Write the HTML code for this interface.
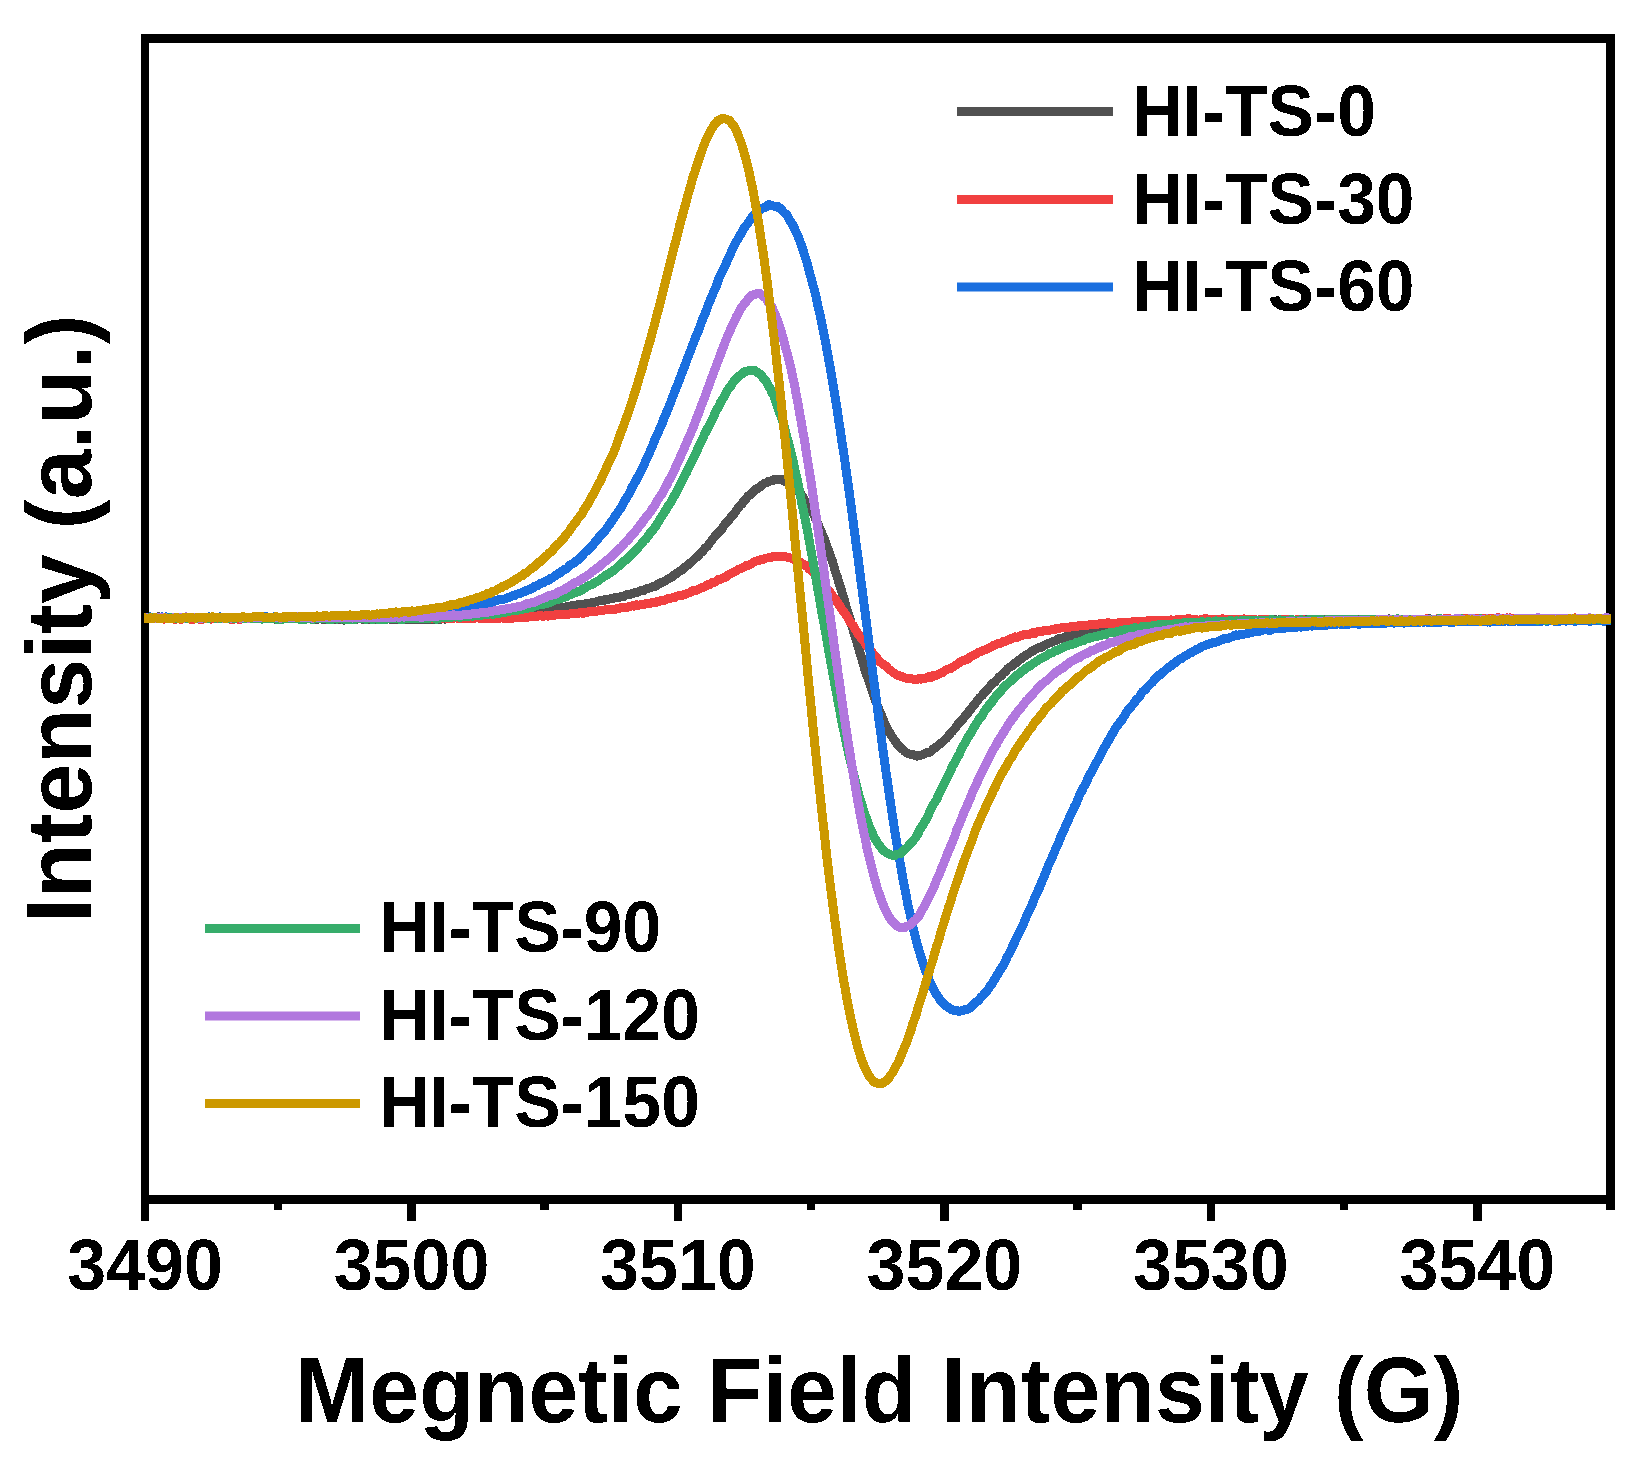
<!DOCTYPE html>
<html><head><meta charset="utf-8"><title>EPR spectra</title>
<style>
html,body{margin:0;padding:0;background:#fff;}
body{width:1647px;height:1469px;overflow:hidden;}
svg{display:block;}
text{filter:url(#bw);font-family:"Liberation Sans",Arial,Helvetica,sans-serif;font-weight:bold;fill:#000;}
.tick{font-size:70px;text-anchor:middle;}
.leg{font-size:69.6px;}
.title{font-size:89.5px;text-anchor:middle;}
.ytitle{font-size:89.8px;text-anchor:middle;}
</style></head><body>
<svg width="1647" height="1469" viewBox="0 0 1647 1469">
<rect width="1647" height="1469" fill="#fff"/>
<defs><clipPath id="clip"><rect x="144" y="38.5" width="1467" height="1161.0"/></clipPath>
<filter id="bw" x="-5%" y="-5%" width="110%" height="110%" color-interpolation-filters="sRGB"><feComponentTransfer><feFuncA type="discrete" tableValues="0 1"/></feComponentTransfer></filter></defs>
<g fill="#000"><rect x="141" y="34" width="8" height="1170"/><rect x="1606" y="34" width="9" height="1176"/><rect x="141" y="34" width="1474" height="9"/><rect x="141" y="1195" width="1474" height="9"/><rect x="141" y="1200" width="8" height="21"/><rect x="274" y="1200" width="8" height="10"/><rect x="407" y="1200" width="9" height="21"/><rect x="540" y="1200" width="9" height="10"/><rect x="674" y="1200" width="8" height="21"/><rect x="807" y="1200" width="8" height="10"/><rect x="940" y="1200" width="9" height="21"/><rect x="1073" y="1200" width="9" height="10"/><rect x="1207" y="1200" width="8" height="21"/><rect x="1340" y="1200" width="8" height="10"/><rect x="1473" y="1200" width="9" height="21"/></g>
<text class="tick" transform="translate(145.0,1290) scale(1,1.045)">3490</text>
<text class="tick" transform="translate(411.5,1290) scale(1,1.045)">3500</text>
<text class="tick" transform="translate(677.9,1290) scale(1,1.045)">3510</text>
<text class="tick" transform="translate(944.4,1290) scale(1,1.045)">3520</text>
<text class="tick" transform="translate(1210.8,1290) scale(1,1.045)">3530</text>
<text class="tick" transform="translate(1477.3,1290) scale(1,1.045)">3540</text>
<text class="title" transform="translate(879,1422) scale(1,1.035)">Megnetic Field Intensity (G)</text>
<text class="ytitle" transform="translate(91,619) rotate(-90) scale(1,1.035)">Intensity (a.u.)</text>
<g clip-path="url(#clip)" fill="none" stroke-linejoin="round" stroke-linecap="butt" shape-rendering="crispEdges">
<path d="M140.0,617.6 L141.0,617.6 L142.0,617.4 L143.0,617.3 L144.0,617.2 L145.0,617.3 L146.0,617.7 L147.0,617.9 L148.0,617.6 L149.0,617.5 L150.0,617.7 L151.0,617.8 L152.0,617.6 L153.0,617.4 L154.0,617.6 L155.0,617.7 L156.0,617.3 L157.0,617.1 L158.0,616.9 L159.0,616.8 L160.0,617.0 L161.0,617.2 L162.0,617.4 L163.0,617.6 L164.0,617.8 L165.0,617.3 L166.0,616.9 L167.0,617.2 L168.0,617.7 L169.0,617.6 L170.0,617.3 L171.0,617.3 L172.0,617.3 L173.0,617.6 L174.0,617.8 L175.0,617.7 L176.0,617.8 L177.0,618.0 L178.0,617.7 L179.0,617.7 L180.0,617.8 L181.0,617.7 L182.0,617.5 L183.0,617.9 L184.0,618.0 L185.0,617.7 L186.0,617.9 L187.0,617.9 L188.0,618.0 L189.0,618.4 L190.0,618.2 L191.0,617.7 L192.0,617.8 L193.0,618.0 L194.0,618.0 L195.0,618.1 L196.0,618.1 L197.0,618.3 L198.0,618.3 L199.0,618.0 L200.0,617.8 L201.0,617.9 L202.0,617.8 L203.0,617.6 L204.0,617.6 L205.0,618.0 L206.0,618.4 L207.0,618.3 L208.0,617.7 L209.0,617.7 L210.0,617.8 L211.0,617.5 L212.0,617.6 L213.0,618.1 L214.0,618.5 L215.0,618.4 L216.0,618.0 L217.0,617.9 L218.0,618.2 L219.0,618.4 L220.0,618.1 L221.0,618.0 L222.0,618.1 L223.0,618.1 L224.0,617.9 L225.0,617.8 L226.0,617.9 L227.0,618.2 L228.0,618.5 L229.0,618.5 L230.0,618.3 L231.0,618.3 L232.0,618.3 L233.0,618.4 L234.0,618.4 L235.0,618.2 L236.0,618.0 L237.0,617.9 L238.0,617.5 L239.0,617.4 L240.0,617.8 L241.0,618.0 L242.0,618.5 L243.0,618.8 L244.0,618.3 L245.0,618.0 L246.0,618.3 L247.0,618.4 L248.0,618.3 L249.0,618.3 L250.0,618.6 L251.0,618.4 L252.0,618.1 L253.0,618.2 L254.0,618.2 L255.0,618.1 L256.0,618.2 L257.0,618.3 L258.0,618.6 L259.0,618.6 L260.0,618.4 L261.0,618.3 L262.0,618.1 L263.0,617.7 L264.0,617.9 L265.0,618.1 L266.0,618.1 L267.0,618.2 L268.0,618.2 L269.0,618.4 L270.0,618.5 L271.0,618.6 L272.0,618.5 L273.0,618.3 L274.0,618.9 L275.0,619.1 L276.0,618.7 L277.0,618.5 L278.0,618.4 L279.0,618.5 L280.0,618.7 L281.0,618.6 L282.0,618.4 L283.0,618.3 L284.0,618.2 L285.0,618.4 L286.0,618.8 L287.0,618.9 L288.0,618.9 L289.0,618.7 L290.0,618.5 L291.0,618.5 L292.0,618.5 L293.0,618.6 L294.0,618.6 L295.0,618.4 L296.0,618.2 L297.0,618.6 L298.0,619.0 L299.0,618.7 L300.0,618.5 L301.0,619.0 L302.0,619.1 L303.0,618.6 L304.0,618.5 L305.0,618.4 L306.0,618.4 L307.0,618.8 L308.0,619.0 L309.0,618.8 L310.0,618.8 L311.0,618.9 L312.0,618.8 L313.0,618.7 L314.0,618.5 L315.0,618.7 L316.0,619.1 L317.0,619.1 L318.0,619.0 L319.0,619.0 L320.0,618.8 L321.0,618.9 L322.0,619.1 L323.0,619.0 L324.0,619.0 L325.0,619.2 L326.0,619.5 L327.0,619.5 L328.0,619.2 L329.0,618.8 L330.0,618.8 L331.0,619.3 L332.0,619.5 L333.0,619.3 L334.0,619.4 L335.0,619.6 L336.0,619.6 L337.0,619.5 L338.0,619.4 L339.0,619.4 L340.0,619.2 L341.0,619.4 L342.0,619.6 L343.0,619.8 L344.0,620.1 L345.0,619.8 L346.0,618.9 L347.0,618.8 L348.0,619.1 L349.0,619.1 L350.0,619.3 L351.0,619.3 L352.0,618.7 L353.0,618.6 L354.0,619.1 L355.0,619.4 L356.0,619.3 L357.0,619.2 L358.0,618.9 L359.0,618.8 L360.0,619.0 L361.0,618.9 L362.0,618.9 L363.0,619.3 L364.0,619.5 L365.0,619.4 L366.0,619.1 L367.0,619.0 L368.0,618.9 L369.0,619.1 L370.0,619.3 L371.0,619.3 L372.0,619.5 L373.0,619.9 L374.0,619.9 L375.0,619.5 L376.0,619.5 L377.0,619.6 L378.0,619.2 L379.0,619.0 L380.0,619.2 L381.0,619.6 L382.0,619.6 L383.0,619.4 L384.0,619.6 L385.0,619.8 L386.0,619.3 L387.0,618.8 L388.0,618.7 L389.0,618.4 L390.0,618.2 L391.0,619.1 L392.0,619.8 L393.0,619.5 L394.0,619.0 L395.0,619.2 L396.0,619.7 L397.0,619.7 L398.0,619.5 L399.0,619.4 L400.0,619.6 L401.0,619.7 L402.0,619.7 L403.0,619.4 L404.0,619.2 L405.0,619.3 L406.0,619.4 L407.0,619.4 L408.0,619.2 L409.0,619.2 L410.0,619.2 L411.0,619.2 L412.0,619.8 L413.0,619.9 L414.0,619.5 L415.0,619.5 L416.0,619.2 L417.0,618.7 L418.0,619.0 L419.0,619.3 L420.0,619.1 L421.0,618.9 L422.0,619.0 L423.0,619.3 L424.0,619.5 L425.0,619.4 L426.0,619.4 L427.0,619.5 L428.0,619.1 L429.0,618.7 L430.0,618.7 L431.0,619.4 L432.0,619.6 L433.0,619.5 L434.0,619.3 L435.0,619.1 L436.0,619.0 L437.0,618.8 L438.0,618.8 L439.0,619.0 L440.0,619.3 L441.0,619.1 L442.0,618.7 L443.0,618.5 L444.0,618.6 L445.0,619.1 L446.0,619.0 L447.0,618.6 L448.0,618.3 L449.0,618.1 L450.0,618.4 L451.0,618.6 L452.0,618.4 L453.0,618.2 L454.0,618.2 L455.0,618.0 L456.0,617.8 L457.0,617.8 L458.0,618.0 L459.0,618.1 L460.0,618.0 L461.0,618.3 L462.0,618.4 L463.0,617.9 L464.0,617.7 L465.0,617.8 L466.0,617.6 L467.0,617.5 L468.0,617.9 L469.0,618.2 L470.0,617.7 L471.0,617.2 L472.0,617.1 L473.0,617.1 L474.0,616.8 L475.0,616.9 L476.0,617.2 L477.0,617.2 L478.0,617.4 L479.0,617.6 L480.0,617.2 L481.0,617.3 L482.0,617.3 L483.0,616.8 L484.0,616.2 L485.0,616.1 L486.0,616.5 L487.0,616.9 L488.0,616.6 L489.0,616.0 L490.0,615.7 L491.0,615.8 L492.0,616.0 L493.0,615.9 L494.0,615.9 L495.0,615.8 L496.0,615.6 L497.0,615.5 L498.0,615.5 L499.0,615.4 L500.0,615.7 L501.0,615.9 L502.0,615.5 L503.0,614.9 L504.0,614.5 L505.0,614.4 L506.0,614.0 L507.0,614.1 L508.0,614.7 L509.0,614.7 L510.0,614.1 L511.0,613.7 L512.0,613.7 L513.0,613.8 L514.0,614.3 L515.0,614.5 L516.0,613.9 L517.0,613.2 L518.0,613.0 L519.0,613.1 L520.0,613.0 L521.0,612.8 L522.0,612.7 L523.0,612.7 L524.0,613.1 L525.0,613.2 L526.0,612.9 L527.0,612.5 L528.0,612.3 L529.0,612.1 L530.0,611.9 L531.0,611.6 L532.0,611.2 L533.0,611.2 L534.0,611.5 L535.0,611.5 L536.0,611.4 L537.0,611.2 L538.0,610.5 L539.0,610.4 L540.0,610.7 L541.0,610.7 L542.0,610.5 L543.0,610.6 L544.0,610.2 L545.0,609.6 L546.0,609.6 L547.0,609.9 L548.0,609.6 L549.0,609.2 L550.0,609.5 L551.0,609.7 L552.0,609.4 L553.0,608.9 L554.0,608.5 L555.0,608.6 L556.0,609.0 L557.0,608.8 L558.0,608.5 L559.0,608.1 L560.0,607.6 L561.0,607.2 L562.0,607.3 L563.0,607.4 L564.0,607.2 L565.0,607.3 L566.0,607.0 L567.0,606.5 L568.0,606.3 L569.0,606.2 L570.0,606.1 L571.0,605.9 L572.0,605.6 L573.0,605.5 L574.0,605.1 L575.0,605.0 L576.0,605.2 L577.0,605.2 L578.0,604.7 L579.0,604.5 L580.0,604.3 L581.0,604.2 L582.0,604.3 L583.0,604.3 L584.0,604.2 L585.0,603.8 L586.0,603.6 L587.0,603.3 L588.0,603.1 L589.0,603.1 L590.0,603.1 L591.0,602.9 L592.0,602.5 L593.0,602.1 L594.0,602.0 L595.0,602.2 L596.0,602.0 L597.0,601.5 L598.0,601.1 L599.0,600.9 L600.0,600.9 L601.0,600.5 L602.0,600.1 L603.0,600.4 L604.0,600.4 L605.0,599.7 L606.0,599.3 L607.0,599.2 L608.0,599.2 L609.0,599.2 L610.0,598.9 L611.0,598.7 L612.0,598.7 L613.0,598.4 L614.0,598.2 L615.0,597.7 L616.0,597.1 L617.0,597.2 L618.0,597.6 L619.0,597.4 L620.0,597.0 L621.0,596.7 L622.0,596.5 L623.0,596.5 L624.0,596.4 L625.0,595.5 L626.0,594.8 L627.0,594.5 L628.0,594.6 L629.0,594.8 L630.0,594.6 L631.0,593.8 L632.0,593.3 L633.0,593.5 L634.0,593.3 L635.0,592.5 L636.0,592.3 L637.0,592.3 L638.0,592.1 L639.0,591.6 L640.0,591.0 L641.0,590.6 L642.0,590.5 L643.0,590.8 L644.0,590.5 L645.0,589.7 L646.0,588.9 L647.0,588.4 L648.0,588.3 L649.0,588.2 L650.0,587.9 L651.0,587.3 L652.0,586.8 L653.0,586.5 L654.0,586.4 L655.0,586.4 L656.0,586.1 L657.0,585.0 L658.0,584.2 L659.0,583.8 L660.0,583.2 L661.0,582.7 L662.0,582.3 L663.0,581.8 L664.0,581.5 L665.0,581.0 L666.0,580.4 L667.0,579.7 L668.0,578.9 L669.0,578.3 L670.0,577.8 L671.0,577.3 L672.0,576.8 L673.0,576.1 L674.0,575.2 L675.0,574.5 L676.0,573.8 L677.0,573.1 L678.0,572.4 L679.0,571.5 L680.0,571.2 L681.0,570.7 L682.0,569.8 L683.0,568.9 L684.0,568.0 L685.0,567.2 L686.0,566.4 L687.0,565.7 L688.0,564.8 L689.0,563.9 L690.0,563.2 L691.0,562.5 L692.0,561.4 L693.0,560.5 L694.0,559.5 L695.0,558.4 L696.0,557.7 L697.0,556.9 L698.0,555.9 L699.0,554.8 L700.0,553.6 L701.0,552.6 L702.0,551.8 L703.0,550.8 L704.0,549.4 L705.0,548.1 L706.0,547.4 L707.0,546.7 L708.0,545.5 L709.0,543.9 L710.0,542.5 L711.0,541.6 L712.0,540.2 L713.0,538.6 L714.0,537.6 L715.0,536.3 L716.0,535.0 L717.0,534.3 L718.0,533.4 L719.0,532.1 L720.0,531.0 L721.0,530.3 L722.0,529.0 L723.0,527.2 L724.0,525.5 L725.0,524.1 L726.0,523.0 L727.0,522.1 L728.0,520.9 L729.0,519.7 L730.0,518.4 L731.0,516.9 L732.0,515.7 L733.0,514.8 L734.0,513.7 L735.0,512.5 L736.0,511.0 L737.0,509.6 L738.0,508.3 L739.0,506.7 L740.0,505.5 L741.0,504.7 L742.0,503.7 L743.0,502.3 L744.0,500.9 L745.0,499.8 L746.0,498.8 L747.0,497.4 L748.0,496.2 L749.0,495.7 L750.0,495.2 L751.0,494.1 L752.0,492.9 L753.0,492.1 L754.0,490.9 L755.0,489.6 L756.0,489.0 L757.0,488.8 L758.0,488.2 L759.0,487.7 L760.0,486.8 L761.0,485.8 L762.0,485.1 L763.0,484.4 L764.0,483.6 L765.0,483.1 L766.0,483.0 L767.0,482.7 L768.0,481.8 L769.0,481.2 L770.0,481.1 L771.0,480.9 L772.0,480.6 L773.0,480.3 L774.0,479.7 L775.0,479.5 L776.0,479.6 L777.0,479.9 L778.0,479.7 L779.0,479.2 L780.0,479.3 L781.0,479.7 L782.0,479.7 L783.0,479.9 L784.0,480.8 L785.0,481.3 L786.0,481.5 L787.0,481.9 L788.0,482.5 L789.0,483.2 L790.0,483.7 L791.0,484.0 L792.0,484.6 L793.0,485.6 L794.0,486.5 L795.0,487.6 L796.0,488.5 L797.0,489.3 L798.0,490.4 L799.0,491.7 L800.0,493.0 L801.0,494.0 L802.0,495.4 L803.0,497.4 L804.0,499.3 L805.0,500.6 L806.0,501.6 L807.0,503.1 L808.0,504.9 L809.0,506.2 L810.0,507.7 L811.0,509.7 L812.0,511.7 L813.0,513.2 L814.0,514.8 L815.0,517.1 L816.0,519.6 L817.0,521.8 L818.0,524.0 L819.0,526.5 L820.0,528.9 L821.0,531.2 L822.0,533.5 L823.0,535.8 L824.0,538.2 L825.0,541.0 L826.0,544.0 L827.0,546.5 L828.0,549.0 L829.0,551.8 L830.0,554.9 L831.0,557.7 L832.0,560.2 L833.0,563.1 L834.0,566.8 L835.0,570.5 L836.0,573.4 L837.0,576.1 L838.0,579.5 L839.0,582.9 L840.0,585.7 L841.0,588.8 L842.0,592.4 L843.0,595.7 L844.0,598.9 L845.0,602.2 L846.0,606.1 L847.0,609.6 L848.0,612.7 L849.0,615.6 L850.0,618.6 L851.0,622.3 L852.0,626.0 L853.0,629.5 L854.0,632.9 L855.0,635.9 L856.0,639.1 L857.0,642.7 L858.0,646.1 L859.0,649.4 L860.0,652.8 L861.0,655.9 L862.0,659.2 L863.0,663.0 L864.0,666.6 L865.0,670.1 L866.0,673.3 L867.0,675.8 L868.0,678.3 L869.0,681.3 L870.0,684.4 L871.0,687.6 L872.0,690.5 L873.0,693.2 L874.0,696.1 L875.0,698.9 L876.0,701.8 L877.0,704.6 L878.0,707.1 L879.0,709.6 L880.0,711.9 L881.0,714.1 L882.0,716.4 L883.0,719.2 L884.0,722.1 L885.0,724.5 L886.0,726.3 L887.0,727.8 L888.0,729.6 L889.0,731.6 L890.0,733.3 L891.0,734.8 L892.0,736.4 L893.0,738.0 L894.0,739.4 L895.0,740.7 L896.0,742.0 L897.0,743.7 L898.0,745.4 L899.0,746.2 L900.0,747.1 L901.0,748.3 L902.0,749.1 L903.0,749.7 L904.0,750.6 L905.0,751.7 L906.0,752.4 L907.0,753.1 L908.0,753.7 L909.0,753.9 L910.0,754.1 L911.0,754.7 L912.0,755.0 L913.0,754.8 L914.0,754.9 L915.0,755.4 L916.0,755.8 L917.0,756.1 L918.0,755.9 L919.0,755.4 L920.0,755.4 L921.0,755.2 L922.0,754.9 L923.0,754.7 L924.0,754.0 L925.0,753.3 L926.0,753.1 L927.0,752.7 L928.0,752.4 L929.0,752.3 L930.0,752.0 L931.0,751.5 L932.0,750.4 L933.0,749.2 L934.0,748.5 L935.0,747.8 L936.0,747.1 L937.0,746.6 L938.0,745.5 L939.0,744.5 L940.0,744.0 L941.0,743.3 L942.0,742.4 L943.0,741.5 L944.0,740.5 L945.0,739.6 L946.0,738.7 L947.0,737.6 L948.0,736.4 L949.0,735.1 L950.0,733.7 L951.0,732.6 L952.0,731.7 L953.0,730.5 L954.0,729.4 L955.0,728.6 L956.0,727.2 L957.0,725.4 L958.0,724.1 L959.0,723.3 L960.0,722.2 L961.0,721.0 L962.0,719.8 L963.0,718.7 L964.0,717.5 L965.0,716.2 L966.0,715.1 L967.0,714.5 L968.0,713.3 L969.0,711.4 L970.0,709.8 L971.0,708.7 L972.0,707.6 L973.0,706.2 L974.0,705.0 L975.0,703.8 L976.0,702.4 L977.0,701.2 L978.0,699.9 L979.0,698.4 L980.0,697.3 L981.0,696.6 L982.0,695.7 L983.0,694.3 L984.0,692.8 L985.0,692.0 L986.0,691.3 L987.0,690.2 L988.0,688.8 L989.0,687.6 L990.0,686.6 L991.0,685.3 L992.0,684.0 L993.0,683.2 L994.0,682.7 L995.0,681.7 L996.0,680.6 L997.0,679.4 L998.0,678.4 L999.0,677.2 L1000.0,676.5 L1001.0,676.1 L1002.0,674.8 L1003.0,673.4 L1004.0,672.4 L1005.0,671.8 L1006.0,671.0 L1007.0,669.5 L1008.0,668.3 L1009.0,667.7 L1010.0,667.1 L1011.0,666.5 L1012.0,665.9 L1013.0,665.0 L1014.0,664.0 L1015.0,663.0 L1016.0,662.7 L1017.0,662.3 L1018.0,661.3 L1019.0,660.2 L1020.0,659.6 L1021.0,659.0 L1022.0,657.8 L1023.0,657.1 L1024.0,656.7 L1025.0,656.0 L1026.0,655.2 L1027.0,654.5 L1028.0,653.9 L1029.0,653.3 L1030.0,652.5 L1031.0,651.7 L1032.0,651.4 L1033.0,651.0 L1034.0,650.2 L1035.0,649.7 L1036.0,649.2 L1037.0,648.5 L1038.0,647.9 L1039.0,647.5 L1040.0,647.6 L1041.0,647.7 L1042.0,647.0 L1043.0,646.0 L1044.0,645.4 L1045.0,644.9 L1046.0,644.6 L1047.0,644.1 L1048.0,643.4 L1049.0,643.1 L1050.0,642.9 L1051.0,642.6 L1052.0,642.0 L1053.0,641.3 L1054.0,641.1 L1055.0,640.9 L1056.0,640.5 L1057.0,640.0 L1058.0,639.2 L1059.0,638.7 L1060.0,638.9 L1061.0,638.9 L1062.0,638.4 L1063.0,638.1 L1064.0,637.8 L1065.0,637.2 L1066.0,636.7 L1067.0,636.7 L1068.0,636.5 L1069.0,636.0 L1070.0,635.9 L1071.0,635.4 L1072.0,635.1 L1073.0,635.2 L1074.0,634.7 L1075.0,634.1 L1076.0,634.1 L1077.0,634.4 L1078.0,634.2 L1079.0,633.6 L1080.0,633.5 L1081.0,633.2 L1082.0,632.8 L1083.0,632.6 L1084.0,632.4 L1085.0,632.0 L1086.0,631.8 L1087.0,631.8 L1088.0,631.5 L1089.0,631.2 L1090.0,631.2 L1091.0,631.3 L1092.0,631.2 L1093.0,631.1 L1094.0,631.0 L1095.0,631.0 L1096.0,630.7 L1097.0,630.2 L1098.0,629.9 L1099.0,629.9 L1100.0,630.2 L1101.0,629.8 L1102.0,628.7 L1103.0,628.6 L1104.0,629.0 L1105.0,629.1 L1106.0,628.9 L1107.0,628.6 L1108.0,628.5 L1109.0,628.4 L1110.0,628.2 L1111.0,627.9 L1112.0,627.4 L1113.0,627.4 L1114.0,627.5 L1115.0,627.5 L1116.0,627.2 L1117.0,626.9 L1118.0,626.9 L1119.0,626.6 L1120.0,626.2 L1121.0,626.1 L1122.0,626.4 L1123.0,626.8 L1124.0,626.7 L1125.0,626.5 L1126.0,626.5 L1127.0,626.2 L1128.0,626.0 L1129.0,626.2 L1130.0,626.1 L1131.0,625.7 L1132.0,625.5 L1133.0,625.4 L1134.0,625.3 L1135.0,625.2 L1136.0,625.4 L1137.0,625.3 L1138.0,625.0 L1139.0,624.9 L1140.0,625.0 L1141.0,624.9 L1142.0,625.0 L1143.0,625.2 L1144.0,625.2 L1145.0,625.2 L1146.0,624.9 L1147.0,624.3 L1148.0,624.2 L1149.0,624.3 L1150.0,624.3 L1151.0,624.1 L1152.0,623.7 L1153.0,623.4 L1154.0,623.3 L1155.0,623.2 L1156.0,623.5 L1157.0,623.5 L1158.0,623.3 L1159.0,623.5 L1160.0,623.4 L1161.0,622.9 L1162.0,622.6 L1163.0,622.5 L1164.0,622.5 L1165.0,622.9 L1166.0,623.4 L1167.0,623.2 L1168.0,622.9 L1169.0,622.8 L1170.0,622.8 L1171.0,622.9 L1172.0,622.9 L1173.0,623.2 L1174.0,623.4 L1175.0,623.1 L1176.0,622.6 L1177.0,622.5 L1178.0,622.6 L1179.0,622.7 L1180.0,622.7 L1181.0,622.8 L1182.0,622.6 L1183.0,622.0 L1184.0,622.1 L1185.0,622.5 L1186.0,622.2 L1187.0,621.9 L1188.0,621.8 L1189.0,621.8 L1190.0,622.3 L1191.0,622.9 L1192.0,622.5 L1193.0,621.7 L1194.0,621.5 L1195.0,621.8 L1196.0,622.0 L1197.0,621.7 L1198.0,621.7 L1199.0,622.1 L1200.0,622.1 L1201.0,621.6 L1202.0,621.1 L1203.0,621.0 L1204.0,620.9 L1205.0,621.0 L1206.0,621.4 L1207.0,621.6 L1208.0,621.8 L1209.0,622.2 L1210.0,621.9 L1211.0,621.4 L1212.0,621.7 L1213.0,621.7 L1214.0,621.2 L1215.0,621.0 L1216.0,620.9 L1217.0,621.0 L1218.0,621.1 L1219.0,620.6 L1220.0,620.6 L1221.0,620.9 L1222.0,621.1 L1223.0,621.2 L1224.0,621.2 L1225.0,621.2 L1226.0,621.1 L1227.0,620.6 L1228.0,620.7 L1229.0,620.8 L1230.0,621.0 L1231.0,620.9 L1232.0,620.7 L1233.0,620.8 L1234.0,621.1 L1235.0,621.0 L1236.0,621.0 L1237.0,621.7 L1238.0,621.6 L1239.0,620.8 L1240.0,621.0 L1241.0,621.6 L1242.0,621.4 L1243.0,620.9 L1244.0,620.6 L1245.0,620.5 L1246.0,620.5 L1247.0,620.6 L1248.0,620.7 L1249.0,620.6 L1250.0,620.3 L1251.0,620.2 L1252.0,620.3 L1253.0,620.3 L1254.0,620.6 L1255.0,620.9 L1256.0,620.9 L1257.0,620.8 L1258.0,620.7 L1259.0,620.6 L1260.0,620.4 L1261.0,620.5 L1262.0,620.5 L1263.0,620.4 L1264.0,620.7 L1265.0,620.5 L1266.0,620.1 L1267.0,620.1 L1268.0,620.2 L1269.0,620.2 L1270.0,620.3 L1271.0,620.5 L1272.0,620.0 L1273.0,619.5 L1274.0,619.5 L1275.0,619.6 L1276.0,620.2 L1277.0,620.7 L1278.0,620.4 L1279.0,619.9 L1280.0,620.1 L1281.0,620.7 L1282.0,620.6 L1283.0,620.4 L1284.0,620.8 L1285.0,621.2 L1286.0,620.9 L1287.0,620.4 L1288.0,620.4 L1289.0,620.3 L1290.0,619.9 L1291.0,619.8 L1292.0,619.9 L1293.0,619.9 L1294.0,620.0 L1295.0,620.4 L1296.0,620.6 L1297.0,620.2 L1298.0,619.9 L1299.0,620.1 L1300.0,620.3 L1301.0,620.3 L1302.0,619.9 L1303.0,619.5 L1304.0,619.3 L1305.0,619.6 L1306.0,620.0 L1307.0,620.0 L1308.0,619.7 L1309.0,619.8 L1310.0,620.0 L1311.0,620.0 L1312.0,619.8 L1313.0,619.6 L1314.0,619.3 L1315.0,619.6 L1316.0,619.9 L1317.0,619.5 L1318.0,619.6 L1319.0,619.9 L1320.0,619.7 L1321.0,619.6 L1322.0,619.8 L1323.0,619.9 L1324.0,619.6 L1325.0,619.3 L1326.0,619.5 L1327.0,619.5 L1328.0,619.6 L1329.0,619.9 L1330.0,620.2 L1331.0,620.1 L1332.0,619.9 L1333.0,620.2 L1334.0,620.4 L1335.0,620.5 L1336.0,620.3 L1337.0,619.9 L1338.0,619.8 L1339.0,619.8 L1340.0,619.6 L1341.0,619.6 L1342.0,619.6 L1343.0,619.4 L1344.0,619.1 L1345.0,619.3 L1346.0,619.8 L1347.0,620.1 L1348.0,620.1 L1349.0,619.8 L1350.0,619.6 L1351.0,619.5 L1352.0,619.7 L1353.0,619.8 L1354.0,620.1 L1355.0,620.3 L1356.0,619.7 L1357.0,619.2 L1358.0,619.1 L1359.0,619.0 L1360.0,619.3 L1361.0,619.9 L1362.0,619.7 L1363.0,619.4 L1364.0,619.8 L1365.0,620.1 L1366.0,619.6 L1367.0,619.4 L1368.0,619.5 L1369.0,619.8 L1370.0,620.0 L1371.0,620.2 L1372.0,620.3 L1373.0,620.3 L1374.0,620.3 L1375.0,619.8 L1376.0,619.3 L1377.0,619.4 L1378.0,619.6 L1379.0,619.7 L1380.0,619.8 L1381.0,619.5 L1382.0,619.5 L1383.0,620.0 L1384.0,620.0 L1385.0,619.9 L1386.0,620.0 L1387.0,620.1 L1388.0,619.5 L1389.0,618.9 L1390.0,619.0 L1391.0,619.2 L1392.0,619.3 L1393.0,619.7 L1394.0,619.9 L1395.0,619.4 L1396.0,619.5 L1397.0,619.9 L1398.0,619.5 L1399.0,619.2 L1400.0,619.5 L1401.0,619.6 L1402.0,619.5 L1403.0,619.6 L1404.0,619.4 L1405.0,619.2 L1406.0,619.6 L1407.0,619.7 L1408.0,619.5 L1409.0,619.5 L1410.0,619.9 L1411.0,620.2 L1412.0,619.9 L1413.0,619.8 L1414.0,619.7 L1415.0,619.6 L1416.0,619.8 L1417.0,620.0 L1418.0,620.0 L1419.0,619.7 L1420.0,619.3 L1421.0,619.3 L1422.0,619.6 L1423.0,619.9 L1424.0,620.0 L1425.0,619.9 L1426.0,620.0 L1427.0,620.1 L1428.0,619.5 L1429.0,618.9 L1430.0,618.8 L1431.0,619.1 L1432.0,619.6 L1433.0,619.6 L1434.0,619.8 L1435.0,620.0 L1436.0,620.2 L1437.0,620.0 L1438.0,619.5 L1439.0,619.4 L1440.0,619.5 L1441.0,619.4 L1442.0,619.3 L1443.0,619.6 L1444.0,619.7 L1445.0,619.2 L1446.0,619.2 L1447.0,619.3 L1448.0,619.5 L1449.0,619.7 L1450.0,619.7 L1451.0,619.4 L1452.0,619.3 L1453.0,619.4 L1454.0,619.5 L1455.0,619.6 L1456.0,619.2 L1457.0,618.6 L1458.0,618.9 L1459.0,619.6 L1460.0,619.9 L1461.0,619.8 L1462.0,619.3 L1463.0,619.3 L1464.0,619.9 L1465.0,620.1 L1466.0,619.7 L1467.0,619.1 L1468.0,619.1 L1469.0,619.8 L1470.0,620.4 L1471.0,620.2 L1472.0,619.9 L1473.0,619.6 L1474.0,619.4 L1475.0,619.5 L1476.0,619.2 L1477.0,619.2 L1478.0,619.6 L1479.0,619.7 L1480.0,619.7 L1481.0,619.5 L1482.0,619.1 L1483.0,619.0 L1484.0,619.1 L1485.0,619.0 L1486.0,618.8 L1487.0,618.8 L1488.0,618.8 L1489.0,618.6 L1490.0,618.6 L1491.0,618.8 L1492.0,619.3 L1493.0,619.8 L1494.0,619.8 L1495.0,619.2 L1496.0,619.1 L1497.0,619.5 L1498.0,619.4 L1499.0,619.5 L1500.0,619.8 L1501.0,619.4 L1502.0,618.8 L1503.0,618.9 L1504.0,619.3 L1505.0,619.3 L1506.0,618.9 L1507.0,619.0 L1508.0,619.5 L1509.0,619.5 L1510.0,619.4 L1511.0,619.5 L1512.0,619.4 L1513.0,618.9 L1514.0,619.1 L1515.0,619.4 L1516.0,619.0 L1517.0,618.7 L1518.0,619.1 L1519.0,619.8 L1520.0,619.6 L1521.0,619.4 L1522.0,619.6 L1523.0,619.6 L1524.0,619.7 L1525.0,620.0 L1526.0,619.8 L1527.0,619.4 L1528.0,619.2 L1529.0,619.3 L1530.0,618.9 L1531.0,619.0 L1532.0,619.9 L1533.0,620.2 L1534.0,619.9 L1535.0,619.6 L1536.0,619.9 L1537.0,620.2 L1538.0,620.0 L1539.0,619.4 L1540.0,619.0 L1541.0,618.9 L1542.0,618.5 L1543.0,618.6 L1544.0,619.0 L1545.0,619.1 L1546.0,619.2 L1547.0,619.6 L1548.0,620.1 L1549.0,620.0 L1550.0,619.7 L1551.0,619.6 L1552.0,619.3 L1553.0,619.3 L1554.0,619.4 L1555.0,619.1 L1556.0,618.9 L1557.0,619.0 L1558.0,619.5 L1559.0,619.7 L1560.0,619.4 L1561.0,619.2 L1562.0,619.0 L1563.0,618.8 L1564.0,619.1 L1565.0,619.9 L1566.0,620.3 L1567.0,619.7 L1568.0,619.3 L1569.0,619.4 L1570.0,619.5 L1571.0,619.6 L1572.0,619.6 L1573.0,619.6 L1574.0,619.5 L1575.0,619.2 L1576.0,619.0 L1577.0,618.8 L1578.0,618.8 L1579.0,618.9 L1580.0,619.0 L1581.0,619.1 L1582.0,619.3 L1583.0,619.3 L1584.0,618.9 L1585.0,618.8 L1586.0,619.1 L1587.0,619.7 L1588.0,620.1 L1589.0,619.8 L1590.0,619.6 L1591.0,619.5 L1592.0,619.4 L1593.0,619.5 L1594.0,619.0 L1595.0,618.9 L1596.0,619.9 L1597.0,620.0 L1598.0,619.3 L1599.0,619.3 L1600.0,619.4 L1601.0,619.2 L1602.0,618.9 L1603.0,619.1 L1604.0,619.5 L1605.0,619.7 L1606.0,619.8 L1607.0,619.9 L1608.0,619.9 L1609.0,619.6 L1610.0,619.1 L1611.0,618.7 L1612.0,619.0 L1613.0,619.5 L1614.0,619.4 L1615.0,619.4" stroke="#515151" stroke-width="9"/>
<path d="M140.0,618.7 L141.0,619.1 L142.0,619.3 L143.0,619.0 L144.0,618.8 L145.0,618.5 L146.0,618.3 L147.0,618.2 L148.0,618.5 L149.0,618.8 L150.0,618.9 L151.0,618.7 L152.0,618.4 L153.0,618.2 L154.0,618.2 L155.0,618.5 L156.0,618.8 L157.0,618.8 L158.0,618.6 L159.0,618.5 L160.0,618.5 L161.0,618.8 L162.0,618.6 L163.0,618.9 L164.0,619.1 L165.0,618.2 L166.0,618.0 L167.0,618.5 L168.0,618.5 L169.0,618.3 L170.0,618.5 L171.0,618.8 L172.0,618.6 L173.0,618.3 L174.0,618.9 L175.0,619.4 L176.0,619.1 L177.0,618.6 L178.0,618.2 L179.0,618.1 L180.0,618.8 L181.0,619.4 L182.0,618.8 L183.0,618.1 L184.0,618.3 L185.0,618.7 L186.0,618.9 L187.0,618.8 L188.0,618.4 L189.0,618.5 L190.0,619.1 L191.0,619.2 L192.0,619.2 L193.0,619.3 L194.0,619.0 L195.0,618.8 L196.0,619.0 L197.0,618.7 L198.0,618.4 L199.0,619.0 L200.0,619.6 L201.0,619.5 L202.0,619.3 L203.0,618.7 L204.0,618.3 L205.0,618.7 L206.0,618.6 L207.0,618.0 L208.0,618.2 L209.0,618.7 L210.0,619.0 L211.0,619.1 L212.0,619.0 L213.0,618.7 L214.0,618.2 L215.0,618.1 L216.0,618.5 L217.0,618.7 L218.0,618.7 L219.0,618.7 L220.0,618.7 L221.0,618.9 L222.0,618.8 L223.0,618.4 L224.0,617.8 L225.0,617.6 L226.0,618.0 L227.0,618.6 L228.0,618.9 L229.0,618.8 L230.0,619.0 L231.0,619.5 L232.0,619.6 L233.0,619.3 L234.0,619.2 L235.0,618.8 L236.0,618.1 L237.0,617.9 L238.0,618.6 L239.0,619.3 L240.0,619.4 L241.0,618.9 L242.0,618.7 L243.0,618.3 L244.0,618.0 L245.0,618.3 L246.0,618.4 L247.0,618.4 L248.0,618.8 L249.0,618.7 L250.0,618.6 L251.0,618.4 L252.0,618.3 L253.0,618.5 L254.0,618.6 L255.0,618.2 L256.0,618.2 L257.0,618.8 L258.0,618.7 L259.0,618.2 L260.0,618.1 L261.0,618.0 L262.0,618.3 L263.0,618.4 L264.0,618.1 L265.0,618.5 L266.0,618.7 L267.0,618.4 L268.0,618.3 L269.0,618.2 L270.0,617.9 L271.0,618.0 L272.0,618.4 L273.0,618.4 L274.0,618.2 L275.0,618.3 L276.0,618.4 L277.0,618.3 L278.0,618.1 L279.0,618.2 L280.0,618.1 L281.0,618.1 L282.0,618.6 L283.0,618.6 L284.0,618.1 L285.0,617.8 L286.0,617.7 L287.0,617.6 L288.0,617.8 L289.0,617.9 L290.0,617.6 L291.0,617.5 L292.0,617.9 L293.0,618.1 L294.0,618.2 L295.0,617.9 L296.0,617.7 L297.0,617.4 L298.0,617.3 L299.0,617.9 L300.0,618.4 L301.0,618.3 L302.0,618.1 L303.0,618.1 L304.0,618.0 L305.0,617.8 L306.0,617.7 L307.0,617.6 L308.0,617.7 L309.0,617.8 L310.0,617.6 L311.0,617.5 L312.0,617.7 L313.0,617.6 L314.0,617.2 L315.0,617.2 L316.0,617.6 L317.0,617.9 L318.0,618.1 L319.0,618.0 L320.0,617.7 L321.0,617.3 L322.0,617.3 L323.0,617.5 L324.0,617.7 L325.0,617.9 L326.0,618.3 L327.0,618.3 L328.0,617.8 L329.0,617.5 L330.0,617.5 L331.0,617.6 L332.0,617.5 L333.0,617.3 L334.0,617.6 L335.0,618.0 L336.0,618.1 L337.0,618.0 L338.0,617.8 L339.0,617.6 L340.0,617.3 L341.0,617.5 L342.0,617.7 L343.0,617.3 L344.0,617.5 L345.0,618.1 L346.0,618.2 L347.0,617.9 L348.0,617.9 L349.0,617.9 L350.0,617.7 L351.0,617.3 L352.0,617.2 L353.0,617.4 L354.0,617.5 L355.0,617.2 L356.0,616.8 L357.0,616.9 L358.0,617.2 L359.0,617.3 L360.0,617.9 L361.0,618.2 L362.0,617.9 L363.0,617.6 L364.0,617.4 L365.0,617.2 L366.0,617.2 L367.0,617.3 L368.0,617.2 L369.0,617.1 L370.0,617.1 L371.0,617.0 L372.0,617.1 L373.0,617.5 L374.0,617.8 L375.0,617.8 L376.0,617.9 L377.0,617.8 L378.0,617.7 L379.0,617.6 L380.0,617.6 L381.0,617.8 L382.0,617.7 L383.0,617.8 L384.0,617.9 L385.0,617.4 L386.0,617.2 L387.0,617.4 L388.0,617.6 L389.0,617.7 L390.0,617.8 L391.0,617.9 L392.0,617.6 L393.0,617.5 L394.0,617.9 L395.0,617.8 L396.0,617.6 L397.0,617.9 L398.0,617.7 L399.0,617.3 L400.0,617.3 L401.0,617.5 L402.0,617.4 L403.0,617.3 L404.0,617.5 L405.0,617.6 L406.0,617.7 L407.0,618.1 L408.0,618.5 L409.0,618.3 L410.0,617.8 L411.0,617.4 L412.0,617.3 L413.0,617.4 L414.0,617.5 L415.0,617.7 L416.0,617.9 L417.0,618.0 L418.0,618.0 L419.0,618.1 L420.0,617.8 L421.0,617.2 L422.0,617.3 L423.0,617.9 L424.0,618.0 L425.0,617.9 L426.0,617.9 L427.0,618.0 L428.0,617.9 L429.0,617.8 L430.0,617.9 L431.0,618.2 L432.0,618.3 L433.0,618.2 L434.0,617.9 L435.0,617.7 L436.0,617.8 L437.0,617.6 L438.0,617.3 L439.0,617.3 L440.0,617.5 L441.0,618.1 L442.0,618.4 L443.0,617.7 L444.0,617.3 L445.0,617.8 L446.0,618.2 L447.0,618.5 L448.0,618.3 L449.0,617.8 L450.0,617.8 L451.0,618.1 L452.0,618.1 L453.0,618.1 L454.0,618.2 L455.0,618.0 L456.0,617.6 L457.0,617.9 L458.0,618.6 L459.0,618.8 L460.0,618.6 L461.0,618.6 L462.0,618.8 L463.0,618.8 L464.0,618.4 L465.0,618.3 L466.0,618.5 L467.0,618.3 L468.0,618.1 L469.0,618.3 L470.0,618.3 L471.0,618.2 L472.0,618.4 L473.0,618.5 L474.0,618.5 L475.0,618.2 L476.0,617.7 L477.0,617.5 L478.0,617.7 L479.0,618.1 L480.0,618.4 L481.0,618.2 L482.0,618.3 L483.0,618.8 L484.0,618.6 L485.0,618.3 L486.0,618.4 L487.0,618.6 L488.0,618.7 L489.0,618.5 L490.0,618.2 L491.0,618.3 L492.0,618.3 L493.0,618.7 L494.0,618.3 L495.0,618.0 L496.0,618.4 L497.0,617.9 L498.0,617.7 L499.0,618.2 L500.0,618.1 L501.0,617.9 L502.0,618.0 L503.0,618.1 L504.0,617.9 L505.0,617.9 L506.0,618.5 L507.0,618.5 L508.0,618.1 L509.0,618.0 L510.0,618.0 L511.0,618.1 L512.0,618.1 L513.0,618.1 L514.0,617.9 L515.0,617.7 L516.0,617.6 L517.0,617.5 L518.0,617.4 L519.0,616.9 L520.0,616.9 L521.0,617.1 L522.0,617.0 L523.0,617.2 L524.0,617.1 L525.0,616.6 L526.0,617.0 L527.0,617.3 L528.0,617.2 L529.0,617.0 L530.0,616.4 L531.0,615.8 L532.0,616.0 L533.0,616.3 L534.0,616.6 L535.0,616.4 L536.0,616.0 L537.0,616.2 L538.0,616.2 L539.0,615.6 L540.0,615.4 L541.0,615.7 L542.0,616.0 L543.0,616.3 L544.0,616.2 L545.0,615.8 L546.0,615.6 L547.0,615.8 L548.0,616.2 L549.0,615.7 L550.0,615.2 L551.0,615.5 L552.0,615.7 L553.0,615.7 L554.0,615.3 L555.0,614.8 L556.0,614.9 L557.0,614.8 L558.0,614.6 L559.0,614.7 L560.0,614.7 L561.0,614.8 L562.0,614.8 L563.0,614.6 L564.0,614.6 L565.0,614.7 L566.0,614.4 L567.0,614.2 L568.0,614.3 L569.0,614.1 L570.0,613.8 L571.0,613.8 L572.0,614.0 L573.0,613.9 L574.0,613.7 L575.0,613.5 L576.0,613.4 L577.0,613.3 L578.0,613.3 L579.0,613.0 L580.0,612.8 L581.0,612.7 L582.0,612.9 L583.0,613.3 L584.0,613.0 L585.0,612.5 L586.0,612.3 L587.0,612.3 L588.0,612.0 L589.0,611.7 L590.0,611.6 L591.0,611.5 L592.0,611.3 L593.0,611.2 L594.0,611.1 L595.0,611.0 L596.0,611.3 L597.0,611.3 L598.0,610.8 L599.0,610.7 L600.0,610.8 L601.0,610.5 L602.0,610.3 L603.0,610.3 L604.0,610.0 L605.0,609.9 L606.0,610.0 L607.0,609.9 L608.0,609.5 L609.0,609.3 L610.0,609.2 L611.0,609.4 L612.0,609.6 L613.0,609.4 L614.0,609.2 L615.0,609.2 L616.0,609.1 L617.0,608.7 L618.0,608.1 L619.0,608.2 L620.0,608.1 L621.0,607.7 L622.0,607.9 L623.0,607.9 L624.0,607.6 L625.0,607.6 L626.0,607.6 L627.0,607.4 L628.0,606.9 L629.0,606.4 L630.0,606.4 L631.0,606.2 L632.0,605.8 L633.0,606.0 L634.0,606.1 L635.0,605.5 L636.0,604.8 L637.0,604.8 L638.0,605.1 L639.0,605.1 L640.0,605.0 L641.0,604.6 L642.0,604.5 L643.0,604.7 L644.0,604.6 L645.0,604.1 L646.0,603.5 L647.0,603.3 L648.0,603.4 L649.0,603.6 L650.0,603.5 L651.0,603.1 L652.0,602.7 L653.0,602.5 L654.0,602.8 L655.0,603.0 L656.0,602.2 L657.0,601.6 L658.0,601.7 L659.0,601.3 L660.0,600.9 L661.0,600.9 L662.0,600.7 L663.0,600.6 L664.0,600.4 L665.0,599.9 L666.0,599.7 L667.0,599.2 L668.0,598.7 L669.0,598.7 L670.0,598.5 L671.0,598.1 L672.0,597.9 L673.0,597.7 L674.0,597.7 L675.0,597.4 L676.0,596.6 L677.0,596.1 L678.0,595.9 L679.0,595.5 L680.0,595.2 L681.0,595.3 L682.0,595.4 L683.0,595.1 L684.0,594.7 L685.0,594.4 L686.0,594.0 L687.0,593.5 L688.0,593.1 L689.0,593.0 L690.0,592.8 L691.0,592.0 L692.0,591.0 L693.0,590.5 L694.0,590.4 L695.0,590.4 L696.0,590.3 L697.0,589.8 L698.0,589.3 L699.0,588.9 L700.0,588.3 L701.0,587.8 L702.0,587.7 L703.0,587.5 L704.0,587.1 L705.0,586.7 L706.0,586.2 L707.0,585.2 L708.0,584.7 L709.0,584.7 L710.0,584.3 L711.0,583.4 L712.0,582.7 L713.0,582.6 L714.0,582.4 L715.0,582.0 L716.0,581.3 L717.0,580.6 L718.0,579.7 L719.0,579.3 L720.0,579.5 L721.0,579.0 L722.0,578.6 L723.0,578.1 L724.0,577.5 L725.0,577.3 L726.0,576.8 L727.0,575.9 L728.0,575.0 L729.0,574.4 L730.0,574.1 L731.0,573.7 L732.0,573.0 L733.0,572.3 L734.0,571.8 L735.0,571.5 L736.0,571.2 L737.0,570.5 L738.0,569.7 L739.0,569.2 L740.0,569.0 L741.0,568.5 L742.0,568.0 L743.0,567.6 L744.0,566.9 L745.0,566.6 L746.0,566.0 L747.0,565.2 L748.0,565.2 L749.0,565.2 L750.0,564.6 L751.0,564.0 L752.0,563.4 L753.0,562.6 L754.0,562.0 L755.0,561.5 L756.0,561.2 L757.0,561.0 L758.0,560.7 L759.0,560.3 L760.0,559.9 L761.0,559.7 L762.0,559.6 L763.0,559.4 L764.0,559.1 L765.0,558.7 L766.0,558.2 L767.0,558.0 L768.0,557.9 L769.0,557.9 L770.0,557.8 L771.0,557.4 L772.0,556.9 L773.0,556.4 L774.0,556.2 L775.0,556.5 L776.0,556.9 L777.0,556.6 L778.0,556.3 L779.0,556.6 L780.0,556.8 L781.0,556.6 L782.0,556.4 L783.0,556.4 L784.0,556.7 L785.0,556.9 L786.0,556.9 L787.0,557.2 L788.0,557.5 L789.0,557.5 L790.0,557.8 L791.0,558.2 L792.0,558.3 L793.0,558.7 L794.0,559.6 L795.0,559.7 L796.0,559.7 L797.0,560.2 L798.0,560.9 L799.0,561.5 L800.0,562.2 L801.0,563.1 L802.0,564.0 L803.0,564.4 L804.0,564.4 L805.0,565.0 L806.0,565.8 L807.0,566.2 L808.0,567.5 L809.0,569.0 L810.0,569.6 L811.0,570.4 L812.0,571.1 L813.0,571.6 L814.0,572.8 L815.0,574.4 L816.0,575.9 L817.0,576.8 L818.0,577.4 L819.0,578.4 L820.0,579.4 L821.0,580.3 L822.0,581.4 L823.0,583.2 L824.0,584.9 L825.0,586.0 L826.0,587.0 L827.0,588.4 L828.0,589.5 L829.0,590.6 L830.0,592.1 L831.0,593.7 L832.0,595.4 L833.0,596.8 L834.0,597.8 L835.0,598.8 L836.0,599.8 L837.0,601.6 L838.0,603.4 L839.0,604.8 L840.0,606.2 L841.0,608.0 L842.0,609.5 L843.0,610.8 L844.0,612.1 L845.0,613.5 L846.0,615.3 L847.0,616.6 L848.0,617.8 L849.0,619.7 L850.0,621.7 L851.0,623.3 L852.0,624.4 L853.0,625.3 L854.0,627.0 L855.0,629.0 L856.0,630.4 L857.0,631.7 L858.0,633.6 L859.0,635.4 L860.0,636.6 L861.0,637.8 L862.0,639.1 L863.0,640.2 L864.0,641.5 L865.0,643.0 L866.0,644.6 L867.0,646.4 L868.0,647.5 L869.0,648.0 L870.0,649.1 L871.0,650.7 L872.0,652.2 L873.0,653.5 L874.0,654.9 L875.0,656.1 L876.0,657.0 L877.0,658.2 L878.0,659.6 L879.0,660.8 L880.0,661.8 L881.0,662.5 L882.0,663.3 L883.0,664.3 L884.0,664.9 L885.0,665.3 L886.0,666.0 L887.0,667.2 L888.0,668.5 L889.0,669.4 L890.0,670.0 L891.0,670.5 L892.0,671.5 L893.0,672.6 L894.0,673.2 L895.0,673.6 L896.0,674.4 L897.0,675.1 L898.0,675.2 L899.0,675.6 L900.0,676.1 L901.0,676.3 L902.0,676.5 L903.0,676.9 L904.0,677.5 L905.0,678.0 L906.0,678.1 L907.0,678.4 L908.0,678.7 L909.0,678.6 L910.0,678.2 L911.0,678.4 L912.0,678.8 L913.0,679.1 L914.0,679.5 L915.0,679.6 L916.0,679.6 L917.0,679.3 L918.0,678.9 L919.0,678.6 L920.0,678.9 L921.0,679.2 L922.0,678.8 L923.0,678.6 L924.0,678.8 L925.0,678.4 L926.0,677.8 L927.0,677.5 L928.0,677.0 L929.0,676.7 L930.0,677.2 L931.0,677.5 L932.0,676.8 L933.0,675.7 L934.0,675.3 L935.0,675.5 L936.0,675.3 L937.0,674.9 L938.0,674.4 L939.0,674.0 L940.0,673.7 L941.0,673.1 L942.0,672.8 L943.0,672.2 L944.0,671.4 L945.0,670.7 L946.0,669.8 L947.0,669.4 L948.0,669.2 L949.0,668.8 L950.0,668.6 L951.0,668.4 L952.0,667.6 L953.0,666.8 L954.0,666.3 L955.0,665.7 L956.0,665.0 L957.0,664.4 L958.0,663.7 L959.0,662.7 L960.0,661.9 L961.0,661.5 L962.0,661.2 L963.0,660.7 L964.0,660.5 L965.0,660.1 L966.0,659.5 L967.0,659.3 L968.0,658.8 L969.0,657.8 L970.0,657.1 L971.0,656.6 L972.0,656.2 L973.0,655.6 L974.0,655.0 L975.0,654.5 L976.0,654.0 L977.0,653.3 L978.0,652.6 L979.0,652.2 L980.0,651.9 L981.0,651.6 L982.0,651.0 L983.0,650.3 L984.0,650.0 L985.0,650.0 L986.0,649.5 L987.0,648.9 L988.0,648.4 L989.0,647.8 L990.0,647.4 L991.0,647.2 L992.0,646.6 L993.0,645.7 L994.0,645.2 L995.0,645.2 L996.0,644.7 L997.0,643.8 L998.0,643.7 L999.0,643.8 L1000.0,643.4 L1001.0,643.1 L1002.0,642.4 L1003.0,641.5 L1004.0,641.2 L1005.0,641.3 L1006.0,641.2 L1007.0,640.7 L1008.0,640.0 L1009.0,639.7 L1010.0,639.8 L1011.0,639.0 L1012.0,638.2 L1013.0,638.1 L1014.0,637.5 L1015.0,636.8 L1016.0,637.0 L1017.0,637.4 L1018.0,637.1 L1019.0,636.6 L1020.0,636.0 L1021.0,635.5 L1022.0,635.5 L1023.0,635.2 L1024.0,634.6 L1025.0,634.7 L1026.0,634.4 L1027.0,634.0 L1028.0,634.4 L1029.0,634.6 L1030.0,634.2 L1031.0,633.8 L1032.0,633.1 L1033.0,632.7 L1034.0,633.1 L1035.0,633.4 L1036.0,632.7 L1037.0,631.8 L1038.0,631.7 L1039.0,631.7 L1040.0,631.4 L1041.0,631.2 L1042.0,631.2 L1043.0,631.1 L1044.0,630.7 L1045.0,630.2 L1046.0,630.1 L1047.0,630.1 L1048.0,630.1 L1049.0,630.3 L1050.0,630.2 L1051.0,629.8 L1052.0,629.5 L1053.0,629.2 L1054.0,629.2 L1055.0,629.5 L1056.0,629.0 L1057.0,628.2 L1058.0,628.3 L1059.0,628.5 L1060.0,628.2 L1061.0,627.9 L1062.0,627.6 L1063.0,627.4 L1064.0,627.5 L1065.0,627.8 L1066.0,627.8 L1067.0,627.6 L1068.0,627.5 L1069.0,627.3 L1070.0,627.0 L1071.0,626.8 L1072.0,626.8 L1073.0,626.6 L1074.0,626.5 L1075.0,626.6 L1076.0,626.7 L1077.0,626.5 L1078.0,626.1 L1079.0,625.7 L1080.0,625.4 L1081.0,625.4 L1082.0,625.6 L1083.0,625.8 L1084.0,625.7 L1085.0,625.3 L1086.0,625.2 L1087.0,625.4 L1088.0,625.2 L1089.0,624.8 L1090.0,624.8 L1091.0,624.9 L1092.0,624.7 L1093.0,624.5 L1094.0,624.4 L1095.0,624.3 L1096.0,624.0 L1097.0,624.2 L1098.0,624.2 L1099.0,624.0 L1100.0,623.8 L1101.0,623.3 L1102.0,623.1 L1103.0,623.3 L1104.0,623.4 L1105.0,623.5 L1106.0,623.6 L1107.0,623.1 L1108.0,622.5 L1109.0,622.8 L1110.0,623.3 L1111.0,623.3 L1112.0,623.1 L1113.0,623.0 L1114.0,623.0 L1115.0,623.2 L1116.0,623.4 L1117.0,623.3 L1118.0,622.9 L1119.0,622.5 L1120.0,622.3 L1121.0,622.4 L1122.0,622.4 L1123.0,622.3 L1124.0,622.0 L1125.0,622.0 L1126.0,622.2 L1127.0,622.3 L1128.0,622.0 L1129.0,622.2 L1130.0,622.5 L1131.0,622.3 L1132.0,621.8 L1133.0,621.6 L1134.0,621.8 L1135.0,621.6 L1136.0,621.5 L1137.0,621.7 L1138.0,621.7 L1139.0,621.5 L1140.0,621.5 L1141.0,621.6 L1142.0,621.4 L1143.0,621.1 L1144.0,621.0 L1145.0,621.1 L1146.0,621.2 L1147.0,621.0 L1148.0,620.8 L1149.0,620.8 L1150.0,620.4 L1151.0,620.3 L1152.0,620.7 L1153.0,620.4 L1154.0,620.1 L1155.0,620.2 L1156.0,620.4 L1157.0,620.7 L1158.0,620.7 L1159.0,620.7 L1160.0,620.6 L1161.0,620.7 L1162.0,620.8 L1163.0,620.6 L1164.0,620.0 L1165.0,620.0 L1166.0,620.3 L1167.0,620.0 L1168.0,620.1 L1169.0,620.7 L1170.0,620.3 L1171.0,619.9 L1172.0,620.1 L1173.0,620.3 L1174.0,620.0 L1175.0,620.0 L1176.0,620.0 L1177.0,619.7 L1178.0,619.8 L1179.0,619.8 L1180.0,619.5 L1181.0,619.4 L1182.0,619.6 L1183.0,619.9 L1184.0,619.8 L1185.0,619.4 L1186.0,619.4 L1187.0,619.3 L1188.0,618.7 L1189.0,618.6 L1190.0,619.1 L1191.0,619.3 L1192.0,619.6 L1193.0,619.8 L1194.0,619.8 L1195.0,619.7 L1196.0,619.8 L1197.0,619.9 L1198.0,620.2 L1199.0,620.2 L1200.0,619.8 L1201.0,619.6 L1202.0,619.7 L1203.0,619.6 L1204.0,619.0 L1205.0,618.6 L1206.0,618.6 L1207.0,618.9 L1208.0,619.2 L1209.0,619.4 L1210.0,619.3 L1211.0,619.5 L1212.0,619.8 L1213.0,620.0 L1214.0,619.6 L1215.0,619.1 L1216.0,619.2 L1217.0,619.5 L1218.0,619.6 L1219.0,619.6 L1220.0,619.5 L1221.0,619.2 L1222.0,618.8 L1223.0,618.8 L1224.0,619.3 L1225.0,619.9 L1226.0,619.9 L1227.0,619.8 L1228.0,619.9 L1229.0,619.8 L1230.0,619.3 L1231.0,619.1 L1232.0,619.3 L1233.0,619.5 L1234.0,619.4 L1235.0,619.3 L1236.0,619.3 L1237.0,619.3 L1238.0,619.7 L1239.0,620.1 L1240.0,619.9 L1241.0,619.8 L1242.0,620.0 L1243.0,619.7 L1244.0,618.8 L1245.0,619.0 L1246.0,620.1 L1247.0,620.4 L1248.0,619.8 L1249.0,619.6 L1250.0,619.5 L1251.0,619.1 L1252.0,619.1 L1253.0,619.4 L1254.0,619.6 L1255.0,619.7 L1256.0,620.0 L1257.0,620.2 L1258.0,620.4 L1259.0,620.3 L1260.0,619.7 L1261.0,619.5 L1262.0,619.4 L1263.0,619.5 L1264.0,620.2 L1265.0,620.2 L1266.0,619.8 L1267.0,619.8 L1268.0,619.7 L1269.0,619.8 L1270.0,619.7 L1271.0,619.3 L1272.0,619.5 L1273.0,620.0 L1274.0,620.1 L1275.0,620.0 L1276.0,620.4 L1277.0,620.7 L1278.0,620.3 L1279.0,620.0 L1280.0,620.1 L1281.0,620.2 L1282.0,619.7 L1283.0,619.2 L1284.0,619.6 L1285.0,619.9 L1286.0,619.9 L1287.0,620.3 L1288.0,620.3 L1289.0,619.7 L1290.0,619.7 L1291.0,620.2 L1292.0,620.2 L1293.0,620.3 L1294.0,621.0 L1295.0,620.9 L1296.0,620.1 L1297.0,619.7 L1298.0,619.7 L1299.0,619.9 L1300.0,620.2 L1301.0,620.3 L1302.0,620.3 L1303.0,620.1 L1304.0,619.9 L1305.0,620.0 L1306.0,620.2 L1307.0,620.6 L1308.0,620.8 L1309.0,620.4 L1310.0,619.8 L1311.0,619.9 L1312.0,620.2 L1313.0,620.1 L1314.0,620.3 L1315.0,620.9 L1316.0,621.0 L1317.0,620.1 L1318.0,619.9 L1319.0,620.3 L1320.0,620.1 L1321.0,620.0 L1322.0,620.5 L1323.0,620.6 L1324.0,620.1 L1325.0,620.0 L1326.0,620.3 L1327.0,620.2 L1328.0,620.2 L1329.0,620.4 L1330.0,620.0 L1331.0,620.0 L1332.0,620.0 L1333.0,620.0 L1334.0,620.3 L1335.0,620.3 L1336.0,620.2 L1337.0,620.6 L1338.0,620.8 L1339.0,620.7 L1340.0,620.4 L1341.0,620.2 L1342.0,620.4 L1343.0,620.6 L1344.0,620.8 L1345.0,620.7 L1346.0,620.4 L1347.0,620.4 L1348.0,620.4 L1349.0,620.4 L1350.0,620.3 L1351.0,620.0 L1352.0,620.1 L1353.0,620.6 L1354.0,620.4 L1355.0,620.2 L1356.0,620.2 L1357.0,620.3 L1358.0,620.2 L1359.0,620.0 L1360.0,620.1 L1361.0,620.2 L1362.0,620.2 L1363.0,620.4 L1364.0,620.6 L1365.0,620.5 L1366.0,620.1 L1367.0,619.9 L1368.0,619.9 L1369.0,619.8 L1370.0,620.2 L1371.0,620.4 L1372.0,620.1 L1373.0,619.8 L1374.0,619.7 L1375.0,619.5 L1376.0,619.3 L1377.0,619.6 L1378.0,620.1 L1379.0,620.0 L1380.0,619.9 L1381.0,620.5 L1382.0,620.8 L1383.0,620.5 L1384.0,620.1 L1385.0,619.7 L1386.0,619.7 L1387.0,619.7 L1388.0,619.7 L1389.0,619.9 L1390.0,620.0 L1391.0,619.8 L1392.0,620.1 L1393.0,620.1 L1394.0,619.7 L1395.0,619.9 L1396.0,619.9 L1397.0,619.8 L1398.0,619.9 L1399.0,619.7 L1400.0,619.7 L1401.0,619.8 L1402.0,619.8 L1403.0,619.8 L1404.0,619.6 L1405.0,619.7 L1406.0,619.6 L1407.0,619.4 L1408.0,619.5 L1409.0,619.6 L1410.0,619.5 L1411.0,619.5 L1412.0,619.6 L1413.0,619.8 L1414.0,619.6 L1415.0,619.4 L1416.0,619.3 L1417.0,619.4 L1418.0,619.6 L1419.0,619.6 L1420.0,619.3 L1421.0,619.0 L1422.0,619.1 L1423.0,619.3 L1424.0,619.5 L1425.0,619.2 L1426.0,618.9 L1427.0,618.8 L1428.0,619.2 L1429.0,619.8 L1430.0,619.8 L1431.0,619.5 L1432.0,619.4 L1433.0,619.3 L1434.0,619.5 L1435.0,619.4 L1436.0,619.1 L1437.0,618.8 L1438.0,618.7 L1439.0,619.3 L1440.0,619.8 L1441.0,619.4 L1442.0,619.1 L1443.0,619.5 L1444.0,619.3 L1445.0,618.6 L1446.0,618.4 L1447.0,618.2 L1448.0,618.2 L1449.0,618.9 L1450.0,619.7 L1451.0,619.9 L1452.0,619.6 L1453.0,619.2 L1454.0,619.3 L1455.0,619.0 L1456.0,618.3 L1457.0,618.2 L1458.0,618.6 L1459.0,618.5 L1460.0,618.2 L1461.0,618.6 L1462.0,619.0 L1463.0,619.1 L1464.0,619.0 L1465.0,618.8 L1466.0,618.8 L1467.0,618.5 L1468.0,618.5 L1469.0,618.8 L1470.0,618.6 L1471.0,618.2 L1472.0,618.5 L1473.0,619.1 L1474.0,619.1 L1475.0,618.9 L1476.0,618.9 L1477.0,618.8 L1478.0,618.6 L1479.0,618.4 L1480.0,618.5 L1481.0,618.4 L1482.0,618.5 L1483.0,618.7 L1484.0,618.7 L1485.0,619.1 L1486.0,619.2 L1487.0,618.6 L1488.0,618.6 L1489.0,619.0 L1490.0,618.8 L1491.0,618.8 L1492.0,618.9 L1493.0,618.7 L1494.0,618.4 L1495.0,618.1 L1496.0,618.2 L1497.0,618.1 L1498.0,617.7 L1499.0,617.8 L1500.0,618.3 L1501.0,618.5 L1502.0,618.7 L1503.0,619.0 L1504.0,619.1 L1505.0,618.7 L1506.0,618.2 L1507.0,617.8 L1508.0,618.0 L1509.0,618.1 L1510.0,617.9 L1511.0,618.2 L1512.0,618.5 L1513.0,618.4 L1514.0,618.4 L1515.0,618.5 L1516.0,618.2 L1517.0,618.1 L1518.0,618.5 L1519.0,618.7 L1520.0,618.8 L1521.0,618.8 L1522.0,618.6 L1523.0,618.3 L1524.0,618.2 L1525.0,618.3 L1526.0,618.3 L1527.0,618.2 L1528.0,618.5 L1529.0,618.3 L1530.0,618.2 L1531.0,618.4 L1532.0,618.8 L1533.0,619.3 L1534.0,619.3 L1535.0,618.9 L1536.0,618.8 L1537.0,618.6 L1538.0,618.7 L1539.0,619.0 L1540.0,619.0 L1541.0,618.8 L1542.0,618.6 L1543.0,618.4 L1544.0,618.3 L1545.0,618.0 L1546.0,618.0 L1547.0,618.5 L1548.0,618.7 L1549.0,618.6 L1550.0,618.7 L1551.0,618.8 L1552.0,618.9 L1553.0,618.7 L1554.0,618.5 L1555.0,618.6 L1556.0,618.4 L1557.0,618.4 L1558.0,618.9 L1559.0,619.0 L1560.0,618.5 L1561.0,618.5 L1562.0,618.7 L1563.0,618.5 L1564.0,618.2 L1565.0,618.0 L1566.0,618.0 L1567.0,618.1 L1568.0,618.4 L1569.0,618.5 L1570.0,618.0 L1571.0,618.1 L1572.0,618.4 L1573.0,618.4 L1574.0,618.1 L1575.0,617.9 L1576.0,618.6 L1577.0,619.4 L1578.0,619.4 L1579.0,619.2 L1580.0,619.0 L1581.0,618.7 L1582.0,618.7 L1583.0,618.9 L1584.0,618.9 L1585.0,618.7 L1586.0,618.7 L1587.0,618.6 L1588.0,618.6 L1589.0,618.8 L1590.0,618.8 L1591.0,618.6 L1592.0,618.9 L1593.0,619.3 L1594.0,619.3 L1595.0,619.0 L1596.0,619.0 L1597.0,619.3 L1598.0,619.7 L1599.0,619.6 L1600.0,619.1 L1601.0,618.7 L1602.0,618.7 L1603.0,619.1 L1604.0,619.3 L1605.0,619.0 L1606.0,618.2 L1607.0,618.1 L1608.0,618.9 L1609.0,619.4 L1610.0,619.4 L1611.0,619.2 L1612.0,619.0 L1613.0,619.0 L1614.0,619.0 L1615.0,618.7" stroke="#F14040" stroke-width="9"/>
<path d="M140.0,617.3 L141.0,617.2 L142.0,617.3 L143.0,617.1 L144.0,617.0 L145.0,617.3 L146.0,617.4 L147.0,617.7 L148.0,617.9 L149.0,617.4 L150.0,616.9 L151.0,617.1 L152.0,617.2 L153.0,617.0 L154.0,617.2 L155.0,617.2 L156.0,617.0 L157.0,617.2 L158.0,617.3 L159.0,617.1 L160.0,617.1 L161.0,617.2 L162.0,616.9 L163.0,617.0 L164.0,617.4 L165.0,617.2 L166.0,616.9 L167.0,617.3 L168.0,617.6 L169.0,617.2 L170.0,617.4 L171.0,617.6 L172.0,617.4 L173.0,617.3 L174.0,617.4 L175.0,617.8 L176.0,617.8 L177.0,617.2 L178.0,617.1 L179.0,617.2 L180.0,617.2 L181.0,617.2 L182.0,617.1 L183.0,617.3 L184.0,617.3 L185.0,617.3 L186.0,617.5 L187.0,617.5 L188.0,617.3 L189.0,617.5 L190.0,617.6 L191.0,617.6 L192.0,617.6 L193.0,617.2 L194.0,617.1 L195.0,617.2 L196.0,617.4 L197.0,617.6 L198.0,617.8 L199.0,617.7 L200.0,617.1 L201.0,617.1 L202.0,617.4 L203.0,617.3 L204.0,617.3 L205.0,617.3 L206.0,617.4 L207.0,617.7 L208.0,617.3 L209.0,616.9 L210.0,617.2 L211.0,617.6 L212.0,617.6 L213.0,617.5 L214.0,617.5 L215.0,617.4 L216.0,617.2 L217.0,617.1 L218.0,617.4 L219.0,617.2 L220.0,616.8 L221.0,617.2 L222.0,617.9 L223.0,617.8 L224.0,617.2 L225.0,617.2 L226.0,617.6 L227.0,617.5 L228.0,617.3 L229.0,617.3 L230.0,617.3 L231.0,617.2 L232.0,617.2 L233.0,617.3 L234.0,617.3 L235.0,617.4 L236.0,617.5 L237.0,617.8 L238.0,617.9 L239.0,617.4 L240.0,617.1 L241.0,617.1 L242.0,616.9 L243.0,616.8 L244.0,617.1 L245.0,617.3 L246.0,617.5 L247.0,617.6 L248.0,617.7 L249.0,617.6 L250.0,617.3 L251.0,617.1 L252.0,617.1 L253.0,617.3 L254.0,617.4 L255.0,617.3 L256.0,617.0 L257.0,617.3 L258.0,617.6 L259.0,617.4 L260.0,617.1 L261.0,617.1 L262.0,617.2 L263.0,617.1 L264.0,616.8 L265.0,616.5 L266.0,616.6 L267.0,617.3 L268.0,617.3 L269.0,617.0 L270.0,617.2 L271.0,617.8 L272.0,618.1 L273.0,617.4 L274.0,616.9 L275.0,617.1 L276.0,617.6 L277.0,617.7 L278.0,617.6 L279.0,618.0 L280.0,618.1 L281.0,617.6 L282.0,617.4 L283.0,617.3 L284.0,617.1 L285.0,617.1 L286.0,617.0 L287.0,616.9 L288.0,617.2 L289.0,617.4 L290.0,617.1 L291.0,616.9 L292.0,617.1 L293.0,617.3 L294.0,617.5 L295.0,617.5 L296.0,617.2 L297.0,617.0 L298.0,617.2 L299.0,617.5 L300.0,617.7 L301.0,617.3 L302.0,616.4 L303.0,616.4 L304.0,616.9 L305.0,616.8 L306.0,616.5 L307.0,617.0 L308.0,617.7 L309.0,617.5 L310.0,617.2 L311.0,617.4 L312.0,617.6 L313.0,617.6 L314.0,617.6 L315.0,617.6 L316.0,618.0 L317.0,618.0 L318.0,617.6 L319.0,617.4 L320.0,617.1 L321.0,617.1 L322.0,617.5 L323.0,617.8 L324.0,617.6 L325.0,617.4 L326.0,617.1 L327.0,616.9 L328.0,616.7 L329.0,616.7 L330.0,617.0 L331.0,617.1 L332.0,617.2 L333.0,617.3 L334.0,617.6 L335.0,617.9 L336.0,617.9 L337.0,617.6 L338.0,617.1 L339.0,616.8 L340.0,616.9 L341.0,617.3 L342.0,617.4 L343.0,617.3 L344.0,617.4 L345.0,617.0 L346.0,616.6 L347.0,617.0 L348.0,617.2 L349.0,616.8 L350.0,616.8 L351.0,617.1 L352.0,616.9 L353.0,617.0 L354.0,617.0 L355.0,616.7 L356.0,616.6 L357.0,616.3 L358.0,616.3 L359.0,616.5 L360.0,616.4 L361.0,616.5 L362.0,617.2 L363.0,617.5 L364.0,617.3 L365.0,616.9 L366.0,616.6 L367.0,616.4 L368.0,615.9 L369.0,615.6 L370.0,616.1 L371.0,616.6 L372.0,616.5 L373.0,616.3 L374.0,616.4 L375.0,616.1 L376.0,615.8 L377.0,616.1 L378.0,616.4 L379.0,616.3 L380.0,616.1 L381.0,615.9 L382.0,616.1 L383.0,616.2 L384.0,615.9 L385.0,615.7 L386.0,615.6 L387.0,615.5 L388.0,615.4 L389.0,615.6 L390.0,615.5 L391.0,615.3 L392.0,615.4 L393.0,615.3 L394.0,615.2 L395.0,615.2 L396.0,615.3 L397.0,615.4 L398.0,615.6 L399.0,615.6 L400.0,615.1 L401.0,614.5 L402.0,614.1 L403.0,614.7 L404.0,615.1 L405.0,614.9 L406.0,615.1 L407.0,615.1 L408.0,614.6 L409.0,614.5 L410.0,614.7 L411.0,614.4 L412.0,614.1 L413.0,614.0 L414.0,614.0 L415.0,614.2 L416.0,614.3 L417.0,614.3 L418.0,614.1 L419.0,614.2 L420.0,614.3 L421.0,613.8 L422.0,613.3 L423.0,612.9 L424.0,612.6 L425.0,612.7 L426.0,612.9 L427.0,612.8 L428.0,612.7 L429.0,612.2 L430.0,612.0 L431.0,612.4 L432.0,612.4 L433.0,612.2 L434.0,612.5 L435.0,612.7 L436.0,612.1 L437.0,611.7 L438.0,611.9 L439.0,611.7 L440.0,611.5 L441.0,611.4 L442.0,611.3 L443.0,611.4 L444.0,611.2 L445.0,611.2 L446.0,611.3 L447.0,611.2 L448.0,610.9 L449.0,610.6 L450.0,610.1 L451.0,609.8 L452.0,609.8 L453.0,609.8 L454.0,609.7 L455.0,609.7 L456.0,609.3 L457.0,608.7 L458.0,608.8 L459.0,609.0 L460.0,608.7 L461.0,608.3 L462.0,608.0 L463.0,608.1 L464.0,608.3 L465.0,608.1 L466.0,607.7 L467.0,607.0 L468.0,606.5 L469.0,606.6 L470.0,607.0 L471.0,607.0 L472.0,606.7 L473.0,606.3 L474.0,606.0 L475.0,605.6 L476.0,605.4 L477.0,605.2 L478.0,605.1 L479.0,605.3 L480.0,605.1 L481.0,604.6 L482.0,604.4 L483.0,604.6 L484.0,604.3 L485.0,603.7 L486.0,603.4 L487.0,603.3 L488.0,603.3 L489.0,603.0 L490.0,602.7 L491.0,602.2 L492.0,602.0 L493.0,602.0 L494.0,601.4 L495.0,600.5 L496.0,600.5 L497.0,600.6 L498.0,600.1 L499.0,599.6 L500.0,599.5 L501.0,599.4 L502.0,599.0 L503.0,599.1 L504.0,599.2 L505.0,598.9 L506.0,598.4 L507.0,597.9 L508.0,597.6 L509.0,597.3 L510.0,596.8 L511.0,596.4 L512.0,596.1 L513.0,595.7 L514.0,595.4 L515.0,595.3 L516.0,594.7 L517.0,594.1 L518.0,593.9 L519.0,594.0 L520.0,593.7 L521.0,593.0 L522.0,592.3 L523.0,591.9 L524.0,591.8 L525.0,591.4 L526.0,590.6 L527.0,590.2 L528.0,590.2 L529.0,589.9 L530.0,589.1 L531.0,588.6 L532.0,588.5 L533.0,588.0 L534.0,587.1 L535.0,586.2 L536.0,585.8 L537.0,585.8 L538.0,585.3 L539.0,584.5 L540.0,583.6 L541.0,583.2 L542.0,583.1 L543.0,582.9 L544.0,582.2 L545.0,581.3 L546.0,580.8 L547.0,580.7 L548.0,580.5 L549.0,579.9 L550.0,578.9 L551.0,578.1 L552.0,577.9 L553.0,577.4 L554.0,576.6 L555.0,575.8 L556.0,575.2 L557.0,574.6 L558.0,573.8 L559.0,573.2 L560.0,573.0 L561.0,572.4 L562.0,571.3 L563.0,570.3 L564.0,569.7 L565.0,569.3 L566.0,568.9 L567.0,568.3 L568.0,567.5 L569.0,566.2 L570.0,565.1 L571.0,564.4 L572.0,563.8 L573.0,563.5 L574.0,562.9 L575.0,561.7 L576.0,561.0 L577.0,560.7 L578.0,560.0 L579.0,558.8 L580.0,557.8 L581.0,557.0 L582.0,555.8 L583.0,554.7 L584.0,553.6 L585.0,552.4 L586.0,551.6 L587.0,551.2 L588.0,550.4 L589.0,548.9 L590.0,547.6 L591.0,546.9 L592.0,546.0 L593.0,545.0 L594.0,543.6 L595.0,542.1 L596.0,541.0 L597.0,540.1 L598.0,539.0 L599.0,537.3 L600.0,536.1 L601.0,535.0 L602.0,533.6 L603.0,532.9 L604.0,532.0 L605.0,530.8 L606.0,529.4 L607.0,528.0 L608.0,526.6 L609.0,525.1 L610.0,523.7 L611.0,522.3 L612.0,521.0 L613.0,519.5 L614.0,517.8 L615.0,516.3 L616.0,514.8 L617.0,513.4 L618.0,511.9 L619.0,510.4 L620.0,509.3 L621.0,507.9 L622.0,505.9 L623.0,503.9 L624.0,502.0 L625.0,500.3 L626.0,498.8 L627.0,497.2 L628.0,495.5 L629.0,493.8 L630.0,491.9 L631.0,489.7 L632.0,487.5 L633.0,485.5 L634.0,483.8 L635.0,482.4 L636.0,480.7 L637.0,478.5 L638.0,476.6 L639.0,474.8 L640.0,473.2 L641.0,471.4 L642.0,469.1 L643.0,466.7 L644.0,464.6 L645.0,462.6 L646.0,460.0 L647.0,457.7 L648.0,455.9 L649.0,453.9 L650.0,451.5 L651.0,449.4 L652.0,447.2 L653.0,444.5 L654.0,441.8 L655.0,439.3 L656.0,437.2 L657.0,435.4 L658.0,433.2 L659.0,430.5 L660.0,427.9 L661.0,425.9 L662.0,423.9 L663.0,420.8 L664.0,418.2 L665.0,416.1 L666.0,413.7 L667.0,411.3 L668.0,408.8 L669.0,406.6 L670.0,404.2 L671.0,401.3 L672.0,398.5 L673.0,396.0 L674.0,393.7 L675.0,391.0 L676.0,388.3 L677.0,386.0 L678.0,383.6 L679.0,380.8 L680.0,378.3 L681.0,375.8 L682.0,372.9 L683.0,370.1 L684.0,367.7 L685.0,365.3 L686.0,362.5 L687.0,359.7 L688.0,356.9 L689.0,354.4 L690.0,352.2 L691.0,349.8 L692.0,346.7 L693.0,344.0 L694.0,341.6 L695.0,338.8 L696.0,336.2 L697.0,334.1 L698.0,332.0 L699.0,329.3 L700.0,326.3 L701.0,323.6 L702.0,320.9 L703.0,318.0 L704.0,315.7 L705.0,313.7 L706.0,311.2 L707.0,308.4 L708.0,305.7 L709.0,303.1 L710.0,300.6 L711.0,298.5 L712.0,296.2 L713.0,293.3 L714.0,290.6 L715.0,288.7 L716.0,286.8 L717.0,284.3 L718.0,281.2 L719.0,278.2 L720.0,276.0 L721.0,274.3 L722.0,272.5 L723.0,269.9 L724.0,267.6 L725.0,265.8 L726.0,263.7 L727.0,261.4 L728.0,259.2 L729.0,257.3 L730.0,255.0 L731.0,252.5 L732.0,250.4 L733.0,248.1 L734.0,246.0 L735.0,244.2 L736.0,242.3 L737.0,240.5 L738.0,238.8 L739.0,236.9 L740.0,235.4 L741.0,233.8 L742.0,231.9 L743.0,230.1 L744.0,228.4 L745.0,226.8 L746.0,225.6 L747.0,224.7 L748.0,223.2 L749.0,221.6 L750.0,220.0 L751.0,218.4 L752.0,217.2 L753.0,216.0 L754.0,214.9 L755.0,214.3 L756.0,213.7 L757.0,212.7 L758.0,211.9 L759.0,210.8 L760.0,209.6 L761.0,209.1 L762.0,208.5 L763.0,208.1 L764.0,207.6 L765.0,207.3 L766.0,207.2 L767.0,206.4 L768.0,205.2 L769.0,204.7 L770.0,205.0 L771.0,205.6 L772.0,205.8 L773.0,205.9 L774.0,206.2 L775.0,206.3 L776.0,206.0 L777.0,206.1 L778.0,207.0 L779.0,207.9 L780.0,208.1 L781.0,208.5 L782.0,209.9 L783.0,211.4 L784.0,212.4 L785.0,213.3 L786.0,214.1 L787.0,215.3 L788.0,217.3 L789.0,219.3 L790.0,220.7 L791.0,222.3 L792.0,223.7 L793.0,225.4 L794.0,227.5 L795.0,229.5 L796.0,231.6 L797.0,234.3 L798.0,236.4 L799.0,238.6 L800.0,241.6 L801.0,244.3 L802.0,246.8 L803.0,250.0 L804.0,253.4 L805.0,256.5 L806.0,259.5 L807.0,262.6 L808.0,266.3 L809.0,270.3 L810.0,274.1 L811.0,277.6 L812.0,281.3 L813.0,285.1 L814.0,288.6 L815.0,292.3 L816.0,296.8 L817.0,301.4 L818.0,306.0 L819.0,310.4 L820.0,314.8 L821.0,319.6 L822.0,324.4 L823.0,329.2 L824.0,334.1 L825.0,339.2 L826.0,344.7 L827.0,350.3 L828.0,355.6 L829.0,361.2 L830.0,366.8 L831.0,372.3 L832.0,378.1 L833.0,384.2 L834.0,390.3 L835.0,396.3 L836.0,402.3 L837.0,408.7 L838.0,415.7 L839.0,422.1 L840.0,428.2 L841.0,435.1 L842.0,442.2 L843.0,448.5 L844.0,454.9 L845.0,461.9 L846.0,469.1 L847.0,476.4 L848.0,483.3 L849.0,490.2 L850.0,497.8 L851.0,505.6 L852.0,513.1 L853.0,520.5 L854.0,528.2 L855.0,535.7 L856.0,543.1 L857.0,550.3 L858.0,557.4 L859.0,565.6 L860.0,573.6 L861.0,581.1 L862.0,588.7 L863.0,596.2 L864.0,603.9 L865.0,611.7 L866.0,619.3 L867.0,627.0 L868.0,634.8 L869.0,643.1 L870.0,651.6 L871.0,659.5 L872.0,667.0 L873.0,674.8 L874.0,682.2 L875.0,689.3 L876.0,697.0 L877.0,704.9 L878.0,712.7 L879.0,720.3 L880.0,727.5 L881.0,735.1 L882.0,742.8 L883.0,750.2 L884.0,757.3 L885.0,764.6 L886.0,771.9 L887.0,778.8 L888.0,785.7 L889.0,792.7 L890.0,799.4 L891.0,806.1 L892.0,812.8 L893.0,819.5 L894.0,826.0 L895.0,832.3 L896.0,838.5 L897.0,844.5 L898.0,850.6 L899.0,856.4 L900.0,861.9 L901.0,867.5 L902.0,873.7 L903.0,879.4 L904.0,884.4 L905.0,889.6 L906.0,894.7 L907.0,899.9 L908.0,905.0 L909.0,909.6 L910.0,913.8 L911.0,918.0 L912.0,922.7 L913.0,927.4 L914.0,931.6 L915.0,935.4 L916.0,939.2 L917.0,943.3 L918.0,947.0 L919.0,950.3 L920.0,953.8 L921.0,957.0 L922.0,959.9 L923.0,962.7 L924.0,965.9 L925.0,969.2 L926.0,971.7 L927.0,974.1 L928.0,977.0 L929.0,979.9 L930.0,982.3 L931.0,984.4 L932.0,986.5 L933.0,988.4 L934.0,989.8 L935.0,991.6 L936.0,993.7 L937.0,995.3 L938.0,996.6 L939.0,998.1 L940.0,999.7 L941.0,1001.1 L942.0,1002.0 L943.0,1003.0 L944.0,1004.2 L945.0,1005.2 L946.0,1005.9 L947.0,1006.6 L948.0,1007.2 L949.0,1007.8 L950.0,1008.5 L951.0,1009.2 L952.0,1009.8 L953.0,1010.2 L954.0,1010.1 L955.0,1010.2 L956.0,1010.8 L957.0,1010.8 L958.0,1010.9 L959.0,1011.3 L960.0,1011.2 L961.0,1010.8 L962.0,1010.6 L963.0,1010.5 L964.0,1010.2 L965.0,1009.7 L966.0,1009.3 L967.0,1009.3 L968.0,1009.1 L969.0,1008.5 L970.0,1007.8 L971.0,1007.0 L972.0,1006.2 L973.0,1005.3 L974.0,1004.1 L975.0,1002.8 L976.0,1002.0 L977.0,1001.7 L978.0,1001.0 L979.0,999.8 L980.0,998.6 L981.0,997.3 L982.0,996.4 L983.0,995.4 L984.0,994.2 L985.0,993.2 L986.0,992.2 L987.0,991.2 L988.0,989.6 L989.0,987.8 L990.0,986.3 L991.0,985.0 L992.0,983.8 L993.0,982.2 L994.0,980.4 L995.0,978.7 L996.0,977.1 L997.0,975.2 L998.0,973.7 L999.0,972.2 L1000.0,970.2 L1001.0,968.8 L1002.0,967.4 L1003.0,965.6 L1004.0,964.0 L1005.0,962.2 L1006.0,959.8 L1007.0,957.3 L1008.0,955.5 L1009.0,953.9 L1010.0,952.1 L1011.0,950.0 L1012.0,947.6 L1013.0,945.5 L1014.0,943.6 L1015.0,941.5 L1016.0,939.0 L1017.0,937.3 L1018.0,935.5 L1019.0,933.2 L1020.0,931.0 L1021.0,928.9 L1022.0,926.9 L1023.0,924.7 L1024.0,922.7 L1025.0,920.1 L1026.0,917.4 L1027.0,915.4 L1028.0,913.5 L1029.0,911.4 L1030.0,909.0 L1031.0,906.7 L1032.0,904.7 L1033.0,902.3 L1034.0,899.3 L1035.0,897.2 L1036.0,895.4 L1037.0,892.9 L1038.0,890.4 L1039.0,888.7 L1040.0,886.5 L1041.0,883.7 L1042.0,881.2 L1043.0,878.8 L1044.0,876.6 L1045.0,874.3 L1046.0,871.7 L1047.0,869.2 L1048.0,866.6 L1049.0,864.2 L1050.0,862.3 L1051.0,860.2 L1052.0,857.7 L1053.0,855.4 L1054.0,853.0 L1055.0,850.4 L1056.0,847.9 L1057.0,845.9 L1058.0,844.0 L1059.0,841.6 L1060.0,838.8 L1061.0,836.3 L1062.0,834.4 L1063.0,832.5 L1064.0,830.1 L1065.0,827.4 L1066.0,824.7 L1067.0,822.6 L1068.0,820.9 L1069.0,818.5 L1070.0,816.2 L1071.0,814.3 L1072.0,812.1 L1073.0,809.9 L1074.0,807.6 L1075.0,805.5 L1076.0,803.8 L1077.0,801.6 L1078.0,799.0 L1079.0,796.5 L1080.0,794.0 L1081.0,792.3 L1082.0,790.6 L1083.0,788.3 L1084.0,786.4 L1085.0,784.9 L1086.0,782.9 L1087.0,780.6 L1088.0,778.4 L1089.0,776.3 L1090.0,774.4 L1091.0,772.6 L1092.0,770.9 L1093.0,768.8 L1094.0,766.7 L1095.0,765.1 L1096.0,763.4 L1097.0,761.5 L1098.0,759.7 L1099.0,757.6 L1100.0,755.7 L1101.0,754.1 L1102.0,752.3 L1103.0,750.1 L1104.0,748.2 L1105.0,746.6 L1106.0,744.9 L1107.0,742.9 L1108.0,741.1 L1109.0,739.7 L1110.0,737.8 L1111.0,735.8 L1112.0,734.3 L1113.0,733.0 L1114.0,731.1 L1115.0,729.0 L1116.0,727.4 L1117.0,726.0 L1118.0,724.8 L1119.0,723.5 L1120.0,722.3 L1121.0,721.2 L1122.0,719.9 L1123.0,718.4 L1124.0,716.5 L1125.0,714.7 L1126.0,713.2 L1127.0,711.6 L1128.0,710.3 L1129.0,709.3 L1130.0,708.1 L1131.0,706.8 L1132.0,705.5 L1133.0,704.5 L1134.0,703.2 L1135.0,701.7 L1136.0,700.1 L1137.0,699.0 L1138.0,698.4 L1139.0,697.5 L1140.0,695.8 L1141.0,694.2 L1142.0,692.6 L1143.0,691.3 L1144.0,690.7 L1145.0,690.0 L1146.0,688.8 L1147.0,687.4 L1148.0,686.4 L1149.0,685.6 L1150.0,684.4 L1151.0,683.6 L1152.0,682.7 L1153.0,681.4 L1154.0,680.2 L1155.0,679.1 L1156.0,678.0 L1157.0,677.1 L1158.0,676.2 L1159.0,675.2 L1160.0,674.6 L1161.0,674.4 L1162.0,673.6 L1163.0,672.2 L1164.0,671.3 L1165.0,670.6 L1166.0,669.5 L1167.0,668.7 L1168.0,668.1 L1169.0,667.3 L1170.0,666.3 L1171.0,665.8 L1172.0,665.1 L1173.0,664.1 L1174.0,663.4 L1175.0,662.8 L1176.0,661.7 L1177.0,661.0 L1178.0,660.5 L1179.0,659.7 L1180.0,659.1 L1181.0,658.9 L1182.0,658.3 L1183.0,657.4 L1184.0,656.6 L1185.0,656.2 L1186.0,655.5 L1187.0,654.8 L1188.0,654.4 L1189.0,653.7 L1190.0,653.0 L1191.0,652.8 L1192.0,652.3 L1193.0,651.5 L1194.0,651.0 L1195.0,650.3 L1196.0,649.6 L1197.0,649.3 L1198.0,649.1 L1199.0,648.7 L1200.0,648.0 L1201.0,647.2 L1202.0,646.6 L1203.0,646.1 L1204.0,645.8 L1205.0,645.6 L1206.0,645.0 L1207.0,644.6 L1208.0,644.4 L1209.0,644.0 L1210.0,643.8 L1211.0,643.6 L1212.0,643.1 L1213.0,642.4 L1214.0,642.2 L1215.0,642.3 L1216.0,642.2 L1217.0,641.8 L1218.0,641.4 L1219.0,641.0 L1220.0,640.6 L1221.0,640.0 L1222.0,639.7 L1223.0,639.3 L1224.0,638.5 L1225.0,638.0 L1226.0,638.4 L1227.0,638.8 L1228.0,638.5 L1229.0,637.8 L1230.0,637.4 L1231.0,637.1 L1232.0,637.0 L1233.0,636.7 L1234.0,635.9 L1235.0,635.2 L1236.0,634.9 L1237.0,635.1 L1238.0,635.4 L1239.0,634.9 L1240.0,634.3 L1241.0,634.1 L1242.0,634.2 L1243.0,634.4 L1244.0,634.2 L1245.0,634.0 L1246.0,633.9 L1247.0,633.7 L1248.0,633.3 L1249.0,632.7 L1250.0,632.3 L1251.0,632.6 L1252.0,632.7 L1253.0,632.1 L1254.0,631.9 L1255.0,631.8 L1256.0,631.3 L1257.0,631.3 L1258.0,631.7 L1259.0,631.3 L1260.0,630.9 L1261.0,630.9 L1262.0,630.6 L1263.0,629.9 L1264.0,629.7 L1265.0,629.8 L1266.0,629.8 L1267.0,629.7 L1268.0,629.8 L1269.0,630.3 L1270.0,630.3 L1271.0,630.0 L1272.0,629.4 L1273.0,629.0 L1274.0,628.9 L1275.0,629.0 L1276.0,628.9 L1277.0,628.5 L1278.0,628.2 L1279.0,628.2 L1280.0,628.4 L1281.0,628.3 L1282.0,627.8 L1283.0,627.7 L1284.0,628.1 L1285.0,628.2 L1286.0,627.9 L1287.0,627.7 L1288.0,627.5 L1289.0,627.4 L1290.0,627.3 L1291.0,627.1 L1292.0,627.0 L1293.0,627.2 L1294.0,627.4 L1295.0,627.4 L1296.0,627.3 L1297.0,627.0 L1298.0,626.6 L1299.0,626.4 L1300.0,626.7 L1301.0,627.1 L1302.0,626.9 L1303.0,626.6 L1304.0,626.8 L1305.0,626.7 L1306.0,626.4 L1307.0,626.4 L1308.0,626.0 L1309.0,625.7 L1310.0,625.7 L1311.0,626.0 L1312.0,626.2 L1313.0,625.6 L1314.0,625.2 L1315.0,625.7 L1316.0,625.8 L1317.0,625.3 L1318.0,625.3 L1319.0,625.9 L1320.0,625.6 L1321.0,625.0 L1322.0,625.0 L1323.0,625.1 L1324.0,625.1 L1325.0,625.2 L1326.0,625.1 L1327.0,625.1 L1328.0,625.0 L1329.0,624.8 L1330.0,624.9 L1331.0,625.0 L1332.0,624.9 L1333.0,624.9 L1334.0,624.8 L1335.0,624.6 L1336.0,624.3 L1337.0,624.0 L1338.0,623.8 L1339.0,623.8 L1340.0,624.1 L1341.0,624.4 L1342.0,624.3 L1343.0,624.1 L1344.0,623.7 L1345.0,623.6 L1346.0,624.3 L1347.0,624.6 L1348.0,624.2 L1349.0,624.1 L1350.0,623.7 L1351.0,623.3 L1352.0,623.4 L1353.0,623.6 L1354.0,623.9 L1355.0,624.0 L1356.0,623.7 L1357.0,623.7 L1358.0,624.1 L1359.0,624.3 L1360.0,623.9 L1361.0,623.4 L1362.0,623.2 L1363.0,623.1 L1364.0,623.3 L1365.0,623.6 L1366.0,623.6 L1367.0,623.5 L1368.0,623.4 L1369.0,623.5 L1370.0,623.7 L1371.0,623.7 L1372.0,623.4 L1373.0,623.4 L1374.0,623.7 L1375.0,623.4 L1376.0,623.3 L1377.0,623.1 L1378.0,623.0 L1379.0,623.4 L1380.0,623.7 L1381.0,623.4 L1382.0,622.7 L1383.0,622.7 L1384.0,623.1 L1385.0,623.3 L1386.0,623.2 L1387.0,622.8 L1388.0,622.2 L1389.0,622.3 L1390.0,622.6 L1391.0,622.4 L1392.0,622.4 L1393.0,622.9 L1394.0,623.1 L1395.0,622.7 L1396.0,622.5 L1397.0,622.7 L1398.0,622.9 L1399.0,622.7 L1400.0,622.5 L1401.0,622.4 L1402.0,622.4 L1403.0,623.0 L1404.0,623.1 L1405.0,622.8 L1406.0,622.6 L1407.0,622.6 L1408.0,622.4 L1409.0,622.4 L1410.0,622.6 L1411.0,622.8 L1412.0,622.6 L1413.0,622.3 L1414.0,622.1 L1415.0,622.3 L1416.0,622.4 L1417.0,622.1 L1418.0,622.3 L1419.0,622.4 L1420.0,622.0 L1421.0,621.8 L1422.0,621.9 L1423.0,622.2 L1424.0,622.1 L1425.0,621.8 L1426.0,621.9 L1427.0,622.2 L1428.0,622.3 L1429.0,622.4 L1430.0,622.3 L1431.0,622.1 L1432.0,622.3 L1433.0,622.5 L1434.0,622.4 L1435.0,622.3 L1436.0,622.1 L1437.0,621.9 L1438.0,622.0 L1439.0,622.3 L1440.0,622.6 L1441.0,622.1 L1442.0,621.7 L1443.0,621.9 L1444.0,621.9 L1445.0,621.9 L1446.0,622.0 L1447.0,621.9 L1448.0,621.7 L1449.0,622.2 L1450.0,622.7 L1451.0,622.5 L1452.0,622.1 L1453.0,622.0 L1454.0,622.0 L1455.0,622.0 L1456.0,621.9 L1457.0,621.8 L1458.0,621.8 L1459.0,621.5 L1460.0,621.2 L1461.0,621.4 L1462.0,621.5 L1463.0,621.6 L1464.0,621.6 L1465.0,621.3 L1466.0,621.3 L1467.0,621.6 L1468.0,621.8 L1469.0,621.9 L1470.0,621.6 L1471.0,621.3 L1472.0,621.5 L1473.0,621.6 L1474.0,621.7 L1475.0,621.9 L1476.0,621.7 L1477.0,621.3 L1478.0,621.0 L1479.0,621.3 L1480.0,621.7 L1481.0,621.6 L1482.0,621.0 L1483.0,620.9 L1484.0,621.2 L1485.0,621.4 L1486.0,621.5 L1487.0,622.0 L1488.0,622.0 L1489.0,621.7 L1490.0,622.1 L1491.0,621.9 L1492.0,620.9 L1493.0,620.6 L1494.0,621.1 L1495.0,621.2 L1496.0,621.1 L1497.0,621.3 L1498.0,621.4 L1499.0,620.9 L1500.0,620.5 L1501.0,621.0 L1502.0,621.6 L1503.0,621.9 L1504.0,621.4 L1505.0,620.5 L1506.0,620.5 L1507.0,620.9 L1508.0,621.0 L1509.0,621.3 L1510.0,621.5 L1511.0,621.7 L1512.0,621.6 L1513.0,621.5 L1514.0,621.4 L1515.0,620.9 L1516.0,620.5 L1517.0,620.6 L1518.0,620.9 L1519.0,621.4 L1520.0,621.5 L1521.0,621.1 L1522.0,621.3 L1523.0,621.6 L1524.0,621.1 L1525.0,620.7 L1526.0,621.1 L1527.0,621.2 L1528.0,620.7 L1529.0,620.9 L1530.0,621.4 L1531.0,621.5 L1532.0,621.6 L1533.0,621.4 L1534.0,620.7 L1535.0,620.7 L1536.0,621.1 L1537.0,621.2 L1538.0,621.3 L1539.0,621.2 L1540.0,621.0 L1541.0,621.2 L1542.0,621.2 L1543.0,620.8 L1544.0,620.7 L1545.0,620.8 L1546.0,621.1 L1547.0,621.3 L1548.0,621.2 L1549.0,620.8 L1550.0,620.5 L1551.0,620.7 L1552.0,620.8 L1553.0,620.6 L1554.0,620.7 L1555.0,621.4 L1556.0,621.3 L1557.0,620.8 L1558.0,621.0 L1559.0,621.3 L1560.0,621.2 L1561.0,621.0 L1562.0,620.9 L1563.0,620.7 L1564.0,620.7 L1565.0,620.9 L1566.0,621.1 L1567.0,620.7 L1568.0,620.4 L1569.0,620.7 L1570.0,620.8 L1571.0,620.4 L1572.0,620.1 L1573.0,620.5 L1574.0,621.1 L1575.0,621.3 L1576.0,620.9 L1577.0,620.6 L1578.0,620.6 L1579.0,620.6 L1580.0,620.7 L1581.0,620.4 L1582.0,620.2 L1583.0,620.6 L1584.0,620.8 L1585.0,620.6 L1586.0,620.3 L1587.0,620.4 L1588.0,620.8 L1589.0,621.0 L1590.0,621.3 L1591.0,621.1 L1592.0,620.5 L1593.0,620.0 L1594.0,619.7 L1595.0,620.1 L1596.0,620.4 L1597.0,620.5 L1598.0,620.4 L1599.0,620.3 L1600.0,620.2 L1601.0,620.4 L1602.0,620.9 L1603.0,621.2 L1604.0,621.3 L1605.0,621.0 L1606.0,620.5 L1607.0,620.6 L1608.0,620.7 L1609.0,620.2 L1610.0,620.3 L1611.0,620.2 L1612.0,620.1 L1613.0,620.5 L1614.0,620.6 L1615.0,620.5" stroke="#1A6FDF" stroke-width="9"/>
<path d="M140.0,617.7 L141.0,617.9 L142.0,617.9 L143.0,617.7 L144.0,617.3 L145.0,617.2 L146.0,617.5 L147.0,617.6 L148.0,617.8 L149.0,617.9 L150.0,617.8 L151.0,617.6 L152.0,617.3 L153.0,617.4 L154.0,617.9 L155.0,618.3 L156.0,617.8 L157.0,617.4 L158.0,617.7 L159.0,618.0 L160.0,617.8 L161.0,617.5 L162.0,617.7 L163.0,618.1 L164.0,617.8 L165.0,617.3 L166.0,617.5 L167.0,618.2 L168.0,618.6 L169.0,618.3 L170.0,617.8 L171.0,617.9 L172.0,617.9 L173.0,617.7 L174.0,617.8 L175.0,618.2 L176.0,618.3 L177.0,618.0 L178.0,618.0 L179.0,618.2 L180.0,618.3 L181.0,618.2 L182.0,618.1 L183.0,618.3 L184.0,618.2 L185.0,618.0 L186.0,618.2 L187.0,618.4 L188.0,618.1 L189.0,617.6 L190.0,617.6 L191.0,617.7 L192.0,617.5 L193.0,617.3 L194.0,617.6 L195.0,617.7 L196.0,617.5 L197.0,617.7 L198.0,618.1 L199.0,618.2 L200.0,618.6 L201.0,618.8 L202.0,618.3 L203.0,617.8 L204.0,617.3 L205.0,617.2 L206.0,617.6 L207.0,617.9 L208.0,618.3 L209.0,618.4 L210.0,618.2 L211.0,618.0 L212.0,617.9 L213.0,617.8 L214.0,617.7 L215.0,618.1 L216.0,618.1 L217.0,617.5 L218.0,617.6 L219.0,618.2 L220.0,618.3 L221.0,618.1 L222.0,618.1 L223.0,618.4 L224.0,618.5 L225.0,618.4 L226.0,618.5 L227.0,618.6 L228.0,618.4 L229.0,618.2 L230.0,617.9 L231.0,617.8 L232.0,618.4 L233.0,618.6 L234.0,618.1 L235.0,618.1 L236.0,618.1 L237.0,617.9 L238.0,617.7 L239.0,617.8 L240.0,618.2 L241.0,618.4 L242.0,618.6 L243.0,618.8 L244.0,618.5 L245.0,618.2 L246.0,618.5 L247.0,618.5 L248.0,618.2 L249.0,618.1 L250.0,618.1 L251.0,618.1 L252.0,617.9 L253.0,618.2 L254.0,618.7 L255.0,618.7 L256.0,618.2 L257.0,618.1 L258.0,618.2 L259.0,618.0 L260.0,618.1 L261.0,618.7 L262.0,619.1 L263.0,618.8 L264.0,618.6 L265.0,618.5 L266.0,618.5 L267.0,618.4 L268.0,618.5 L269.0,618.6 L270.0,618.6 L271.0,618.7 L272.0,618.9 L273.0,618.9 L274.0,618.6 L275.0,618.7 L276.0,619.2 L277.0,619.4 L278.0,619.3 L279.0,618.8 L280.0,618.4 L281.0,618.8 L282.0,619.3 L283.0,618.7 L284.0,618.3 L285.0,618.2 L286.0,618.0 L287.0,618.4 L288.0,618.6 L289.0,618.6 L290.0,618.8 L291.0,618.6 L292.0,618.4 L293.0,618.3 L294.0,618.5 L295.0,618.6 L296.0,618.5 L297.0,618.8 L298.0,618.8 L299.0,619.0 L300.0,619.3 L301.0,619.0 L302.0,618.8 L303.0,619.4 L304.0,619.7 L305.0,619.3 L306.0,618.7 L307.0,618.4 L308.0,618.6 L309.0,618.9 L310.0,619.0 L311.0,619.0 L312.0,619.2 L313.0,619.3 L314.0,618.9 L315.0,618.3 L316.0,617.9 L317.0,618.4 L318.0,618.6 L319.0,618.1 L320.0,618.2 L321.0,618.4 L322.0,618.6 L323.0,618.9 L324.0,618.6 L325.0,618.3 L326.0,618.5 L327.0,618.9 L328.0,619.3 L329.0,619.3 L330.0,619.1 L331.0,619.2 L332.0,619.2 L333.0,619.2 L334.0,619.0 L335.0,618.8 L336.0,619.0 L337.0,619.1 L338.0,619.0 L339.0,618.9 L340.0,618.8 L341.0,619.0 L342.0,619.0 L343.0,618.7 L344.0,618.8 L345.0,619.3 L346.0,619.5 L347.0,619.0 L348.0,618.9 L349.0,619.1 L350.0,618.9 L351.0,618.9 L352.0,619.3 L353.0,619.6 L354.0,619.5 L355.0,619.3 L356.0,619.2 L357.0,619.0 L358.0,618.8 L359.0,618.6 L360.0,618.8 L361.0,619.0 L362.0,618.8 L363.0,618.9 L364.0,619.0 L365.0,619.1 L366.0,619.3 L367.0,619.1 L368.0,618.9 L369.0,618.8 L370.0,618.9 L371.0,619.2 L372.0,619.5 L373.0,619.5 L374.0,619.0 L375.0,618.9 L376.0,619.0 L377.0,619.0 L378.0,619.5 L379.0,619.5 L380.0,619.0 L381.0,619.3 L382.0,619.3 L383.0,619.1 L384.0,619.2 L385.0,619.4 L386.0,619.2 L387.0,619.1 L388.0,619.0 L389.0,618.8 L390.0,618.7 L391.0,618.7 L392.0,618.9 L393.0,618.8 L394.0,618.6 L395.0,618.5 L396.0,618.5 L397.0,618.6 L398.0,618.6 L399.0,618.8 L400.0,619.3 L401.0,619.5 L402.0,619.5 L403.0,619.3 L404.0,618.8 L405.0,618.8 L406.0,618.9 L407.0,618.9 L408.0,618.8 L409.0,618.4 L410.0,618.1 L411.0,618.2 L412.0,618.4 L413.0,618.5 L414.0,618.5 L415.0,618.2 L416.0,618.1 L417.0,618.2 L418.0,618.4 L419.0,618.3 L420.0,618.1 L421.0,618.2 L422.0,618.3 L423.0,618.4 L424.0,618.6 L425.0,618.7 L426.0,618.5 L427.0,618.4 L428.0,618.2 L429.0,618.3 L430.0,618.2 L431.0,617.9 L432.0,617.9 L433.0,617.7 L434.0,617.6 L435.0,618.4 L436.0,619.2 L437.0,619.3 L438.0,618.8 L439.0,618.3 L440.0,618.1 L441.0,617.8 L442.0,617.4 L443.0,617.3 L444.0,617.8 L445.0,617.7 L446.0,617.2 L447.0,617.1 L448.0,617.3 L449.0,617.2 L450.0,617.3 L451.0,617.5 L452.0,617.2 L453.0,616.8 L454.0,616.8 L455.0,617.0 L456.0,617.0 L457.0,616.9 L458.0,616.8 L459.0,617.0 L460.0,617.3 L461.0,616.9 L462.0,616.7 L463.0,616.7 L464.0,616.6 L465.0,616.8 L466.0,616.9 L467.0,616.5 L468.0,616.2 L469.0,616.1 L470.0,615.9 L471.0,616.0 L472.0,616.2 L473.0,616.1 L474.0,615.7 L475.0,615.5 L476.0,615.4 L477.0,615.4 L478.0,615.5 L479.0,615.7 L480.0,615.7 L481.0,615.3 L482.0,615.0 L483.0,614.9 L484.0,614.8 L485.0,614.5 L486.0,614.3 L487.0,614.5 L488.0,614.5 L489.0,614.2 L490.0,613.8 L491.0,613.7 L492.0,614.1 L493.0,614.5 L494.0,614.0 L495.0,613.5 L496.0,613.0 L497.0,612.6 L498.0,613.1 L499.0,613.5 L500.0,613.2 L501.0,613.0 L502.0,612.7 L503.0,612.2 L504.0,612.1 L505.0,612.3 L506.0,612.2 L507.0,611.8 L508.0,611.6 L509.0,611.4 L510.0,611.0 L511.0,610.7 L512.0,610.6 L513.0,610.5 L514.0,610.4 L515.0,610.7 L516.0,610.8 L517.0,610.6 L518.0,610.1 L519.0,609.3 L520.0,609.3 L521.0,609.6 L522.0,609.4 L523.0,608.8 L524.0,608.6 L525.0,608.8 L526.0,608.6 L527.0,608.5 L528.0,608.2 L529.0,607.7 L530.0,607.6 L531.0,607.6 L532.0,607.6 L533.0,607.1 L534.0,606.2 L535.0,605.8 L536.0,605.6 L537.0,605.4 L538.0,605.0 L539.0,604.6 L540.0,604.6 L541.0,604.7 L542.0,604.7 L543.0,604.6 L544.0,604.0 L545.0,603.5 L546.0,603.4 L547.0,603.3 L548.0,602.8 L549.0,602.3 L550.0,602.3 L551.0,602.2 L552.0,601.6 L553.0,600.7 L554.0,600.2 L555.0,600.1 L556.0,599.9 L557.0,599.6 L558.0,599.5 L559.0,598.9 L560.0,598.4 L561.0,598.4 L562.0,598.1 L563.0,597.5 L564.0,597.3 L565.0,597.2 L566.0,596.8 L567.0,595.8 L568.0,595.0 L569.0,594.6 L570.0,594.4 L571.0,594.5 L572.0,594.2 L573.0,593.5 L574.0,593.2 L575.0,592.8 L576.0,591.9 L577.0,591.6 L578.0,591.5 L579.0,591.3 L580.0,591.0 L581.0,590.4 L582.0,589.9 L583.0,589.2 L584.0,588.6 L585.0,588.2 L586.0,587.5 L587.0,586.7 L588.0,586.2 L589.0,585.6 L590.0,585.1 L591.0,584.9 L592.0,584.6 L593.0,583.8 L594.0,582.8 L595.0,582.3 L596.0,582.0 L597.0,581.7 L598.0,581.2 L599.0,580.5 L600.0,579.5 L601.0,578.6 L602.0,578.1 L603.0,577.6 L604.0,576.5 L605.0,575.5 L606.0,575.3 L607.0,575.0 L608.0,574.2 L609.0,573.6 L610.0,573.0 L611.0,572.2 L612.0,571.7 L613.0,571.1 L614.0,570.2 L615.0,569.4 L616.0,568.6 L617.0,567.6 L618.0,566.7 L619.0,565.9 L620.0,565.0 L621.0,564.1 L622.0,563.1 L623.0,562.1 L624.0,561.2 L625.0,560.6 L626.0,560.0 L627.0,559.0 L628.0,557.9 L629.0,557.2 L630.0,556.4 L631.0,555.2 L632.0,554.0 L633.0,552.7 L634.0,551.6 L635.0,550.9 L636.0,549.9 L637.0,548.9 L638.0,547.8 L639.0,546.4 L640.0,545.4 L641.0,544.6 L642.0,543.3 L643.0,541.7 L644.0,540.4 L645.0,539.7 L646.0,538.9 L647.0,537.6 L648.0,536.2 L649.0,534.7 L650.0,533.3 L651.0,531.9 L652.0,530.9 L653.0,529.8 L654.0,528.5 L655.0,527.3 L656.0,525.8 L657.0,524.3 L658.0,522.5 L659.0,520.7 L660.0,519.2 L661.0,517.5 L662.0,515.8 L663.0,514.6 L664.0,513.1 L665.0,511.3 L666.0,509.6 L667.0,507.8 L668.0,506.1 L669.0,504.8 L670.0,503.6 L671.0,501.7 L672.0,499.8 L673.0,498.2 L674.0,496.5 L675.0,494.6 L676.0,492.9 L677.0,491.3 L678.0,489.2 L679.0,487.1 L680.0,485.0 L681.0,483.1 L682.0,481.3 L683.0,479.4 L684.0,477.3 L685.0,475.2 L686.0,473.5 L687.0,471.5 L688.0,469.1 L689.0,467.1 L690.0,465.0 L691.0,462.8 L692.0,460.9 L693.0,459.2 L694.0,457.2 L695.0,454.9 L696.0,452.6 L697.0,450.6 L698.0,448.4 L699.0,446.2 L700.0,444.2 L701.0,442.0 L702.0,440.0 L703.0,438.1 L704.0,435.4 L705.0,433.3 L706.0,431.6 L707.0,429.4 L708.0,427.6 L709.0,426.1 L710.0,423.8 L711.0,421.8 L712.0,420.1 L713.0,417.9 L714.0,415.6 L715.0,413.4 L716.0,411.0 L717.0,409.2 L718.0,407.7 L719.0,405.7 L720.0,403.6 L721.0,401.5 L722.0,399.7 L723.0,398.5 L724.0,396.9 L725.0,395.1 L726.0,393.3 L727.0,391.2 L728.0,389.4 L729.0,388.2 L730.0,387.2 L731.0,386.1 L732.0,384.4 L733.0,382.4 L734.0,381.0 L735.0,380.1 L736.0,378.8 L737.0,377.6 L738.0,376.8 L739.0,376.1 L740.0,375.3 L741.0,374.5 L742.0,374.0 L743.0,373.3 L744.0,372.3 L745.0,371.4 L746.0,371.3 L747.0,371.3 L748.0,370.8 L749.0,370.4 L750.0,370.2 L751.0,370.2 L752.0,370.7 L753.0,371.0 L754.0,370.9 L755.0,370.6 L756.0,371.3 L757.0,372.4 L758.0,372.9 L759.0,373.3 L760.0,373.8 L761.0,374.9 L762.0,376.3 L763.0,377.8 L764.0,379.2 L765.0,380.3 L766.0,381.3 L767.0,383.0 L768.0,385.0 L769.0,386.7 L770.0,388.4 L771.0,390.4 L772.0,392.6 L773.0,394.5 L774.0,396.3 L775.0,398.9 L776.0,402.2 L777.0,405.3 L778.0,408.2 L779.0,411.3 L780.0,414.0 L781.0,416.5 L782.0,419.2 L783.0,422.7 L784.0,426.1 L785.0,429.5 L786.0,433.4 L787.0,437.3 L788.0,440.9 L789.0,444.4 L790.0,448.2 L791.0,452.1 L792.0,456.2 L793.0,460.7 L794.0,465.7 L795.0,470.4 L796.0,474.3 L797.0,478.6 L798.0,483.3 L799.0,488.5 L800.0,493.7 L801.0,498.9 L802.0,504.3 L803.0,508.9 L804.0,513.5 L805.0,518.5 L806.0,523.6 L807.0,528.6 L808.0,533.8 L809.0,539.3 L810.0,545.0 L811.0,550.5 L812.0,556.0 L813.0,561.6 L814.0,567.0 L815.0,572.5 L816.0,578.3 L817.0,584.5 L818.0,590.4 L819.0,595.7 L820.0,601.2 L821.0,607.2 L822.0,613.2 L823.0,618.6 L824.0,623.8 L825.0,629.2 L826.0,634.6 L827.0,640.5 L828.0,646.7 L829.0,652.5 L830.0,657.9 L831.0,663.3 L832.0,668.8 L833.0,674.1 L834.0,679.7 L835.0,685.3 L836.0,690.5 L837.0,695.9 L838.0,701.4 L839.0,706.6 L840.0,711.8 L841.0,717.2 L842.0,722.4 L843.0,727.1 L844.0,731.4 L845.0,736.0 L846.0,741.0 L847.0,746.1 L848.0,750.9 L849.0,755.1 L850.0,759.3 L851.0,763.5 L852.0,767.6 L853.0,771.7 L854.0,775.7 L855.0,779.9 L856.0,784.0 L857.0,787.9 L858.0,791.7 L859.0,795.4 L860.0,798.9 L861.0,801.9 L862.0,804.9 L863.0,808.3 L864.0,811.7 L865.0,814.8 L866.0,817.1 L867.0,819.5 L868.0,822.6 L869.0,825.6 L870.0,828.1 L871.0,830.3 L872.0,832.4 L873.0,834.5 L874.0,836.7 L875.0,838.7 L876.0,840.4 L877.0,841.8 L878.0,843.5 L879.0,844.8 L880.0,845.9 L881.0,847.4 L882.0,848.7 L883.0,849.9 L884.0,851.0 L885.0,851.7 L886.0,852.3 L887.0,853.0 L888.0,853.6 L889.0,854.1 L890.0,854.5 L891.0,854.9 L892.0,855.2 L893.0,855.2 L894.0,855.4 L895.0,855.3 L896.0,854.7 L897.0,854.2 L898.0,854.0 L899.0,853.9 L900.0,853.8 L901.0,853.3 L902.0,852.1 L903.0,850.8 L904.0,849.7 L905.0,849.0 L906.0,848.3 L907.0,847.5 L908.0,846.5 L909.0,845.1 L910.0,844.1 L911.0,843.2 L912.0,842.2 L913.0,840.9 L914.0,839.4 L915.0,838.5 L916.0,837.3 L917.0,835.5 L918.0,833.6 L919.0,831.5 L920.0,829.4 L921.0,827.8 L922.0,826.3 L923.0,824.6 L924.0,823.0 L925.0,821.4 L926.0,819.8 L927.0,818.3 L928.0,816.1 L929.0,813.4 L930.0,811.4 L931.0,809.5 L932.0,807.2 L933.0,805.2 L934.0,803.6 L935.0,802.0 L936.0,800.6 L937.0,798.8 L938.0,796.4 L939.0,794.2 L940.0,792.0 L941.0,789.8 L942.0,787.6 L943.0,785.8 L944.0,784.3 L945.0,782.5 L946.0,780.3 L947.0,777.9 L948.0,775.8 L949.0,773.8 L950.0,771.6 L951.0,769.6 L952.0,767.3 L953.0,765.3 L954.0,763.8 L955.0,762.2 L956.0,760.4 L957.0,758.4 L958.0,756.4 L959.0,754.7 L960.0,752.6 L961.0,750.1 L962.0,748.0 L963.0,746.2 L964.0,744.6 L965.0,743.0 L966.0,741.0 L967.0,738.9 L968.0,737.2 L969.0,735.7 L970.0,734.2 L971.0,732.7 L972.0,730.9 L973.0,728.8 L974.0,727.2 L975.0,725.8 L976.0,724.2 L977.0,722.5 L978.0,720.8 L979.0,719.3 L980.0,718.3 L981.0,717.3 L982.0,715.7 L983.0,713.6 L984.0,711.6 L985.0,710.4 L986.0,709.3 L987.0,708.1 L988.0,706.7 L989.0,705.2 L990.0,703.9 L991.0,702.8 L992.0,701.8 L993.0,700.4 L994.0,698.7 L995.0,697.4 L996.0,696.3 L997.0,695.1 L998.0,694.2 L999.0,693.4 L1000.0,692.3 L1001.0,690.9 L1002.0,689.5 L1003.0,688.3 L1004.0,687.3 L1005.0,686.2 L1006.0,685.2 L1007.0,684.4 L1008.0,683.6 L1009.0,682.6 L1010.0,681.7 L1011.0,680.7 L1012.0,679.9 L1013.0,679.0 L1014.0,677.8 L1015.0,676.7 L1016.0,675.7 L1017.0,674.9 L1018.0,674.4 L1019.0,673.8 L1020.0,672.8 L1021.0,671.7 L1022.0,671.1 L1023.0,670.6 L1024.0,669.9 L1025.0,669.2 L1026.0,668.5 L1027.0,667.3 L1028.0,666.6 L1029.0,666.4 L1030.0,666.2 L1031.0,665.5 L1032.0,664.3 L1033.0,663.5 L1034.0,663.0 L1035.0,662.3 L1036.0,661.6 L1037.0,661.2 L1038.0,660.5 L1039.0,659.4 L1040.0,658.8 L1041.0,658.3 L1042.0,657.8 L1043.0,657.5 L1044.0,657.1 L1045.0,656.4 L1046.0,656.2 L1047.0,655.6 L1048.0,654.4 L1049.0,653.7 L1050.0,653.4 L1051.0,653.1 L1052.0,653.0 L1053.0,652.6 L1054.0,651.7 L1055.0,650.9 L1056.0,650.6 L1057.0,650.5 L1058.0,650.1 L1059.0,649.7 L1060.0,649.2 L1061.0,648.5 L1062.0,647.9 L1063.0,647.3 L1064.0,646.9 L1065.0,646.7 L1066.0,646.2 L1067.0,645.8 L1068.0,645.5 L1069.0,645.1 L1070.0,644.9 L1071.0,644.9 L1072.0,644.6 L1073.0,644.2 L1074.0,643.9 L1075.0,643.4 L1076.0,642.6 L1077.0,642.3 L1078.0,642.3 L1079.0,641.8 L1080.0,641.4 L1081.0,641.2 L1082.0,640.9 L1083.0,640.9 L1084.0,640.5 L1085.0,639.5 L1086.0,638.9 L1087.0,638.7 L1088.0,638.8 L1089.0,638.4 L1090.0,637.5 L1091.0,637.2 L1092.0,637.3 L1093.0,637.0 L1094.0,636.9 L1095.0,636.8 L1096.0,636.5 L1097.0,636.4 L1098.0,636.1 L1099.0,635.6 L1100.0,635.3 L1101.0,635.3 L1102.0,635.0 L1103.0,634.5 L1104.0,634.4 L1105.0,634.5 L1106.0,634.3 L1107.0,633.7 L1108.0,633.1 L1109.0,633.0 L1110.0,632.8 L1111.0,632.5 L1112.0,632.3 L1113.0,632.1 L1114.0,632.1 L1115.0,632.3 L1116.0,631.9 L1117.0,631.4 L1118.0,631.2 L1119.0,631.1 L1120.0,631.0 L1121.0,630.7 L1122.0,630.7 L1123.0,630.5 L1124.0,629.9 L1125.0,629.7 L1126.0,629.7 L1127.0,629.4 L1128.0,629.1 L1129.0,629.2 L1130.0,629.1 L1131.0,628.8 L1132.0,628.8 L1133.0,628.8 L1134.0,628.1 L1135.0,627.7 L1136.0,628.0 L1137.0,628.2 L1138.0,628.2 L1139.0,628.4 L1140.0,628.2 L1141.0,627.3 L1142.0,626.6 L1143.0,626.7 L1144.0,626.9 L1145.0,626.6 L1146.0,626.4 L1147.0,626.4 L1148.0,626.2 L1149.0,626.2 L1150.0,626.6 L1151.0,626.5 L1152.0,625.9 L1153.0,625.6 L1154.0,625.5 L1155.0,625.3 L1156.0,625.3 L1157.0,625.1 L1158.0,624.8 L1159.0,624.7 L1160.0,624.9 L1161.0,625.1 L1162.0,624.7 L1163.0,624.6 L1164.0,624.6 L1165.0,624.6 L1166.0,624.7 L1167.0,624.6 L1168.0,624.5 L1169.0,624.5 L1170.0,624.6 L1171.0,624.4 L1172.0,624.3 L1173.0,624.2 L1174.0,624.0 L1175.0,623.7 L1176.0,623.5 L1177.0,623.5 L1178.0,623.5 L1179.0,623.6 L1180.0,624.0 L1181.0,624.1 L1182.0,623.4 L1183.0,622.8 L1184.0,622.9 L1185.0,623.0 L1186.0,622.9 L1187.0,622.5 L1188.0,622.6 L1189.0,623.2 L1190.0,623.2 L1191.0,622.7 L1192.0,622.5 L1193.0,622.9 L1194.0,622.9 L1195.0,622.4 L1196.0,622.6 L1197.0,623.0 L1198.0,622.6 L1199.0,622.4 L1200.0,622.3 L1201.0,621.8 L1202.0,621.5 L1203.0,622.0 L1204.0,622.5 L1205.0,622.5 L1206.0,622.2 L1207.0,621.9 L1208.0,621.9 L1209.0,621.9 L1210.0,621.9 L1211.0,622.0 L1212.0,622.4 L1213.0,622.2 L1214.0,621.6 L1215.0,621.2 L1216.0,620.8 L1217.0,621.0 L1218.0,621.5 L1219.0,621.7 L1220.0,621.7 L1221.0,621.7 L1222.0,621.5 L1223.0,621.2 L1224.0,621.0 L1225.0,621.3 L1226.0,621.6 L1227.0,621.8 L1228.0,621.6 L1229.0,620.9 L1230.0,620.7 L1231.0,620.8 L1232.0,620.8 L1233.0,621.1 L1234.0,621.5 L1235.0,621.3 L1236.0,620.8 L1237.0,620.9 L1238.0,621.4 L1239.0,621.4 L1240.0,620.8 L1241.0,620.5 L1242.0,620.6 L1243.0,620.3 L1244.0,620.2 L1245.0,620.4 L1246.0,620.5 L1247.0,620.6 L1248.0,620.4 L1249.0,620.4 L1250.0,621.0 L1251.0,621.1 L1252.0,620.4 L1253.0,620.1 L1254.0,620.2 L1255.0,620.3 L1256.0,620.6 L1257.0,620.7 L1258.0,620.5 L1259.0,620.1 L1260.0,620.0 L1261.0,620.3 L1262.0,620.6 L1263.0,620.4 L1264.0,620.3 L1265.0,620.1 L1266.0,620.0 L1267.0,620.4 L1268.0,620.8 L1269.0,620.8 L1270.0,620.1 L1271.0,619.5 L1272.0,619.7 L1273.0,619.9 L1274.0,620.2 L1275.0,620.5 L1276.0,620.2 L1277.0,620.0 L1278.0,620.2 L1279.0,620.2 L1280.0,619.9 L1281.0,620.3 L1282.0,620.8 L1283.0,620.4 L1284.0,620.1 L1285.0,620.2 L1286.0,620.5 L1287.0,620.4 L1288.0,620.1 L1289.0,620.0 L1290.0,620.0 L1291.0,619.6 L1292.0,619.3 L1293.0,619.8 L1294.0,620.1 L1295.0,620.0 L1296.0,620.0 L1297.0,620.4 L1298.0,620.6 L1299.0,620.2 L1300.0,619.9 L1301.0,619.6 L1302.0,619.8 L1303.0,620.4 L1304.0,620.7 L1305.0,620.5 L1306.0,620.2 L1307.0,620.2 L1308.0,620.1 L1309.0,619.7 L1310.0,619.5 L1311.0,619.5 L1312.0,619.7 L1313.0,619.9 L1314.0,620.0 L1315.0,619.9 L1316.0,619.8 L1317.0,619.8 L1318.0,619.8 L1319.0,619.7 L1320.0,619.8 L1321.0,619.6 L1322.0,619.4 L1323.0,619.8 L1324.0,620.3 L1325.0,620.6 L1326.0,620.3 L1327.0,619.6 L1328.0,619.5 L1329.0,619.9 L1330.0,619.9 L1331.0,619.6 L1332.0,619.6 L1333.0,619.8 L1334.0,619.5 L1335.0,619.2 L1336.0,619.2 L1337.0,619.1 L1338.0,619.2 L1339.0,619.6 L1340.0,619.3 L1341.0,619.2 L1342.0,619.9 L1343.0,620.4 L1344.0,620.2 L1345.0,619.9 L1346.0,619.7 L1347.0,619.4 L1348.0,619.4 L1349.0,619.7 L1350.0,619.8 L1351.0,619.6 L1352.0,619.6 L1353.0,619.5 L1354.0,619.4 L1355.0,619.7 L1356.0,619.8 L1357.0,619.8 L1358.0,620.1 L1359.0,620.4 L1360.0,619.9 L1361.0,619.4 L1362.0,619.6 L1363.0,619.5 L1364.0,619.2 L1365.0,619.3 L1366.0,619.5 L1367.0,619.6 L1368.0,619.4 L1369.0,619.4 L1370.0,619.6 L1371.0,619.5 L1372.0,619.3 L1373.0,619.2 L1374.0,619.5 L1375.0,619.6 L1376.0,619.3 L1377.0,619.1 L1378.0,619.1 L1379.0,619.3 L1380.0,619.3 L1381.0,619.4 L1382.0,619.6 L1383.0,619.8 L1384.0,619.7 L1385.0,619.6 L1386.0,619.9 L1387.0,620.0 L1388.0,619.8 L1389.0,619.7 L1390.0,619.4 L1391.0,619.2 L1392.0,619.5 L1393.0,619.7 L1394.0,619.7 L1395.0,619.4 L1396.0,619.0 L1397.0,618.9 L1398.0,618.9 L1399.0,619.1 L1400.0,619.3 L1401.0,619.7 L1402.0,620.2 L1403.0,619.9 L1404.0,619.3 L1405.0,619.0 L1406.0,619.2 L1407.0,619.3 L1408.0,619.2 L1409.0,619.3 L1410.0,619.4 L1411.0,619.3 L1412.0,619.3 L1413.0,619.5 L1414.0,619.5 L1415.0,619.2 L1416.0,619.1 L1417.0,619.6 L1418.0,619.8 L1419.0,619.7 L1420.0,619.6 L1421.0,619.3 L1422.0,619.3 L1423.0,619.7 L1424.0,619.7 L1425.0,619.7 L1426.0,620.0 L1427.0,619.8 L1428.0,619.3 L1429.0,619.2 L1430.0,619.1 L1431.0,619.0 L1432.0,619.0 L1433.0,619.0 L1434.0,619.2 L1435.0,619.4 L1436.0,619.3 L1437.0,619.1 L1438.0,619.0 L1439.0,618.8 L1440.0,618.7 L1441.0,619.0 L1442.0,619.4 L1443.0,619.8 L1444.0,619.7 L1445.0,619.2 L1446.0,619.0 L1447.0,619.1 L1448.0,619.5 L1449.0,619.6 L1450.0,619.3 L1451.0,619.2 L1452.0,619.6 L1453.0,619.6 L1454.0,619.3 L1455.0,619.4 L1456.0,619.4 L1457.0,619.5 L1458.0,619.8 L1459.0,619.4 L1460.0,619.1 L1461.0,619.1 L1462.0,618.9 L1463.0,619.1 L1464.0,619.3 L1465.0,619.2 L1466.0,619.2 L1467.0,619.1 L1468.0,619.1 L1469.0,619.2 L1470.0,619.1 L1471.0,619.3 L1472.0,619.3 L1473.0,619.0 L1474.0,619.2 L1475.0,619.2 L1476.0,619.0 L1477.0,619.3 L1478.0,619.6 L1479.0,619.4 L1480.0,618.9 L1481.0,618.8 L1482.0,619.1 L1483.0,619.4 L1484.0,619.2 L1485.0,619.0 L1486.0,619.3 L1487.0,619.4 L1488.0,619.4 L1489.0,619.5 L1490.0,619.7 L1491.0,619.9 L1492.0,619.6 L1493.0,619.4 L1494.0,619.3 L1495.0,619.3 L1496.0,619.5 L1497.0,619.3 L1498.0,618.8 L1499.0,618.9 L1500.0,619.6 L1501.0,620.0 L1502.0,619.8 L1503.0,619.6 L1504.0,619.2 L1505.0,619.1 L1506.0,619.5 L1507.0,619.7 L1508.0,619.6 L1509.0,619.3 L1510.0,618.9 L1511.0,619.0 L1512.0,619.5 L1513.0,619.6 L1514.0,619.4 L1515.0,619.5 L1516.0,619.6 L1517.0,619.6 L1518.0,619.4 L1519.0,619.3 L1520.0,619.7 L1521.0,619.8 L1522.0,619.1 L1523.0,618.7 L1524.0,619.1 L1525.0,619.3 L1526.0,619.2 L1527.0,619.4 L1528.0,619.6 L1529.0,619.4 L1530.0,619.2 L1531.0,619.3 L1532.0,619.4 L1533.0,619.2 L1534.0,619.2 L1535.0,619.4 L1536.0,619.6 L1537.0,620.1 L1538.0,620.1 L1539.0,619.2 L1540.0,618.7 L1541.0,619.0 L1542.0,619.4 L1543.0,619.4 L1544.0,619.3 L1545.0,619.8 L1546.0,620.3 L1547.0,620.0 L1548.0,619.5 L1549.0,618.8 L1550.0,618.7 L1551.0,619.3 L1552.0,619.7 L1553.0,619.9 L1554.0,619.5 L1555.0,618.9 L1556.0,618.7 L1557.0,618.6 L1558.0,619.0 L1559.0,619.4 L1560.0,619.5 L1561.0,619.7 L1562.0,619.4 L1563.0,619.3 L1564.0,619.6 L1565.0,619.6 L1566.0,619.2 L1567.0,619.0 L1568.0,619.4 L1569.0,619.4 L1570.0,619.2 L1571.0,619.5 L1572.0,619.7 L1573.0,619.7 L1574.0,619.7 L1575.0,619.4 L1576.0,618.9 L1577.0,618.9 L1578.0,619.3 L1579.0,619.2 L1580.0,619.3 L1581.0,619.5 L1582.0,619.7 L1583.0,619.7 L1584.0,619.8 L1585.0,619.7 L1586.0,619.5 L1587.0,619.7 L1588.0,619.6 L1589.0,619.0 L1590.0,619.0 L1591.0,619.7 L1592.0,619.8 L1593.0,619.2 L1594.0,618.9 L1595.0,618.7 L1596.0,618.6 L1597.0,618.9 L1598.0,619.2 L1599.0,619.4 L1600.0,619.5 L1601.0,619.4 L1602.0,619.4 L1603.0,619.4 L1604.0,619.6 L1605.0,619.6 L1606.0,619.5 L1607.0,619.8 L1608.0,620.0 L1609.0,619.8 L1610.0,619.3 L1611.0,619.1 L1612.0,619.4 L1613.0,619.8 L1614.0,619.6 L1615.0,619.4" stroke="#37AD6B" stroke-width="9"/>
<path d="M140.0,617.9 L141.0,618.5 L142.0,618.7 L143.0,618.1 L144.0,617.6 L145.0,617.7 L146.0,617.7 L147.0,617.9 L148.0,618.4 L149.0,618.5 L150.0,618.3 L151.0,618.4 L152.0,618.3 L153.0,618.0 L154.0,617.9 L155.0,618.1 L156.0,617.9 L157.0,617.8 L158.0,618.0 L159.0,617.7 L160.0,617.7 L161.0,618.3 L162.0,618.2 L163.0,617.8 L164.0,617.5 L165.0,617.6 L166.0,618.1 L167.0,618.3 L168.0,618.4 L169.0,618.3 L170.0,618.1 L171.0,618.2 L172.0,618.3 L173.0,617.9 L174.0,617.6 L175.0,617.8 L176.0,617.8 L177.0,617.7 L178.0,617.7 L179.0,617.7 L180.0,617.6 L181.0,617.5 L182.0,617.6 L183.0,618.0 L184.0,618.1 L185.0,617.3 L186.0,616.9 L187.0,617.6 L188.0,618.0 L189.0,617.5 L190.0,617.0 L191.0,617.1 L192.0,617.2 L193.0,617.3 L194.0,617.8 L195.0,617.8 L196.0,617.6 L197.0,617.7 L198.0,617.9 L199.0,618.2 L200.0,618.4 L201.0,618.4 L202.0,618.2 L203.0,617.9 L204.0,617.7 L205.0,617.8 L206.0,618.0 L207.0,617.9 L208.0,617.9 L209.0,617.9 L210.0,617.7 L211.0,617.6 L212.0,617.7 L213.0,617.8 L214.0,617.8 L215.0,617.8 L216.0,617.8 L217.0,617.5 L218.0,617.3 L219.0,617.7 L220.0,617.8 L221.0,617.7 L222.0,618.0 L223.0,618.2 L224.0,618.3 L225.0,618.2 L226.0,618.2 L227.0,618.2 L228.0,617.7 L229.0,617.4 L230.0,617.8 L231.0,618.2 L232.0,618.0 L233.0,617.7 L234.0,617.3 L235.0,617.3 L236.0,617.4 L237.0,617.4 L238.0,617.6 L239.0,617.9 L240.0,618.2 L241.0,618.2 L242.0,618.0 L243.0,617.4 L244.0,617.0 L245.0,617.1 L246.0,617.2 L247.0,617.6 L248.0,618.2 L249.0,618.1 L250.0,617.6 L251.0,617.2 L252.0,617.1 L253.0,617.4 L254.0,617.7 L255.0,617.7 L256.0,617.6 L257.0,617.3 L258.0,617.4 L259.0,617.5 L260.0,617.6 L261.0,617.8 L262.0,617.8 L263.0,617.6 L264.0,617.7 L265.0,617.8 L266.0,617.9 L267.0,618.0 L268.0,617.8 L269.0,617.4 L270.0,617.3 L271.0,617.7 L272.0,617.9 L273.0,617.6 L274.0,617.5 L275.0,617.6 L276.0,617.5 L277.0,617.1 L278.0,617.3 L279.0,617.9 L280.0,618.2 L281.0,618.1 L282.0,617.8 L283.0,617.6 L284.0,617.5 L285.0,617.5 L286.0,617.6 L287.0,617.6 L288.0,617.6 L289.0,617.5 L290.0,617.2 L291.0,617.3 L292.0,617.4 L293.0,617.1 L294.0,617.2 L295.0,617.5 L296.0,617.3 L297.0,616.8 L298.0,616.5 L299.0,616.9 L300.0,617.1 L301.0,617.1 L302.0,617.0 L303.0,617.3 L304.0,617.9 L305.0,617.9 L306.0,617.8 L307.0,617.8 L308.0,617.5 L309.0,617.2 L310.0,617.4 L311.0,617.7 L312.0,618.1 L313.0,618.1 L314.0,617.3 L315.0,616.8 L316.0,617.3 L317.0,617.3 L318.0,617.0 L319.0,617.0 L320.0,617.6 L321.0,617.8 L322.0,617.9 L323.0,618.0 L324.0,617.7 L325.0,617.4 L326.0,617.5 L327.0,617.5 L328.0,617.8 L329.0,618.0 L330.0,617.5 L331.0,616.7 L332.0,616.7 L333.0,617.5 L334.0,617.8 L335.0,617.6 L336.0,617.5 L337.0,617.4 L338.0,617.2 L339.0,616.9 L340.0,617.2 L341.0,617.4 L342.0,617.3 L343.0,617.3 L344.0,617.3 L345.0,617.1 L346.0,616.9 L347.0,617.1 L348.0,617.3 L349.0,617.1 L350.0,617.2 L351.0,617.5 L352.0,618.0 L353.0,618.0 L354.0,617.9 L355.0,618.0 L356.0,617.8 L357.0,617.7 L358.0,617.5 L359.0,617.4 L360.0,617.5 L361.0,617.5 L362.0,616.9 L363.0,617.0 L364.0,617.5 L365.0,617.4 L366.0,617.4 L367.0,617.5 L368.0,616.9 L369.0,616.4 L370.0,616.7 L371.0,617.3 L372.0,617.4 L373.0,617.4 L374.0,617.4 L375.0,616.8 L376.0,616.7 L377.0,617.1 L378.0,617.3 L379.0,617.5 L380.0,617.4 L381.0,617.2 L382.0,617.3 L383.0,617.3 L384.0,617.0 L385.0,617.2 L386.0,617.7 L387.0,617.8 L388.0,617.5 L389.0,617.3 L390.0,617.3 L391.0,617.3 L392.0,617.2 L393.0,617.2 L394.0,617.4 L395.0,617.2 L396.0,616.9 L397.0,617.0 L398.0,617.1 L399.0,617.3 L400.0,617.2 L401.0,616.9 L402.0,616.9 L403.0,617.0 L404.0,617.2 L405.0,617.0 L406.0,616.7 L407.0,616.7 L408.0,616.8 L409.0,616.7 L410.0,616.5 L411.0,616.5 L412.0,616.7 L413.0,616.7 L414.0,616.6 L415.0,616.6 L416.0,616.7 L417.0,616.7 L418.0,616.6 L419.0,616.5 L420.0,616.8 L421.0,617.4 L422.0,617.4 L423.0,617.0 L424.0,616.6 L425.0,616.7 L426.0,617.0 L427.0,616.6 L428.0,616.2 L429.0,616.1 L430.0,615.9 L431.0,616.0 L432.0,616.5 L433.0,616.4 L434.0,616.2 L435.0,616.4 L436.0,616.2 L437.0,616.1 L438.0,616.1 L439.0,615.9 L440.0,615.9 L441.0,615.7 L442.0,615.6 L443.0,615.8 L444.0,615.9 L445.0,615.8 L446.0,615.7 L447.0,615.5 L448.0,615.4 L449.0,615.3 L450.0,615.6 L451.0,616.0 L452.0,615.8 L453.0,615.0 L454.0,614.8 L455.0,615.3 L456.0,615.3 L457.0,615.1 L458.0,615.2 L459.0,615.3 L460.0,615.3 L461.0,615.2 L462.0,615.1 L463.0,614.9 L464.0,614.9 L465.0,614.8 L466.0,614.6 L467.0,614.4 L468.0,614.4 L469.0,614.4 L470.0,614.4 L471.0,614.1 L472.0,613.8 L473.0,614.0 L474.0,613.8 L475.0,613.4 L476.0,613.3 L477.0,613.5 L478.0,613.7 L479.0,613.2 L480.0,612.9 L481.0,612.9 L482.0,612.7 L483.0,612.7 L484.0,612.8 L485.0,612.5 L486.0,612.4 L487.0,612.5 L488.0,612.2 L489.0,611.9 L490.0,611.8 L491.0,611.9 L492.0,611.6 L493.0,611.2 L494.0,610.8 L495.0,610.9 L496.0,610.7 L497.0,610.3 L498.0,610.3 L499.0,610.2 L500.0,609.9 L501.0,609.8 L502.0,609.8 L503.0,609.9 L504.0,609.7 L505.0,609.2 L506.0,608.8 L507.0,609.0 L508.0,608.9 L509.0,608.7 L510.0,608.5 L511.0,608.1 L512.0,607.9 L513.0,607.5 L514.0,607.2 L515.0,607.3 L516.0,607.2 L517.0,606.8 L518.0,606.4 L519.0,606.2 L520.0,606.2 L521.0,606.2 L522.0,606.0 L523.0,605.5 L524.0,605.1 L525.0,604.8 L526.0,604.0 L527.0,603.4 L528.0,603.0 L529.0,603.0 L530.0,603.2 L531.0,603.0 L532.0,602.8 L533.0,602.8 L534.0,602.6 L535.0,602.1 L536.0,601.6 L537.0,601.0 L538.0,600.6 L539.0,600.2 L540.0,599.7 L541.0,599.2 L542.0,598.9 L543.0,598.4 L544.0,598.0 L545.0,597.7 L546.0,597.3 L547.0,596.7 L548.0,596.0 L549.0,595.8 L550.0,595.7 L551.0,595.3 L552.0,594.8 L553.0,594.7 L554.0,594.3 L555.0,594.2 L556.0,594.2 L557.0,593.1 L558.0,592.0 L559.0,591.7 L560.0,591.6 L561.0,591.1 L562.0,590.6 L563.0,590.2 L564.0,589.8 L565.0,589.0 L566.0,588.1 L567.0,587.7 L568.0,587.3 L569.0,586.6 L570.0,585.7 L571.0,584.8 L572.0,584.7 L573.0,584.4 L574.0,583.2 L575.0,582.2 L576.0,582.1 L577.0,581.9 L578.0,581.7 L579.0,581.2 L580.0,580.3 L581.0,579.3 L582.0,578.8 L583.0,578.2 L584.0,577.4 L585.0,576.9 L586.0,576.4 L587.0,575.7 L588.0,575.1 L589.0,574.4 L590.0,573.7 L591.0,572.6 L592.0,571.5 L593.0,571.0 L594.0,570.3 L595.0,569.7 L596.0,568.8 L597.0,567.9 L598.0,567.3 L599.0,566.8 L600.0,566.3 L601.0,565.4 L602.0,564.3 L603.0,563.4 L604.0,562.6 L605.0,561.6 L606.0,560.8 L607.0,560.1 L608.0,559.4 L609.0,558.5 L610.0,557.5 L611.0,556.9 L612.0,556.2 L613.0,555.0 L614.0,554.0 L615.0,552.7 L616.0,551.7 L617.0,550.9 L618.0,549.8 L619.0,548.6 L620.0,548.0 L621.0,547.6 L622.0,546.4 L623.0,545.1 L624.0,544.0 L625.0,542.6 L626.0,541.5 L627.0,540.8 L628.0,540.4 L629.0,539.2 L630.0,537.3 L631.0,535.9 L632.0,534.7 L633.0,533.5 L634.0,532.8 L635.0,531.8 L636.0,530.5 L637.0,529.1 L638.0,527.8 L639.0,526.5 L640.0,524.9 L641.0,523.7 L642.0,522.8 L643.0,521.4 L644.0,519.8 L645.0,518.5 L646.0,517.1 L647.0,515.9 L648.0,514.7 L649.0,513.6 L650.0,512.5 L651.0,510.7 L652.0,509.1 L653.0,507.7 L654.0,506.4 L655.0,504.9 L656.0,502.9 L657.0,501.1 L658.0,499.6 L659.0,497.8 L660.0,496.5 L661.0,495.4 L662.0,493.6 L663.0,491.6 L664.0,489.9 L665.0,488.1 L666.0,486.3 L667.0,484.7 L668.0,482.3 L669.0,480.1 L670.0,478.9 L671.0,477.5 L672.0,475.3 L673.0,472.8 L674.0,470.6 L675.0,468.6 L676.0,466.5 L677.0,464.4 L678.0,462.3 L679.0,459.9 L680.0,457.7 L681.0,455.4 L682.0,453.3 L683.0,451.2 L684.0,448.8 L685.0,446.4 L686.0,444.4 L687.0,442.1 L688.0,439.3 L689.0,437.1 L690.0,434.9 L691.0,432.5 L692.0,430.4 L693.0,428.2 L694.0,425.2 L695.0,422.3 L696.0,419.8 L697.0,417.2 L698.0,414.7 L699.0,412.3 L700.0,409.5 L701.0,406.5 L702.0,403.9 L703.0,401.5 L704.0,399.2 L705.0,396.5 L706.0,393.5 L707.0,390.5 L708.0,387.9 L709.0,385.5 L710.0,382.4 L711.0,379.6 L712.0,377.1 L713.0,374.4 L714.0,371.6 L715.0,369.1 L716.0,366.4 L717.0,363.6 L718.0,361.2 L719.0,358.8 L720.0,355.9 L721.0,352.8 L722.0,350.1 L723.0,347.7 L724.0,345.3 L725.0,342.6 L726.0,340.0 L727.0,337.5 L728.0,335.1 L729.0,333.2 L730.0,331.0 L731.0,328.2 L732.0,325.9 L733.0,324.1 L734.0,322.0 L735.0,319.8 L736.0,317.5 L737.0,315.5 L738.0,313.7 L739.0,311.9 L740.0,309.8 L741.0,308.2 L742.0,307.0 L743.0,305.6 L744.0,304.2 L745.0,302.9 L746.0,301.7 L747.0,300.4 L748.0,298.9 L749.0,297.6 L750.0,297.0 L751.0,296.2 L752.0,295.2 L753.0,294.8 L754.0,294.7 L755.0,294.5 L756.0,294.1 L757.0,293.5 L758.0,293.6 L759.0,293.7 L760.0,293.7 L761.0,294.4 L762.0,295.1 L763.0,295.9 L764.0,296.9 L765.0,297.7 L766.0,298.5 L767.0,299.8 L768.0,301.6 L769.0,303.2 L770.0,304.4 L771.0,305.5 L772.0,307.3 L773.0,309.7 L774.0,311.8 L775.0,314.0 L776.0,316.5 L777.0,319.1 L778.0,321.7 L779.0,324.4 L780.0,327.6 L781.0,331.1 L782.0,334.2 L783.0,337.4 L784.0,341.2 L785.0,345.2 L786.0,349.1 L787.0,352.8 L788.0,356.4 L789.0,360.3 L790.0,364.2 L791.0,368.7 L792.0,373.5 L793.0,378.2 L794.0,382.8 L795.0,387.8 L796.0,393.2 L797.0,398.6 L798.0,403.7 L799.0,409.3 L800.0,415.1 L801.0,420.8 L802.0,426.6 L803.0,432.2 L804.0,437.6 L805.0,443.6 L806.0,450.3 L807.0,456.9 L808.0,462.9 L809.0,468.8 L810.0,475.1 L811.0,481.5 L812.0,488.3 L813.0,495.4 L814.0,502.7 L815.0,509.4 L816.0,515.7 L817.0,522.5 L818.0,529.5 L819.0,536.6 L820.0,543.5 L821.0,550.4 L822.0,557.5 L823.0,564.5 L824.0,571.7 L825.0,579.1 L826.0,586.4 L827.0,593.7 L828.0,601.0 L829.0,607.9 L830.0,615.0 L831.0,622.6 L832.0,629.8 L833.0,636.8 L834.0,644.1 L835.0,651.5 L836.0,658.5 L837.0,665.5 L838.0,672.8 L839.0,679.8 L840.0,686.7 L841.0,693.8 L842.0,701.0 L843.0,708.0 L844.0,714.9 L845.0,721.7 L846.0,728.1 L847.0,734.6 L848.0,741.1 L849.0,747.4 L850.0,753.5 L851.0,760.0 L852.0,766.5 L853.0,772.5 L854.0,778.5 L855.0,784.5 L856.0,790.2 L857.0,796.3 L858.0,802.2 L859.0,807.5 L860.0,813.1 L861.0,818.6 L862.0,823.6 L863.0,828.5 L864.0,833.0 L865.0,837.6 L866.0,842.9 L867.0,848.0 L868.0,852.4 L869.0,856.5 L870.0,860.6 L871.0,864.6 L872.0,868.7 L873.0,872.4 L874.0,876.2 L875.0,880.0 L876.0,883.7 L877.0,887.4 L878.0,890.6 L879.0,893.2 L880.0,896.0 L881.0,899.1 L882.0,901.7 L883.0,904.0 L884.0,906.7 L885.0,908.9 L886.0,910.7 L887.0,912.6 L888.0,914.5 L889.0,916.7 L890.0,918.4 L891.0,919.7 L892.0,920.9 L893.0,922.2 L894.0,923.2 L895.0,924.3 L896.0,925.7 L897.0,926.2 L898.0,926.5 L899.0,927.2 L900.0,927.6 L901.0,927.6 L902.0,927.6 L903.0,927.7 L904.0,927.8 L905.0,927.4 L906.0,926.5 L907.0,926.0 L908.0,925.9 L909.0,925.5 L910.0,924.9 L911.0,924.2 L912.0,923.4 L913.0,922.2 L914.0,921.1 L915.0,920.5 L916.0,919.5 L917.0,918.0 L918.0,916.9 L919.0,915.7 L920.0,914.0 L921.0,911.7 L922.0,909.7 L923.0,908.4 L924.0,907.1 L925.0,905.3 L926.0,903.3 L927.0,901.3 L928.0,899.2 L929.0,897.3 L930.0,895.1 L931.0,892.8 L932.0,890.7 L933.0,888.8 L934.0,886.7 L935.0,884.3 L936.0,881.6 L937.0,879.2 L938.0,877.3 L939.0,875.2 L940.0,872.6 L941.0,869.8 L942.0,867.4 L943.0,865.1 L944.0,862.6 L945.0,859.9 L946.0,857.4 L947.0,854.8 L948.0,852.2 L949.0,849.9 L950.0,847.6 L951.0,845.4 L952.0,843.0 L953.0,840.4 L954.0,838.0 L955.0,835.7 L956.0,832.4 L957.0,828.9 L958.0,826.8 L959.0,825.0 L960.0,822.4 L961.0,820.0 L962.0,817.6 L963.0,814.8 L964.0,812.3 L965.0,810.0 L966.0,807.9 L967.0,805.8 L968.0,803.3 L969.0,801.0 L970.0,798.8 L971.0,796.2 L972.0,793.4 L973.0,791.1 L974.0,789.2 L975.0,787.0 L976.0,784.8 L977.0,782.7 L978.0,780.4 L979.0,778.1 L980.0,775.8 L981.0,773.5 L982.0,771.7 L983.0,769.9 L984.0,767.6 L985.0,765.6 L986.0,763.9 L987.0,761.9 L988.0,759.6 L989.0,757.8 L990.0,756.1 L991.0,754.1 L992.0,752.2 L993.0,750.4 L994.0,748.4 L995.0,746.9 L996.0,745.6 L997.0,743.4 L998.0,741.3 L999.0,739.7 L1000.0,738.2 L1001.0,736.6 L1002.0,734.6 L1003.0,733.0 L1004.0,731.8 L1005.0,730.3 L1006.0,728.5 L1007.0,726.8 L1008.0,725.2 L1009.0,723.6 L1010.0,722.2 L1011.0,720.8 L1012.0,718.9 L1013.0,717.8 L1014.0,716.9 L1015.0,715.3 L1016.0,713.7 L1017.0,712.4 L1018.0,711.3 L1019.0,710.3 L1020.0,709.4 L1021.0,708.1 L1022.0,706.4 L1023.0,705.1 L1024.0,703.8 L1025.0,702.4 L1026.0,701.1 L1027.0,700.3 L1028.0,699.6 L1029.0,698.2 L1030.0,696.7 L1031.0,696.0 L1032.0,695.1 L1033.0,693.8 L1034.0,692.5 L1035.0,691.5 L1036.0,690.5 L1037.0,689.3 L1038.0,688.1 L1039.0,687.1 L1040.0,685.9 L1041.0,684.9 L1042.0,684.3 L1043.0,683.4 L1044.0,682.5 L1045.0,681.5 L1046.0,681.0 L1047.0,680.5 L1048.0,679.5 L1049.0,678.4 L1050.0,677.5 L1051.0,676.4 L1052.0,675.4 L1053.0,674.7 L1054.0,674.0 L1055.0,672.9 L1056.0,672.1 L1057.0,671.5 L1058.0,670.8 L1059.0,670.1 L1060.0,669.4 L1061.0,668.6 L1062.0,668.3 L1063.0,667.8 L1064.0,666.7 L1065.0,665.5 L1066.0,664.9 L1067.0,664.6 L1068.0,663.8 L1069.0,662.6 L1070.0,662.0 L1071.0,661.6 L1072.0,661.2 L1073.0,660.7 L1074.0,660.1 L1075.0,659.7 L1076.0,659.0 L1077.0,658.0 L1078.0,657.5 L1079.0,657.7 L1080.0,657.3 L1081.0,656.2 L1082.0,655.5 L1083.0,655.2 L1084.0,654.6 L1085.0,654.0 L1086.0,653.7 L1087.0,653.3 L1088.0,653.0 L1089.0,652.6 L1090.0,651.3 L1091.0,650.7 L1092.0,650.7 L1093.0,650.4 L1094.0,649.9 L1095.0,649.6 L1096.0,649.1 L1097.0,648.4 L1098.0,647.6 L1099.0,647.4 L1100.0,647.4 L1101.0,646.8 L1102.0,646.0 L1103.0,645.8 L1104.0,645.7 L1105.0,645.4 L1106.0,645.1 L1107.0,644.7 L1108.0,644.1 L1109.0,643.2 L1110.0,642.3 L1111.0,642.2 L1112.0,642.7 L1113.0,642.7 L1114.0,642.1 L1115.0,641.6 L1116.0,641.3 L1117.0,641.0 L1118.0,640.8 L1119.0,640.3 L1120.0,640.0 L1121.0,639.8 L1122.0,639.6 L1123.0,639.4 L1124.0,639.0 L1125.0,638.7 L1126.0,638.6 L1127.0,638.2 L1128.0,637.4 L1129.0,636.9 L1130.0,636.8 L1131.0,636.2 L1132.0,636.0 L1133.0,636.5 L1134.0,636.4 L1135.0,636.1 L1136.0,636.1 L1137.0,635.8 L1138.0,635.0 L1139.0,634.6 L1140.0,634.3 L1141.0,634.0 L1142.0,634.1 L1143.0,634.1 L1144.0,634.0 L1145.0,633.8 L1146.0,633.5 L1147.0,633.6 L1148.0,633.5 L1149.0,633.3 L1150.0,633.1 L1151.0,633.0 L1152.0,632.8 L1153.0,632.4 L1154.0,632.2 L1155.0,632.0 L1156.0,631.8 L1157.0,631.9 L1158.0,631.8 L1159.0,631.5 L1160.0,631.4 L1161.0,631.6 L1162.0,631.3 L1163.0,630.8 L1164.0,630.4 L1165.0,630.1 L1166.0,630.3 L1167.0,630.6 L1168.0,630.1 L1169.0,629.5 L1170.0,629.6 L1171.0,629.7 L1172.0,629.5 L1173.0,629.5 L1174.0,629.5 L1175.0,629.0 L1176.0,628.4 L1177.0,628.6 L1178.0,628.8 L1179.0,629.0 L1180.0,628.6 L1181.0,627.7 L1182.0,627.8 L1183.0,628.1 L1184.0,627.5 L1185.0,626.9 L1186.0,626.9 L1187.0,627.1 L1188.0,627.2 L1189.0,627.1 L1190.0,626.9 L1191.0,626.8 L1192.0,626.7 L1193.0,626.5 L1194.0,626.6 L1195.0,626.9 L1196.0,626.9 L1197.0,626.7 L1198.0,626.3 L1199.0,626.0 L1200.0,626.0 L1201.0,626.1 L1202.0,626.2 L1203.0,626.5 L1204.0,627.0 L1205.0,627.0 L1206.0,626.3 L1207.0,625.6 L1208.0,625.5 L1209.0,625.7 L1210.0,625.4 L1211.0,625.1 L1212.0,625.3 L1213.0,625.5 L1214.0,625.4 L1215.0,625.4 L1216.0,625.5 L1217.0,625.4 L1218.0,625.1 L1219.0,625.2 L1220.0,625.2 L1221.0,625.0 L1222.0,624.5 L1223.0,624.3 L1224.0,624.7 L1225.0,624.8 L1226.0,624.6 L1227.0,624.5 L1228.0,624.5 L1229.0,624.2 L1230.0,624.0 L1231.0,624.2 L1232.0,624.4 L1233.0,624.5 L1234.0,624.4 L1235.0,624.2 L1236.0,624.3 L1237.0,624.4 L1238.0,623.9 L1239.0,623.6 L1240.0,624.2 L1241.0,624.5 L1242.0,623.9 L1243.0,623.5 L1244.0,623.6 L1245.0,623.7 L1246.0,623.7 L1247.0,623.6 L1248.0,623.7 L1249.0,624.0 L1250.0,623.5 L1251.0,623.2 L1252.0,623.5 L1253.0,623.7 L1254.0,623.5 L1255.0,623.1 L1256.0,622.9 L1257.0,623.1 L1258.0,623.3 L1259.0,623.5 L1260.0,623.2 L1261.0,622.7 L1262.0,622.8 L1263.0,623.2 L1264.0,622.9 L1265.0,622.9 L1266.0,623.1 L1267.0,623.1 L1268.0,622.9 L1269.0,623.0 L1270.0,623.0 L1271.0,622.9 L1272.0,622.8 L1273.0,622.8 L1274.0,623.0 L1275.0,623.0 L1276.0,622.7 L1277.0,622.5 L1278.0,622.4 L1279.0,622.2 L1280.0,622.3 L1281.0,622.3 L1282.0,622.1 L1283.0,622.1 L1284.0,622.1 L1285.0,622.3 L1286.0,622.3 L1287.0,621.8 L1288.0,621.5 L1289.0,621.5 L1290.0,622.2 L1291.0,622.5 L1292.0,622.0 L1293.0,621.7 L1294.0,621.9 L1295.0,622.1 L1296.0,622.1 L1297.0,622.2 L1298.0,622.1 L1299.0,621.5 L1300.0,621.4 L1301.0,622.1 L1302.0,622.2 L1303.0,621.7 L1304.0,621.5 L1305.0,621.3 L1306.0,621.3 L1307.0,621.7 L1308.0,621.5 L1309.0,621.5 L1310.0,621.9 L1311.0,621.7 L1312.0,621.7 L1313.0,622.0 L1314.0,621.7 L1315.0,621.3 L1316.0,621.3 L1317.0,621.6 L1318.0,621.4 L1319.0,621.1 L1320.0,621.2 L1321.0,621.2 L1322.0,621.4 L1323.0,621.9 L1324.0,621.8 L1325.0,621.2 L1326.0,621.0 L1327.0,620.7 L1328.0,620.3 L1329.0,620.7 L1330.0,621.4 L1331.0,621.4 L1332.0,620.8 L1333.0,620.5 L1334.0,620.6 L1335.0,620.6 L1336.0,620.5 L1337.0,620.2 L1338.0,620.2 L1339.0,620.6 L1340.0,620.8 L1341.0,620.8 L1342.0,620.4 L1343.0,620.3 L1344.0,620.9 L1345.0,621.0 L1346.0,620.6 L1347.0,620.5 L1348.0,620.3 L1349.0,620.0 L1350.0,620.2 L1351.0,620.9 L1352.0,620.8 L1353.0,620.5 L1354.0,620.7 L1355.0,620.5 L1356.0,620.2 L1357.0,620.5 L1358.0,620.7 L1359.0,620.5 L1360.0,620.3 L1361.0,620.1 L1362.0,620.2 L1363.0,620.3 L1364.0,620.6 L1365.0,620.5 L1366.0,620.5 L1367.0,620.7 L1368.0,620.6 L1369.0,620.3 L1370.0,620.4 L1371.0,620.6 L1372.0,620.6 L1373.0,620.9 L1374.0,621.1 L1375.0,620.8 L1376.0,620.5 L1377.0,620.0 L1378.0,619.6 L1379.0,620.0 L1380.0,620.2 L1381.0,619.9 L1382.0,620.0 L1383.0,620.0 L1384.0,619.8 L1385.0,619.7 L1386.0,619.8 L1387.0,619.9 L1388.0,619.7 L1389.0,619.4 L1390.0,619.5 L1391.0,619.9 L1392.0,620.2 L1393.0,620.3 L1394.0,620.4 L1395.0,620.1 L1396.0,619.7 L1397.0,620.0 L1398.0,620.1 L1399.0,619.9 L1400.0,619.8 L1401.0,620.0 L1402.0,620.4 L1403.0,620.6 L1404.0,620.5 L1405.0,619.8 L1406.0,619.0 L1407.0,619.3 L1408.0,619.9 L1409.0,620.1 L1410.0,620.3 L1411.0,620.1 L1412.0,619.8 L1413.0,620.0 L1414.0,619.8 L1415.0,619.4 L1416.0,619.5 L1417.0,619.8 L1418.0,619.9 L1419.0,619.9 L1420.0,619.8 L1421.0,620.0 L1422.0,620.0 L1423.0,619.8 L1424.0,619.9 L1425.0,619.9 L1426.0,619.6 L1427.0,619.4 L1428.0,619.6 L1429.0,619.9 L1430.0,619.9 L1431.0,620.2 L1432.0,620.4 L1433.0,619.9 L1434.0,619.6 L1435.0,620.1 L1436.0,620.2 L1437.0,620.1 L1438.0,619.9 L1439.0,619.4 L1440.0,619.1 L1441.0,619.1 L1442.0,619.4 L1443.0,619.5 L1444.0,619.4 L1445.0,619.1 L1446.0,619.0 L1447.0,619.2 L1448.0,619.2 L1449.0,619.3 L1450.0,619.6 L1451.0,619.6 L1452.0,619.5 L1453.0,619.5 L1454.0,619.3 L1455.0,619.0 L1456.0,618.8 L1457.0,618.6 L1458.0,618.5 L1459.0,618.7 L1460.0,619.3 L1461.0,619.5 L1462.0,619.5 L1463.0,619.6 L1464.0,619.4 L1465.0,619.5 L1466.0,619.5 L1467.0,619.2 L1468.0,619.1 L1469.0,618.9 L1470.0,618.8 L1471.0,618.9 L1472.0,618.9 L1473.0,618.7 L1474.0,618.8 L1475.0,619.0 L1476.0,619.1 L1477.0,619.0 L1478.0,619.0 L1479.0,619.0 L1480.0,619.1 L1481.0,619.2 L1482.0,619.3 L1483.0,619.6 L1484.0,619.8 L1485.0,619.6 L1486.0,619.1 L1487.0,618.9 L1488.0,619.1 L1489.0,619.1 L1490.0,619.2 L1491.0,619.4 L1492.0,619.3 L1493.0,619.2 L1494.0,619.2 L1495.0,619.1 L1496.0,618.7 L1497.0,618.7 L1498.0,618.7 L1499.0,618.3 L1500.0,618.7 L1501.0,619.4 L1502.0,619.2 L1503.0,619.1 L1504.0,619.1 L1505.0,618.8 L1506.0,618.6 L1507.0,618.5 L1508.0,618.4 L1509.0,618.7 L1510.0,619.0 L1511.0,619.1 L1512.0,619.2 L1513.0,619.1 L1514.0,619.0 L1515.0,618.9 L1516.0,618.7 L1517.0,618.7 L1518.0,618.8 L1519.0,618.7 L1520.0,618.7 L1521.0,618.8 L1522.0,618.7 L1523.0,618.5 L1524.0,618.3 L1525.0,618.3 L1526.0,618.6 L1527.0,618.5 L1528.0,618.5 L1529.0,618.7 L1530.0,618.7 L1531.0,618.8 L1532.0,619.3 L1533.0,619.1 L1534.0,618.5 L1535.0,618.2 L1536.0,618.1 L1537.0,617.8 L1538.0,617.7 L1539.0,618.0 L1540.0,618.2 L1541.0,618.1 L1542.0,618.3 L1543.0,619.0 L1544.0,618.9 L1545.0,618.5 L1546.0,618.6 L1547.0,618.6 L1548.0,618.5 L1549.0,618.5 L1550.0,618.6 L1551.0,618.9 L1552.0,619.1 L1553.0,618.9 L1554.0,618.4 L1555.0,618.3 L1556.0,618.5 L1557.0,618.3 L1558.0,618.3 L1559.0,618.3 L1560.0,618.1 L1561.0,618.1 L1562.0,618.7 L1563.0,618.8 L1564.0,618.8 L1565.0,618.9 L1566.0,618.5 L1567.0,618.2 L1568.0,618.3 L1569.0,618.5 L1570.0,618.7 L1571.0,618.6 L1572.0,618.5 L1573.0,618.6 L1574.0,618.7 L1575.0,618.7 L1576.0,618.7 L1577.0,618.4 L1578.0,618.3 L1579.0,618.6 L1580.0,618.7 L1581.0,618.5 L1582.0,618.7 L1583.0,618.8 L1584.0,618.9 L1585.0,618.9 L1586.0,618.8 L1587.0,618.9 L1588.0,618.4 L1589.0,617.8 L1590.0,617.8 L1591.0,618.1 L1592.0,618.4 L1593.0,618.4 L1594.0,618.2 L1595.0,618.3 L1596.0,618.4 L1597.0,618.4 L1598.0,618.7 L1599.0,619.0 L1600.0,618.7 L1601.0,618.7 L1602.0,618.4 L1603.0,618.0 L1604.0,618.0 L1605.0,618.0 L1606.0,617.8 L1607.0,617.7 L1608.0,618.1 L1609.0,618.8 L1610.0,618.7 L1611.0,618.1 L1612.0,617.8 L1613.0,617.8 L1614.0,618.0 L1615.0,618.3" stroke="#B177DE" stroke-width="9"/>
<path d="M140.0,618.0 L141.0,618.2 L142.0,618.2 L143.0,617.7 L144.0,617.5 L145.0,617.9 L146.0,618.5 L147.0,618.7 L148.0,618.5 L149.0,618.3 L150.0,617.9 L151.0,617.9 L152.0,618.3 L153.0,618.4 L154.0,618.0 L155.0,617.6 L156.0,618.0 L157.0,618.1 L158.0,618.1 L159.0,618.4 L160.0,618.8 L161.0,618.6 L162.0,618.2 L163.0,618.0 L164.0,618.0 L165.0,617.9 L166.0,618.2 L167.0,618.4 L168.0,618.3 L169.0,618.3 L170.0,618.2 L171.0,618.3 L172.0,618.3 L173.0,618.2 L174.0,618.1 L175.0,617.9 L176.0,617.6 L177.0,617.5 L178.0,617.9 L179.0,618.3 L180.0,618.3 L181.0,618.3 L182.0,618.3 L183.0,618.1 L184.0,617.6 L185.0,617.5 L186.0,617.6 L187.0,617.7 L188.0,618.0 L189.0,618.1 L190.0,617.8 L191.0,617.3 L192.0,617.4 L193.0,617.8 L194.0,618.0 L195.0,618.2 L196.0,618.1 L197.0,617.5 L198.0,617.2 L199.0,617.4 L200.0,617.7 L201.0,617.9 L202.0,617.8 L203.0,617.5 L204.0,617.4 L205.0,617.8 L206.0,618.1 L207.0,618.0 L208.0,617.8 L209.0,617.5 L210.0,617.4 L211.0,617.2 L212.0,616.9 L213.0,616.8 L214.0,617.3 L215.0,617.7 L216.0,617.8 L217.0,617.9 L218.0,617.8 L219.0,617.5 L220.0,617.3 L221.0,617.3 L222.0,617.4 L223.0,617.3 L224.0,617.8 L225.0,618.5 L226.0,618.3 L227.0,617.6 L228.0,617.3 L229.0,617.4 L230.0,617.4 L231.0,617.6 L232.0,617.9 L233.0,617.5 L234.0,617.4 L235.0,617.6 L236.0,617.9 L237.0,617.6 L238.0,617.4 L239.0,617.7 L240.0,617.5 L241.0,617.1 L242.0,616.8 L243.0,616.7 L244.0,617.0 L245.0,617.2 L246.0,617.1 L247.0,617.0 L248.0,617.1 L249.0,617.2 L250.0,617.3 L251.0,617.4 L252.0,617.2 L253.0,616.9 L254.0,616.9 L255.0,616.9 L256.0,616.8 L257.0,617.0 L258.0,616.8 L259.0,616.0 L260.0,616.2 L261.0,616.6 L262.0,616.7 L263.0,617.1 L264.0,617.4 L265.0,617.2 L266.0,617.1 L267.0,617.2 L268.0,617.3 L269.0,617.3 L270.0,617.2 L271.0,617.3 L272.0,617.2 L273.0,617.1 L274.0,617.1 L275.0,616.9 L276.0,616.8 L277.0,616.9 L278.0,617.0 L279.0,617.2 L280.0,617.2 L281.0,617.3 L282.0,617.5 L283.0,617.5 L284.0,616.6 L285.0,616.2 L286.0,617.0 L287.0,617.3 L288.0,616.8 L289.0,616.5 L290.0,616.4 L291.0,616.4 L292.0,616.5 L293.0,616.8 L294.0,617.0 L295.0,616.8 L296.0,616.8 L297.0,617.3 L298.0,617.4 L299.0,616.9 L300.0,616.4 L301.0,616.3 L302.0,616.2 L303.0,616.3 L304.0,616.5 L305.0,616.6 L306.0,616.7 L307.0,616.7 L308.0,616.1 L309.0,616.0 L310.0,616.8 L311.0,617.0 L312.0,616.5 L313.0,616.7 L314.0,617.3 L315.0,617.0 L316.0,616.2 L317.0,615.9 L318.0,616.1 L319.0,616.4 L320.0,616.5 L321.0,616.7 L322.0,616.8 L323.0,616.2 L324.0,615.7 L325.0,615.8 L326.0,615.9 L327.0,615.8 L328.0,616.0 L329.0,616.1 L330.0,616.0 L331.0,616.0 L332.0,615.6 L333.0,615.2 L334.0,615.4 L335.0,615.9 L336.0,615.9 L337.0,615.9 L338.0,615.8 L339.0,615.3 L340.0,615.1 L341.0,615.6 L342.0,616.1 L343.0,616.0 L344.0,615.9 L345.0,615.8 L346.0,615.3 L347.0,615.2 L348.0,615.4 L349.0,615.1 L350.0,614.8 L351.0,615.1 L352.0,615.6 L353.0,615.8 L354.0,615.5 L355.0,615.0 L356.0,615.0 L357.0,615.2 L358.0,615.2 L359.0,615.1 L360.0,615.1 L361.0,615.1 L362.0,614.6 L363.0,614.0 L364.0,614.4 L365.0,614.9 L366.0,615.0 L367.0,615.0 L368.0,614.7 L369.0,614.9 L370.0,615.3 L371.0,615.2 L372.0,614.8 L373.0,614.7 L374.0,614.6 L375.0,614.5 L376.0,614.1 L377.0,613.9 L378.0,614.0 L379.0,614.0 L380.0,614.0 L381.0,613.8 L382.0,613.5 L383.0,613.7 L384.0,613.9 L385.0,613.7 L386.0,613.2 L387.0,613.0 L388.0,613.1 L389.0,613.1 L390.0,612.7 L391.0,612.4 L392.0,612.7 L393.0,613.1 L394.0,613.0 L395.0,612.3 L396.0,611.9 L397.0,612.0 L398.0,612.6 L399.0,613.1 L400.0,612.9 L401.0,612.2 L402.0,611.8 L403.0,611.7 L404.0,611.5 L405.0,611.7 L406.0,612.0 L407.0,611.8 L408.0,611.9 L409.0,612.5 L410.0,612.2 L411.0,611.3 L412.0,610.9 L413.0,611.1 L414.0,611.1 L415.0,611.1 L416.0,611.2 L417.0,610.9 L418.0,610.5 L419.0,610.7 L420.0,610.8 L421.0,610.5 L422.0,610.1 L423.0,609.9 L424.0,609.6 L425.0,609.3 L426.0,609.4 L427.0,609.3 L428.0,609.1 L429.0,609.1 L430.0,608.8 L431.0,608.4 L432.0,608.2 L433.0,608.2 L434.0,608.3 L435.0,608.1 L436.0,607.8 L437.0,607.7 L438.0,607.4 L439.0,607.2 L440.0,607.1 L441.0,607.2 L442.0,607.3 L443.0,607.4 L444.0,607.5 L445.0,607.0 L446.0,606.2 L447.0,605.9 L448.0,605.8 L449.0,605.3 L450.0,604.8 L451.0,605.0 L452.0,605.2 L453.0,604.7 L454.0,604.2 L455.0,604.3 L456.0,604.6 L457.0,604.4 L458.0,603.9 L459.0,603.2 L460.0,602.7 L461.0,602.7 L462.0,602.7 L463.0,602.4 L464.0,602.0 L465.0,601.6 L466.0,601.6 L467.0,601.3 L468.0,600.6 L469.0,600.1 L470.0,599.8 L471.0,599.3 L472.0,599.1 L473.0,599.2 L474.0,598.8 L475.0,598.5 L476.0,598.2 L477.0,597.6 L478.0,597.3 L479.0,597.2 L480.0,596.9 L481.0,596.4 L482.0,596.1 L483.0,595.6 L484.0,595.2 L485.0,595.1 L486.0,594.8 L487.0,594.0 L488.0,593.2 L489.0,593.1 L490.0,593.7 L491.0,593.2 L492.0,591.7 L493.0,591.0 L494.0,591.1 L495.0,591.0 L496.0,590.5 L497.0,589.7 L498.0,588.9 L499.0,588.4 L500.0,588.2 L501.0,587.9 L502.0,587.0 L503.0,586.2 L504.0,586.0 L505.0,585.8 L506.0,585.3 L507.0,584.5 L508.0,584.1 L509.0,583.8 L510.0,583.0 L511.0,582.3 L512.0,581.8 L513.0,581.0 L514.0,580.3 L515.0,579.9 L516.0,579.2 L517.0,578.4 L518.0,578.0 L519.0,577.5 L520.0,576.6 L521.0,575.9 L522.0,575.8 L523.0,575.2 L524.0,573.9 L525.0,573.1 L526.0,572.8 L527.0,572.3 L528.0,571.5 L529.0,570.5 L530.0,569.6 L531.0,568.8 L532.0,568.1 L533.0,567.5 L534.0,566.9 L535.0,565.9 L536.0,564.7 L537.0,563.4 L538.0,562.7 L539.0,562.5 L540.0,562.2 L541.0,561.4 L542.0,560.3 L543.0,559.3 L544.0,558.4 L545.0,557.3 L546.0,556.2 L547.0,555.6 L548.0,554.6 L549.0,553.2 L550.0,552.3 L551.0,551.8 L552.0,551.1 L553.0,550.0 L554.0,548.3 L555.0,547.2 L556.0,546.3 L557.0,545.1 L558.0,544.2 L559.0,543.4 L560.0,542.4 L561.0,541.3 L562.0,540.0 L563.0,538.8 L564.0,537.8 L565.0,536.4 L566.0,534.8 L567.0,533.6 L568.0,532.7 L569.0,531.6 L570.0,530.1 L571.0,528.3 L572.0,526.8 L573.0,525.7 L574.0,524.2 L575.0,523.0 L576.0,521.7 L577.0,519.8 L578.0,518.5 L579.0,517.5 L580.0,515.9 L581.0,514.7 L582.0,513.8 L583.0,511.7 L584.0,509.4 L585.0,508.0 L586.0,506.9 L587.0,505.5 L588.0,503.6 L589.0,501.6 L590.0,500.0 L591.0,498.3 L592.0,496.3 L593.0,494.6 L594.0,492.9 L595.0,491.1 L596.0,489.3 L597.0,487.4 L598.0,485.4 L599.0,483.4 L600.0,481.7 L601.0,479.9 L602.0,477.3 L603.0,474.9 L604.0,473.3 L605.0,471.2 L606.0,468.7 L607.0,466.3 L608.0,464.1 L609.0,461.9 L610.0,459.6 L611.0,457.7 L612.0,455.9 L613.0,454.0 L614.0,451.5 L615.0,448.9 L616.0,446.4 L617.0,443.5 L618.0,440.5 L619.0,437.8 L620.0,435.0 L621.0,432.3 L622.0,429.9 L623.0,427.3 L624.0,424.3 L625.0,421.3 L626.0,418.7 L627.0,416.3 L628.0,413.4 L629.0,410.4 L630.0,407.4 L631.0,404.5 L632.0,401.6 L633.0,398.4 L634.0,395.1 L635.0,392.0 L636.0,389.0 L637.0,385.8 L638.0,382.2 L639.0,378.7 L640.0,375.7 L641.0,372.5 L642.0,369.1 L643.0,365.3 L644.0,361.7 L645.0,358.4 L646.0,354.9 L647.0,351.5 L648.0,347.8 L649.0,344.2 L650.0,341.2 L651.0,337.6 L652.0,333.6 L653.0,329.9 L654.0,326.3 L655.0,322.5 L656.0,318.5 L657.0,314.7 L658.0,311.0 L659.0,307.2 L660.0,303.5 L661.0,299.4 L662.0,295.2 L663.0,291.5 L664.0,287.4 L665.0,283.1 L666.0,279.1 L667.0,275.3 L668.0,271.7 L669.0,267.9 L670.0,264.0 L671.0,259.9 L672.0,255.9 L673.0,251.9 L674.0,247.9 L675.0,244.1 L676.0,240.5 L677.0,236.8 L678.0,232.8 L679.0,228.3 L680.0,224.0 L681.0,220.6 L682.0,217.1 L683.0,213.0 L684.0,209.4 L685.0,206.0 L686.0,202.2 L687.0,198.3 L688.0,194.8 L689.0,191.4 L690.0,188.0 L691.0,184.6 L692.0,180.7 L693.0,176.9 L694.0,174.1 L695.0,171.4 L696.0,168.2 L697.0,165.0 L698.0,162.0 L699.0,158.9 L700.0,156.0 L701.0,153.3 L702.0,150.4 L703.0,147.7 L704.0,145.1 L705.0,142.5 L706.0,140.1 L707.0,137.8 L708.0,136.0 L709.0,134.2 L710.0,132.4 L711.0,130.2 L712.0,128.4 L713.0,126.9 L714.0,125.3 L715.0,124.4 L716.0,123.4 L717.0,121.6 L718.0,120.3 L719.0,119.9 L720.0,119.8 L721.0,119.3 L722.0,118.7 L723.0,118.3 L724.0,118.5 L725.0,118.9 L726.0,119.2 L727.0,119.5 L728.0,119.8 L729.0,120.2 L730.0,121.0 L731.0,122.5 L732.0,123.9 L733.0,124.8 L734.0,126.1 L735.0,127.9 L736.0,130.1 L737.0,132.2 L738.0,134.7 L739.0,137.4 L740.0,139.8 L741.0,142.4 L742.0,145.5 L743.0,149.0 L744.0,152.7 L745.0,156.1 L746.0,159.6 L747.0,163.5 L748.0,167.5 L749.0,171.9 L750.0,176.7 L751.0,181.0 L752.0,185.3 L753.0,190.5 L754.0,195.9 L755.0,201.7 L756.0,207.8 L757.0,213.3 L758.0,219.0 L759.0,225.3 L760.0,232.1 L761.0,238.8 L762.0,245.1 L763.0,251.4 L764.0,258.3 L765.0,265.8 L766.0,273.2 L767.0,280.6 L768.0,288.5 L769.0,296.7 L770.0,304.7 L771.0,312.5 L772.0,320.5 L773.0,328.7 L774.0,336.8 L775.0,345.5 L776.0,354.8 L777.0,364.1 L778.0,372.9 L779.0,381.7 L780.0,391.0 L781.0,400.6 L782.0,410.3 L783.0,420.0 L784.0,429.3 L785.0,438.4 L786.0,448.4 L787.0,458.6 L788.0,468.7 L789.0,478.7 L790.0,488.5 L791.0,498.8 L792.0,509.1 L793.0,519.4 L794.0,530.1 L795.0,540.3 L796.0,550.3 L797.0,560.7 L798.0,571.2 L799.0,581.8 L800.0,592.3 L801.0,602.3 L802.0,612.2 L803.0,622.5 L804.0,632.9 L805.0,643.3 L806.0,653.9 L807.0,665.1 L808.0,675.8 L809.0,685.8 L810.0,695.8 L811.0,706.1 L812.0,716.6 L813.0,726.7 L814.0,736.5 L815.0,746.1 L816.0,755.8 L817.0,765.8 L818.0,775.3 L819.0,784.5 L820.0,794.1 L821.0,803.6 L822.0,812.9 L823.0,821.9 L824.0,830.6 L825.0,839.8 L826.0,849.2 L827.0,858.1 L828.0,866.6 L829.0,874.9 L830.0,883.0 L831.0,891.0 L832.0,898.7 L833.0,906.3 L834.0,914.1 L835.0,921.6 L836.0,928.6 L837.0,935.9 L838.0,943.3 L839.0,950.3 L840.0,957.0 L841.0,963.5 L842.0,969.9 L843.0,976.4 L844.0,982.2 L845.0,987.8 L846.0,993.5 L847.0,999.1 L848.0,1004.4 L849.0,1009.4 L850.0,1014.5 L851.0,1019.2 L852.0,1023.8 L853.0,1028.3 L854.0,1032.7 L855.0,1036.8 L856.0,1040.8 L857.0,1044.8 L858.0,1048.6 L859.0,1051.7 L860.0,1054.7 L861.0,1058.1 L862.0,1061.0 L863.0,1063.4 L864.0,1065.5 L865.0,1067.7 L866.0,1069.9 L867.0,1072.1 L868.0,1074.1 L869.0,1075.7 L870.0,1077.3 L871.0,1078.6 L872.0,1079.5 L873.0,1080.7 L874.0,1082.0 L875.0,1082.5 L876.0,1082.7 L877.0,1083.1 L878.0,1083.4 L879.0,1083.2 L880.0,1083.1 L881.0,1083.5 L882.0,1083.5 L883.0,1083.0 L884.0,1082.2 L885.0,1081.5 L886.0,1080.9 L887.0,1080.2 L888.0,1079.3 L889.0,1077.8 L890.0,1075.7 L891.0,1074.4 L892.0,1073.5 L893.0,1072.0 L894.0,1070.0 L895.0,1067.9 L896.0,1066.1 L897.0,1064.5 L898.0,1062.7 L899.0,1060.6 L900.0,1058.3 L901.0,1055.9 L902.0,1053.3 L903.0,1050.9 L904.0,1048.5 L905.0,1046.1 L906.0,1043.9 L907.0,1041.4 L908.0,1038.5 L909.0,1035.7 L910.0,1033.1 L911.0,1030.2 L912.0,1026.6 L913.0,1023.0 L914.0,1020.5 L915.0,1018.3 L916.0,1015.2 L917.0,1011.3 L918.0,1007.8 L919.0,1004.7 L920.0,1001.6 L921.0,998.8 L922.0,995.7 L923.0,992.2 L924.0,988.6 L925.0,985.2 L926.0,982.0 L927.0,978.5 L928.0,975.2 L929.0,972.2 L930.0,968.8 L931.0,965.5 L932.0,962.6 L933.0,959.4 L934.0,955.8 L935.0,952.1 L936.0,948.3 L937.0,945.2 L938.0,942.8 L939.0,939.4 L940.0,935.2 L941.0,931.6 L942.0,928.7 L943.0,925.5 L944.0,922.2 L945.0,919.1 L946.0,915.8 L947.0,912.6 L948.0,909.4 L949.0,906.2 L950.0,903.4 L951.0,900.3 L952.0,896.8 L953.0,893.7 L954.0,890.7 L955.0,887.7 L956.0,884.8 L957.0,881.9 L958.0,879.1 L959.0,876.2 L960.0,873.2 L961.0,870.2 L962.0,867.2 L963.0,864.1 L964.0,861.1 L965.0,858.5 L966.0,856.2 L967.0,853.5 L968.0,850.6 L969.0,847.9 L970.0,845.6 L971.0,843.2 L972.0,840.3 L973.0,837.4 L974.0,834.6 L975.0,831.7 L976.0,829.1 L977.0,826.8 L978.0,824.4 L979.0,822.1 L980.0,820.0 L981.0,817.5 L982.0,814.9 L983.0,813.0 L984.0,811.0 L985.0,808.6 L986.0,806.4 L987.0,804.2 L988.0,802.1 L989.0,800.3 L990.0,797.9 L991.0,795.5 L992.0,793.7 L993.0,791.5 L994.0,789.4 L995.0,787.7 L996.0,785.4 L997.0,783.0 L998.0,780.9 L999.0,778.9 L1000.0,777.3 L1001.0,775.2 L1002.0,773.2 L1003.0,771.8 L1004.0,770.1 L1005.0,768.3 L1006.0,766.9 L1007.0,765.2 L1008.0,762.8 L1009.0,760.8 L1010.0,759.6 L1011.0,758.5 L1012.0,756.8 L1013.0,754.9 L1014.0,753.2 L1015.0,751.4 L1016.0,749.5 L1017.0,748.1 L1018.0,747.1 L1019.0,745.4 L1020.0,743.8 L1021.0,742.4 L1022.0,740.5 L1023.0,738.9 L1024.0,738.2 L1025.0,736.9 L1026.0,735.1 L1027.0,733.6 L1028.0,732.0 L1029.0,730.4 L1030.0,729.3 L1031.0,728.5 L1032.0,727.2 L1033.0,725.2 L1034.0,723.5 L1035.0,722.2 L1036.0,721.2 L1037.0,720.2 L1038.0,719.1 L1039.0,717.5 L1040.0,716.1 L1041.0,715.1 L1042.0,714.0 L1043.0,712.5 L1044.0,711.0 L1045.0,709.5 L1046.0,707.9 L1047.0,706.9 L1048.0,706.5 L1049.0,705.6 L1050.0,704.5 L1051.0,703.7 L1052.0,702.6 L1053.0,701.0 L1054.0,699.7 L1055.0,698.7 L1056.0,697.8 L1057.0,696.9 L1058.0,696.1 L1059.0,695.2 L1060.0,694.2 L1061.0,692.7 L1062.0,691.2 L1063.0,690.4 L1064.0,689.8 L1065.0,689.2 L1066.0,688.6 L1067.0,687.3 L1068.0,685.9 L1069.0,685.5 L1070.0,685.3 L1071.0,684.5 L1072.0,683.2 L1073.0,682.1 L1074.0,681.3 L1075.0,680.1 L1076.0,678.8 L1077.0,677.9 L1078.0,677.0 L1079.0,676.6 L1080.0,676.3 L1081.0,675.4 L1082.0,674.5 L1083.0,673.5 L1084.0,672.5 L1085.0,671.5 L1086.0,670.4 L1087.0,669.8 L1088.0,669.6 L1089.0,669.0 L1090.0,667.9 L1091.0,667.3 L1092.0,666.8 L1093.0,665.7 L1094.0,664.8 L1095.0,664.3 L1096.0,663.6 L1097.0,662.8 L1098.0,661.8 L1099.0,661.1 L1100.0,660.6 L1101.0,660.0 L1102.0,659.7 L1103.0,659.4 L1104.0,658.5 L1105.0,657.7 L1106.0,657.1 L1107.0,656.8 L1108.0,656.4 L1109.0,655.8 L1110.0,655.3 L1111.0,654.7 L1112.0,654.1 L1113.0,653.5 L1114.0,652.8 L1115.0,652.0 L1116.0,651.8 L1117.0,651.5 L1118.0,651.3 L1119.0,651.2 L1120.0,650.2 L1121.0,649.1 L1122.0,648.5 L1123.0,648.1 L1124.0,647.6 L1125.0,647.2 L1126.0,646.6 L1127.0,646.0 L1128.0,645.4 L1129.0,645.2 L1130.0,645.3 L1131.0,645.1 L1132.0,644.6 L1133.0,644.2 L1134.0,644.3 L1135.0,644.0 L1136.0,642.9 L1137.0,641.9 L1138.0,641.5 L1139.0,641.4 L1140.0,641.5 L1141.0,641.4 L1142.0,641.0 L1143.0,640.5 L1144.0,640.1 L1145.0,639.9 L1146.0,639.5 L1147.0,639.1 L1148.0,638.7 L1149.0,638.3 L1150.0,638.1 L1151.0,637.6 L1152.0,637.4 L1153.0,637.4 L1154.0,637.2 L1155.0,636.9 L1156.0,636.7 L1157.0,636.0 L1158.0,635.6 L1159.0,635.9 L1160.0,636.0 L1161.0,635.9 L1162.0,635.3 L1163.0,634.3 L1164.0,633.9 L1165.0,634.0 L1166.0,633.8 L1167.0,633.7 L1168.0,633.8 L1169.0,633.7 L1170.0,633.6 L1171.0,633.3 L1172.0,632.6 L1173.0,631.8 L1174.0,631.4 L1175.0,631.4 L1176.0,631.1 L1177.0,630.7 L1178.0,630.8 L1179.0,631.2 L1180.0,631.3 L1181.0,631.0 L1182.0,630.3 L1183.0,630.0 L1184.0,630.2 L1185.0,630.1 L1186.0,629.5 L1187.0,629.3 L1188.0,629.3 L1189.0,629.2 L1190.0,629.1 L1191.0,628.8 L1192.0,628.8 L1193.0,628.6 L1194.0,628.0 L1195.0,627.8 L1196.0,627.8 L1197.0,627.7 L1198.0,627.7 L1199.0,627.8 L1200.0,627.8 L1201.0,628.0 L1202.0,628.1 L1203.0,627.6 L1204.0,627.3 L1205.0,627.4 L1206.0,627.3 L1207.0,627.4 L1208.0,627.1 L1209.0,626.5 L1210.0,626.2 L1211.0,626.2 L1212.0,626.4 L1213.0,626.5 L1214.0,626.2 L1215.0,626.2 L1216.0,626.2 L1217.0,626.2 L1218.0,626.0 L1219.0,626.3 L1220.0,626.4 L1221.0,625.9 L1222.0,625.6 L1223.0,625.8 L1224.0,625.9 L1225.0,625.4 L1226.0,624.8 L1227.0,624.6 L1228.0,624.8 L1229.0,625.0 L1230.0,625.2 L1231.0,625.3 L1232.0,625.1 L1233.0,624.7 L1234.0,624.5 L1235.0,624.4 L1236.0,624.5 L1237.0,624.3 L1238.0,624.2 L1239.0,624.5 L1240.0,624.4 L1241.0,624.4 L1242.0,624.5 L1243.0,624.4 L1244.0,624.2 L1245.0,624.1 L1246.0,624.1 L1247.0,624.2 L1248.0,624.5 L1249.0,624.4 L1250.0,623.9 L1251.0,624.1 L1252.0,624.0 L1253.0,623.8 L1254.0,623.9 L1255.0,623.9 L1256.0,623.7 L1257.0,623.4 L1258.0,623.5 L1259.0,623.8 L1260.0,623.8 L1261.0,623.6 L1262.0,623.4 L1263.0,623.2 L1264.0,623.3 L1265.0,623.3 L1266.0,622.8 L1267.0,622.6 L1268.0,622.9 L1269.0,623.2 L1270.0,623.3 L1271.0,623.0 L1272.0,622.9 L1273.0,623.3 L1274.0,623.4 L1275.0,623.1 L1276.0,623.2 L1277.0,623.1 L1278.0,622.6 L1279.0,622.5 L1280.0,622.5 L1281.0,622.5 L1282.0,622.6 L1283.0,622.8 L1284.0,622.8 L1285.0,622.3 L1286.0,622.3 L1287.0,622.8 L1288.0,622.8 L1289.0,622.5 L1290.0,622.3 L1291.0,622.5 L1292.0,622.6 L1293.0,622.4 L1294.0,622.5 L1295.0,622.6 L1296.0,622.8 L1297.0,622.8 L1298.0,622.4 L1299.0,622.6 L1300.0,623.0 L1301.0,622.5 L1302.0,622.2 L1303.0,622.2 L1304.0,622.1 L1305.0,622.1 L1306.0,622.5 L1307.0,622.7 L1308.0,622.4 L1309.0,622.3 L1310.0,622.1 L1311.0,622.0 L1312.0,621.9 L1313.0,621.7 L1314.0,622.0 L1315.0,622.0 L1316.0,621.9 L1317.0,622.2 L1318.0,622.1 L1319.0,622.1 L1320.0,622.3 L1321.0,622.5 L1322.0,622.9 L1323.0,622.6 L1324.0,621.9 L1325.0,621.7 L1326.0,622.0 L1327.0,622.1 L1328.0,621.6 L1329.0,621.5 L1330.0,622.0 L1331.0,622.1 L1332.0,621.9 L1333.0,622.0 L1334.0,622.1 L1335.0,622.2 L1336.0,622.0 L1337.0,621.7 L1338.0,621.8 L1339.0,622.1 L1340.0,621.8 L1341.0,621.5 L1342.0,621.8 L1343.0,622.0 L1344.0,622.0 L1345.0,621.9 L1346.0,621.6 L1347.0,621.3 L1348.0,621.5 L1349.0,621.8 L1350.0,622.0 L1351.0,622.0 L1352.0,621.6 L1353.0,621.8 L1354.0,621.8 L1355.0,621.7 L1356.0,621.8 L1357.0,621.8 L1358.0,621.7 L1359.0,621.5 L1360.0,621.6 L1361.0,621.8 L1362.0,621.5 L1363.0,621.1 L1364.0,621.4 L1365.0,621.7 L1366.0,621.8 L1367.0,622.0 L1368.0,621.9 L1369.0,621.6 L1370.0,621.1 L1371.0,621.0 L1372.0,620.8 L1373.0,620.7 L1374.0,621.1 L1375.0,621.2 L1376.0,621.1 L1377.0,620.9 L1378.0,621.1 L1379.0,621.2 L1380.0,621.0 L1381.0,620.8 L1382.0,620.9 L1383.0,620.9 L1384.0,620.8 L1385.0,621.0 L1386.0,621.0 L1387.0,620.8 L1388.0,621.3 L1389.0,621.2 L1390.0,620.9 L1391.0,620.7 L1392.0,620.7 L1393.0,621.0 L1394.0,621.2 L1395.0,621.3 L1396.0,621.2 L1397.0,621.1 L1398.0,621.2 L1399.0,621.4 L1400.0,621.2 L1401.0,620.7 L1402.0,621.0 L1403.0,621.4 L1404.0,621.6 L1405.0,621.6 L1406.0,621.2 L1407.0,621.1 L1408.0,621.3 L1409.0,620.9 L1410.0,620.4 L1411.0,620.7 L1412.0,621.0 L1413.0,621.0 L1414.0,621.0 L1415.0,621.1 L1416.0,621.2 L1417.0,621.0 L1418.0,620.5 L1419.0,620.4 L1420.0,621.0 L1421.0,621.4 L1422.0,620.9 L1423.0,620.1 L1424.0,620.3 L1425.0,620.9 L1426.0,620.8 L1427.0,620.3 L1428.0,620.5 L1429.0,620.9 L1430.0,620.9 L1431.0,621.1 L1432.0,621.1 L1433.0,620.8 L1434.0,620.6 L1435.0,620.7 L1436.0,620.6 L1437.0,620.3 L1438.0,620.3 L1439.0,620.6 L1440.0,620.8 L1441.0,620.9 L1442.0,620.7 L1443.0,620.3 L1444.0,620.0 L1445.0,620.4 L1446.0,620.9 L1447.0,621.0 L1448.0,620.7 L1449.0,620.4 L1450.0,620.2 L1451.0,620.3 L1452.0,620.5 L1453.0,620.4 L1454.0,620.5 L1455.0,620.9 L1456.0,621.1 L1457.0,621.0 L1458.0,620.8 L1459.0,620.4 L1460.0,620.0 L1461.0,620.1 L1462.0,620.5 L1463.0,620.5 L1464.0,620.3 L1465.0,620.4 L1466.0,620.0 L1467.0,619.6 L1468.0,619.6 L1469.0,619.9 L1470.0,620.5 L1471.0,620.4 L1472.0,619.9 L1473.0,620.3 L1474.0,620.8 L1475.0,620.3 L1476.0,620.0 L1477.0,620.4 L1478.0,620.6 L1479.0,620.9 L1480.0,621.1 L1481.0,621.1 L1482.0,620.8 L1483.0,620.7 L1484.0,620.8 L1485.0,620.6 L1486.0,620.3 L1487.0,619.7 L1488.0,619.3 L1489.0,619.9 L1490.0,620.4 L1491.0,620.2 L1492.0,620.0 L1493.0,619.7 L1494.0,619.7 L1495.0,619.9 L1496.0,620.0 L1497.0,620.0 L1498.0,620.4 L1499.0,620.6 L1500.0,620.2 L1501.0,619.6 L1502.0,619.8 L1503.0,620.2 L1504.0,620.0 L1505.0,619.8 L1506.0,619.9 L1507.0,619.8 L1508.0,619.6 L1509.0,619.9 L1510.0,620.2 L1511.0,620.3 L1512.0,620.5 L1513.0,620.3 L1514.0,619.9 L1515.0,619.8 L1516.0,619.5 L1517.0,619.4 L1518.0,619.5 L1519.0,619.4 L1520.0,619.4 L1521.0,619.8 L1522.0,619.9 L1523.0,619.8 L1524.0,619.6 L1525.0,619.3 L1526.0,619.3 L1527.0,619.7 L1528.0,620.0 L1529.0,619.9 L1530.0,619.6 L1531.0,619.4 L1532.0,619.6 L1533.0,619.9 L1534.0,619.8 L1535.0,619.6 L1536.0,619.5 L1537.0,619.3 L1538.0,619.2 L1539.0,619.2 L1540.0,619.2 L1541.0,619.3 L1542.0,619.6 L1543.0,619.5 L1544.0,619.4 L1545.0,619.5 L1546.0,619.3 L1547.0,619.5 L1548.0,619.9 L1549.0,619.7 L1550.0,619.5 L1551.0,619.7 L1552.0,620.1 L1553.0,620.2 L1554.0,619.9 L1555.0,620.2 L1556.0,620.3 L1557.0,619.9 L1558.0,619.6 L1559.0,619.5 L1560.0,619.2 L1561.0,619.2 L1562.0,619.6 L1563.0,619.6 L1564.0,619.4 L1565.0,619.6 L1566.0,620.0 L1567.0,619.9 L1568.0,619.3 L1569.0,618.8 L1570.0,618.9 L1571.0,619.3 L1572.0,619.4 L1573.0,618.9 L1574.0,618.6 L1575.0,618.9 L1576.0,619.0 L1577.0,619.2 L1578.0,619.6 L1579.0,619.5 L1580.0,619.3 L1581.0,619.6 L1582.0,619.8 L1583.0,619.3 L1584.0,619.0 L1585.0,619.2 L1586.0,619.7 L1587.0,619.6 L1588.0,619.4 L1589.0,619.4 L1590.0,618.7 L1591.0,618.2 L1592.0,618.6 L1593.0,619.1 L1594.0,619.3 L1595.0,619.2 L1596.0,619.0 L1597.0,618.9 L1598.0,618.8 L1599.0,618.9 L1600.0,618.9 L1601.0,618.8 L1602.0,619.0 L1603.0,619.3 L1604.0,619.3 L1605.0,619.5 L1606.0,619.6 L1607.0,619.4 L1608.0,619.3 L1609.0,619.1 L1610.0,619.0 L1611.0,618.9 L1612.0,618.8 L1613.0,618.9 L1614.0,619.3 L1615.0,619.3" stroke="#CC9900" stroke-width="9"/>
</g>
<rect x="957" y="107.0" width="156" height="9" fill="#515151"/><text class="leg" transform="translate(1132.3,135.7) scale(1,1.035)">HI-TS-0</text>
<rect x="957" y="195.0" width="156" height="9" fill="#F14040"/><text class="leg" transform="translate(1132.3,223.7) scale(1,1.035)">HI-TS-30</text>
<rect x="957" y="282.5" width="156" height="9" fill="#1A6FDF"/><text class="leg" transform="translate(1132.3,311.2) scale(1,1.035)">HI-TS-60</text>
<rect x="205" y="924.0" width="155" height="9" fill="#37AD6B"/><text class="leg" transform="translate(379.0,952.1) scale(1,1.035)">HI-TS-90</text>
<rect x="205" y="1011.5" width="155" height="9" fill="#B177DE"/><text class="leg" transform="translate(379.0,1039.6) scale(1,1.035)">HI-TS-120</text>
<rect x="205" y="1099.0" width="155" height="9" fill="#CC9900"/><text class="leg" transform="translate(379.0,1127.1) scale(1,1.035)">HI-TS-150</text>
</svg></body></html>
